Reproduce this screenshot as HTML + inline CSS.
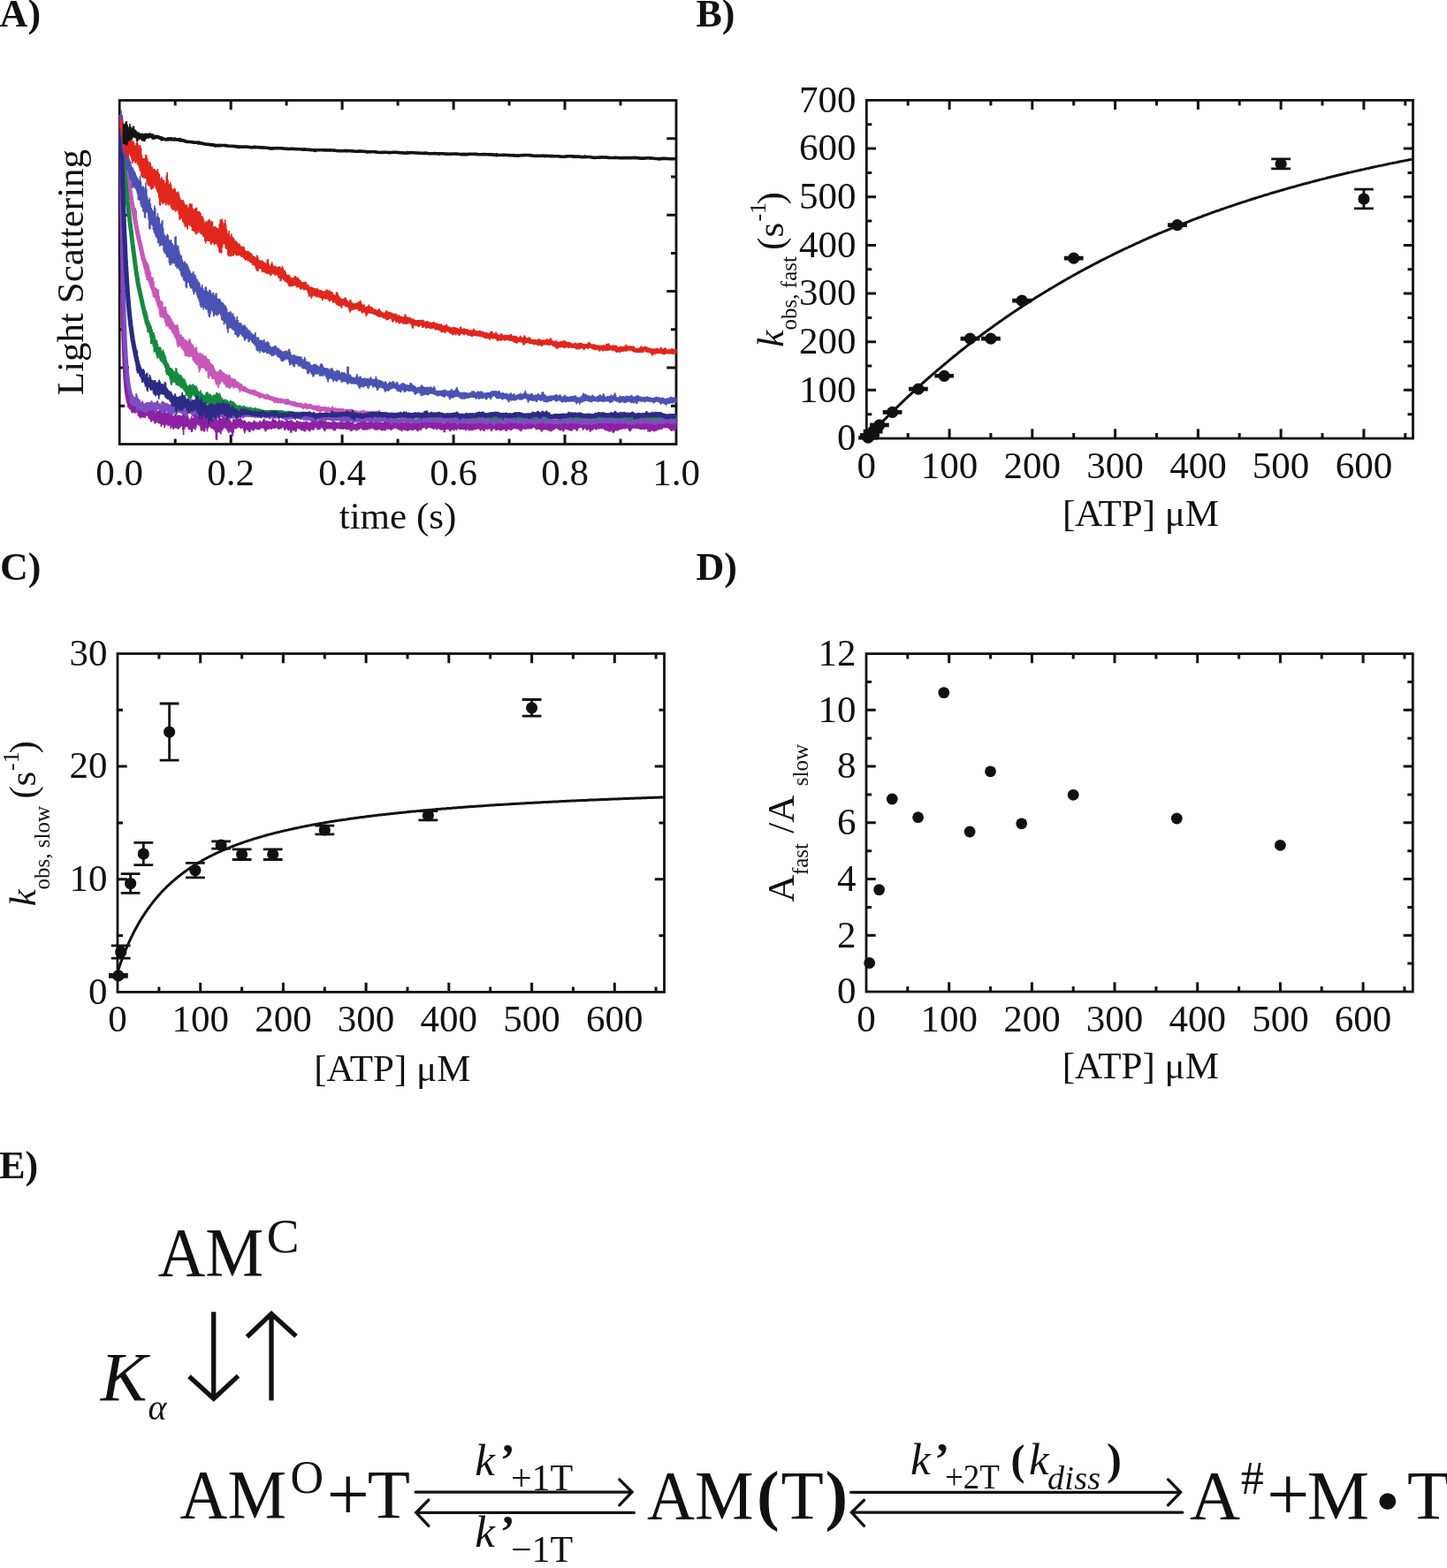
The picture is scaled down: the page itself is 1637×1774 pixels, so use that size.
<!DOCTYPE html><html><head><meta charset="utf-8"><title>Figure</title><style>html,body{margin:0;padding:0;background:#fff;}svg{display:block;}text{font-family:"Liberation Serif","Times New Roman",serif;fill:#111;}.b{font-weight:bold;}.i{font-style:italic;}</style></head><body>
<svg width="1637" height="1774" viewBox="0 0 1637 1774">
<rect width="1637" height="1774" fill="#fff"/>
<g font-size="44" class="b">
<text x="-0.4" y="29.8" class="b">A)</text>
<text x="787.5" y="29.8" class="b">B)</text>
<text x="0" y="656.3" class="b">C)</text>
<text x="787.5" y="656.3" class="b">D)</text>
<text x="-0.8" y="1333" class="b">E)</text>
</g>
<g font-size="43">
<path d="M198.2 502.5V496.5M198.2 113.5V119.5M261.2 502.5V491.8M261.2 113.5V124.2M324.1 502.5V496.5M324.1 113.5V119.5M387.1 502.5V491.8M387.1 113.5V124.2M450.1 502.5V496.5M450.1 113.5V119.5M513.1 502.5V491.8M513.1 113.5V124.2M576.1 502.5V496.5M576.1 113.5V119.5M639 502.5V491.8M639 113.5V124.2M702 502.5V496.5M702 113.5V119.5M135.2 459.3H141.2M765 459.3H759M135.2 416.1H145.9M765 416.1H754.3M135.2 372.8H141.2M765 372.8H759M135.2 329.6H145.9M765 329.6H754.3M135.2 286.4H141.2M765 286.4H759M135.2 243.2H145.9M765 243.2H754.3M135.2 199.9H141.2M765 199.9H759M135.2 156.7H145.9M765 156.7H754.3" stroke="#111" stroke-width="3.0" fill="none"/>
<rect x="135.2" y="113.5" width="629.8" height="389" fill="none" stroke="#111" stroke-width="2.8"/>
<g><path d="M136.6 134.5 136.6 134.5 136.6 134.6 136.6 134.7 136.6 134.9 136.7 135.1 136.7 135.3 136.7 135.6 136.8 136 136.8 136.3 136.9 136.8 136.9 137.3 137 137.8 137 138.3 137.1 138.9 137.2 139.6 137.2 140.2 137.3 141 137.4 141.7 137.5 142.5 137.6 143.3 137.7 144.2 137.8 145.1 137.9 146 138.1 147 138.2 148 138.3 149 138.4 150.1 138.6 151.2 138.7 152.4 138.9 153.6 139 154.8 139.2 156 139.3 157.3 139.5 158.6 139.7 159.9 139.9 161.2 140.1 162.6 140.2 163.9 140.4 165.4 140.6 166.8 140.8 168.4 141.1 170 141.3 171.6 141.5 173.2 141.7 174.8 141.9 176.6 142.2 178.4 142.4 180.2 142.7 182.2 142.9 184.1 143.2 186.1 143.4 188.1 143.7 190.2 144 192.4 144.2 194.5 144.5 196.8 144.8 199.1 145.1 201.4 145.4 203.6 145.7 205.9 146 208.2 146.3 210.4 146.6 212.6 146.9 214.8 147.3 217 147.6 219.2 147.9 221.3 148.3 223.4 148.6 225.5 149 227.6 149.3 229.7 149.7 231.7 150 233.8 150.4 235.7 150.8 237.8 151.2 240 151.6 242.2 152 244.3 152.4 246.5 152.8 248.7 153.2 251 153.6 253.2 154 255.5 154.4 257.7 154.8 259.8 155.3 261.9 155.7 263.9 156.1 266 156.6 268 157 270 157.5 272 158 274 158.4 275.9 158.9 278 159.4 280.1 159.9 282.1 160.3 284.3 160.8 286.5 161.3 288.7 161.8 290.9 162.3 293 162.9 295.1 163.4 297.2 163.9 299.1 164.4 300.9 165 302.5 165.5 304.1 166 305.8 166.6 307.4 167.1 308.8 167.7 310.3 168.3 312 168.8 313.6 169.4 315.3 170 317 170.6 318.7 171.1 320.6 171.7 322.4 172.3 324.1 172.9 325.8 173.5 327.3 174.2 328.8 174.8 330 175.4 331.6 176 333.1 176.7 334.6 177.3 335.9 177.9 337.6 178.6 339.5 179.3 341.1 179.9 343 180.6 344.8 181.2 346.5 181.9 348.2 182.6 349.6 183.3 351 184 352.3 184.7 353.4 185.4 354.4 186.1 355.5 186.8 356.6 187.5 357.7 188.2 359.1 188.9 360.4 189.7 361.6 190.4 363 191.1 364.4 191.9 365.7 192.6 366.6 193.4 367.5 194.1 368.4 194.9 369.2 195.7 370.5 196.5 371.8 197.2 373.4 198 375.2 198.8 377.2 199.6 379.4 200.4 381.4 201.2 383.1 202 384.3 202.8 385.2 203.7 385.9 204.5 386.3 205.3 386.7 206.1 387.3 207 387.9 207.8 388.6 208.7 389.6 209.5 390.5 210.4 391.3 211.3 392 212.1 392.7 213 393.3 213.9 393.8 214.8 394.5 215.7 395.4 216.6 396.3 217.5 397.4 218.4 398.7 219.3 400.2 220.2 401.8 221.1 403.3 222 404.6 223 406 223.9 407.1 224.9 408.1 225.8 408.8 226.7 409.3 227.7 409.7 228.7 409.6 229.6 409.7 230.6 409.8 231.6 409.9 232.6 410.5 233.5 411.6 234.5 412.6 235.5 413.8 236.5 415.1 237.5 416.2 238.6 417.4 239.6 418.8 240.6 420.3 241.6 421.9 242.7 423.9 243.7 425.4 244.7 426.4 245.8 427.2 246.8 427.3 247.9 427 249 426.6 250 426.3 251.1 426.3 252.2 426.5 253.3 427.2 254.3 428.2 255.4 429.3 256.5 430.3 257.6 431 258.7 431.6 259.9 431.8 261 431.9 262.1 432.3 263.2 432.7 264.4 433.3 265.5 434 266.6 434.8 267.8 435.6 268.9 436.3 270.1 436.9 271.3 437.7 272.4 438.3 273.6 438.9 274.8 439.4 276 440 277.2 440.5 278.4 441.2 279.6 441.8 280.8 442.4 282 442.7 283.2 443 284.4 443.2 285.6 443.4 286.9 443.9 288.1 444.4 289.3 445 290.6 445.5 291.8 446 293.1 446.4 294.3 446.8 295.6 447.2 296.9 447.7 298.1 448.2 299.4 448.7 300.7 449.1 302 449.4 303.3 449.6 304.6 449.9 305.9 450.3 307.2 450.7 308.5 451.2 309.8 451.7 311.2 452.2 312.5 452.6 313.8 453.1 315.2 453.4 316.5 453.6 317.9 453.7 319.2 453.7 320.6 453.8 321.9 454.1 323.3 454.6 324.7 455 326.1 455.3 327.5 455.6 328.8 455.9 330.2 456.4 331.6 456.9 333 457.4 334.5 457.8 335.9 458.1 337.3 458.3 338.7 458.5 340.2 458.8 341.6 459.1 343 459.4 344.5 459.4 345.9 459.5 347.4 459.5 348.8 459.6 350.3 460 351.8 460.3 353.3 460.7 354.7 461 356.2 461.2 357.7 461.5 359.2 461.9 360.7 462.2 362.2 462.5 363.7 462.6 365.2 462.7 366.8 462.8 368.3 462.9 369.8 463 371.4 463.2 372.9 463.5 374.5 463.9 376 464.3 377.6 464.7 379.1 464.8 380.7 464.7 382.3 464.4 383.8 464.3 385.4 464.4 387 464.7 388.6 465.2 390.2 465.5 391.8 465.6 393.4 465.5 395 465.5 396.6 465.8 398.3 466.2 399.9 466.7 401.5 467.3 403.2 467.7 404.8 467.8 406.5 467.7 408.1 467.5 409.8 467.2 411.4 467.1 413.1 467.2 414.8 467.5 416.4 467.8 418.1 468 419.8 468.1 421.5 468 423.2 468 424.9 468 426.6 468 428.3 468.3 430.1 468.3 431.8 468.4 433.5 468.4 435.2 468.6 437 469 438.7 469.3 440.5 469.7 442.2 470 444 470.2 445.8 470.2 447.5 469.9 449.3 469.7 451.1 469.8 452.9 470.2 454.6 470.6 456.4 470.8 458.2 470.7 460 470.4 461.9 470 463.7 469.8 465.5 469.8 467.3 470 469.1 470.2 471 470.4 472.8 470.4 474.7 470.4 476.5 470.3 478.4 470 480.2 469.8 482.1 469.8 484 470.2 485.8 470.5 487.7 470.8 489.6 471 491.5 471.1 493.4 470.9 495.3 470.9 497.2 471 499.1 471.3 501 471.6 502.9 471.8 504.9 472.3 506.8 472.8 508.7 472.9 510.7 472.4 512.6 471.6 514.6 471.3 516.5 471.6 518.5 472.1 520.5 472.5 522.4 472.4 524.4 472.2 526.4 471.9 528.4 471.8 530.4 472.1 532.4 472.6 534.4 473.1 536.4 473 538.4 472.6 540.4 471.9 542.4 471.3 544.4 471 546.5 471.1 548.5 471.6 550.5 472.2 552.6 472.7 554.6 473 556.7 473.2 558.8 473.3 560.8 473.1 562.9 472.7 565 472.3 567.1 472.2 569.1 472 571.2 471.7 573.3 471.3 575.4 471.5 577.5 472 579.7 472.3 581.8 472.4 583.9 472.1 586 472 588.2 472.3 590.3 472.9 592.4 473.1 594.6 473 596.7 472.7 598.9 472.5 601.1 472.5 603.2 472.5 605.4 472.5 607.6 472.8 609.8 473.2 612 473.5 614.1 473.5 616.3 473.4 618.5 473.2 620.8 473 623 472.8 625.2 472.7 627.4 472.5 629.6 472.6 631.9 472.8 634.1 472.9 636.4 473.1 638.6 473.5 640.9 473.8 643.1 473.4 645.4 472.8 647.6 472.4 649.9 472.5 652.2 472.5 654.5 472.5 656.8 472.9 659.1 473.5 661.4 473.6 663.7 473 666 472.3 668.3 472.1 670.6 472 672.9 471.9 675.3 472.1 677.6 472.5 679.9 472.7 682.3 472.8 684.6 473.1 687 473.4 689.3 473.4 691.7 473.5 694.1 473.9 696.5 473.8 698.8 473.1 701.2 472.6 703.6 472.6 706 472.8 708.4 472.9 710.8 472.9 713.2 472.6 715.6 472.6 718.1 472.9 720.5 473.1 722.9 472.8 725.3 472.6 727.8 472.5 730.2 472.5 732.7 472.6 735.1 472.9 737.6 473 740.1 473.1 742.5 473.3 745 473.3 747.5 473.5 750 473.5 752.5 473 755 472.6 757.5 472.8 760 473 762.5 472.9 765 472.7" stroke="#c857b9" stroke-width="5.0" fill="none" stroke-linejoin="round"/>
<path d="M136.6 142.4 137 131 137.5 152 137.9 134.9 138.4 161.9 138.8 144.4 139.3 170 139.7 153.8 140.2 173.9 140.6 158.5 141.1 178.8 141.5 159 142 189.5 142.4 166.8 142.9 201.7 143.3 174.3 143.8 202.7 144.2 180.8 144.7 204.5 145.1 193 145.6 211.1 146 201.3 146.5 219.7 146.9 209 147.4 225.3 147.8 213.5 148.3 231 148.7 216.8 149.2 238.6 149.6 221.9 150.1 241.2 150.5 229.3 151 246 151.4 235.2 151.9 251.2 152.3 237.1 152.8 256.8 153.2 235 153.7 261.5 154.1 237.8 154.6 266 155 250.2 155.5 270.9 155.9 258.7 156.4 275.3 156.8 261.8 157.3 279.5 157.7 266 158.2 283.5 158.6 271 159.1 288.8 159.5 274.5 160 293.3 160.4 277.7 160.9 294.9 161.3 281.2 161.8 297.1 162.2 284.2 162.7 299.7 163.1 288.9 163.6 305.1 164 292.3 164.4 309.9 164.9 294.2 165.3 313.4 165.8 296 166.2 317 166.7 297 167.1 316.9 167.6 298.8 168 318.6 168.5 301.5 168.9 319.9 169.4 305.5 169.8 322.2 170.3 308 170.7 324.7 171.2 313.6 171.6 327.8 172.1 315.9 172.5 331.7 173 313.6 173.4 336 173.9 318.2 174.3 336.4 174.8 324.5 175.2 337.1 175.7 325.9 176.1 339.5 176.6 325.5 177 341.8 177.5 327 177.9 345.1 178.4 327 178.8 347.6 179.3 328.1 179.7 349.2 180.2 335.2 180.6 356.5 181.1 339.8 181.5 359.3 182 340.8 182.4 356.5 182.9 340.3 183.3 358.9 183.8 341.8 184.2 359.7 184.7 346.9 185.1 359.9 185.6 349.2 186 361.3 186.5 347.1 186.9 365.3 187.4 346.4 187.8 368.4 188.3 351.5 188.7 369.4 189.2 354.7 189.6 368.7 190.1 355.6 190.5 369.4 191 356.8 191.4 371.8 191.8 357.2 192.3 372.6 192.7 358.7 193.2 372.8 193.6 360.2 194.1 374.7 194.5 362.5 195 377.5 195.4 363.6 195.9 377.4 196.3 365.4 196.8 379.2 197.2 367.3 197.7 381.2 198.1 367.5 198.6 381.7 199 368 199.5 384.8 199.9 367.3 200.4 390 200.8 367.2 201.3 393 201.7 370.4 202.2 392.1 202.6 375.4 203.1 391.2 203.5 378.3 204 391.7 204.4 378.5 204.9 392.9 205.3 378.9 205.8 395.1 206.2 381.1 206.7 395.4 207.1 381 207.6 396.6 208 382.8 208.5 398.7 208.9 384.1 209.4 403 209.8 384.5 210.3 403 210.7 384.4 211.2 402.5 211.6 386.1 212.1 403.2 212.5 386.6 213 404 213.4 385 213.9 403 214.3 383.1 214.8 404.1 215.2 384.8 215.7 403.5 216.1 387.9 216.6 401.9 217 390.7 217.5 404.8 217.9 389.3 218.4 407.9 218.8 391 219.2 408.4 219.7 393.6 220.1 410.3 220.6 395.3 221 410.9 221.5 392.6 221.9 412.4 222.4 392.4 222.8 413.2 223.3 397.8 223.7 413.3 224.2 399.4 224.6 417.3 225.1 402.5 225.5 421.4 226 398.8 226.4 419.1 226.9 399.2 227.3 416.6 227.8 403.9 228.2 416.6 228.7 400.2 229.1 416 229.6 400.8 230 415.4 230.5 402.7 230.9 417.3 231.4 402.5 231.8 417.7 232.3 402.3 232.7 420 233.2 403.3 233.6 419.9 234.1 405.1 234.5 418.1 235 406.1 235.4 426.7 235.9 406.1 236.3 428.6 236.8 407.2 237.2 425.1 237.7 410.3 238.1 425.6 238.6 410.6 239 425.8 239.5 412.2 239.9 428.8 240.4 412.3 240.8 429.2 241.3 413.3 241.7 428.5 242.2 415.9 242.6 428.9 243.1 418.6 243.5 431.9 244 419.8 244.4 435.2 244.9 420.5 245.3 433.6 245.8 421.7 246.2 436.8 246.6 420.7 247.1 438.9 247.5 419.6 248 435.6 248.4 417.9 248.9 434.8 249.3 418.1 249.8 432.6 250.2 419 250.7 431.6 251.1 419.9 251.6 431.7 252 421.6 252.5 432.7 252.9 421.2 253.4 434.9 253.8 422.1 254.3 434.4 254.7 423.9 255.2 436.4 255.6 423.7 256.1 438.6 256.5 422.7 257 438 257.4 424.5 257.9 438.3 258.3 426.4 258.8 439 259.2 423.8 259.7 439.7 260.1 424.6 260.6 438.7 261 428.4 261.5 437.7 261.9 427.9 262.4 436.6 262.8 427.6 263.3 437.7 263.7 428.5 264.2 439.8 264.6 429 265.1 438.6 265.5 428.3 266 438.1 266.4 429.7 266.9 438.5 267.3 430.6 267.8 438.9 268.2 431.7 268.7 439 269.1 432 269.6 438.9 270 432.4 270.5 441.2 270.9 433.6 271.4 444.1 271.8 433.9 272.3 442.2 272.7 434 273.2 441 273.6 434.9 274 441.6 274.5 436.2 274.9 443.1 275.4 437.7 275.8 443.2 276.3 437.4 276.7 442.6 277.2 437 277.6 442.9 278.1 438.3 278.5 443.9 279 439.4 279.4 444.3 279.9 440.2 280.3 444.3 280.8 440.2 281.2 444.7 281.7 440.5 282.1 445.4 282.6 441.2 283 445.6 283.5 441.2 283.9 446.3 284.4 441.3 284.8 446.3 285.3 441.3 285.7 445.5 286.2 441.4 286.6 446.7 287.1 441.2 287.5 447.6 288 440.5 288.4 447 288.9 442.1 289.3 447.1 289.8 442.2 290.2 447.8 290.7 442.6 291.1 448.9 291.6 443.5 292 449 292.5 443.9 292.9 449.8 293.4 444.5 293.8 450.9 294.3 444.6 294.7 449.8 295.2 445.1 295.6 449.5 296.1 445.2 296.5 449.3 297 445.7 297.4 449.7 297.9 446.1 298.3 450 298.8 446.8 299.2 451.1 299.7 447.2 300.1 451.9 300.5 447.3 301 451.6 301.4 446.7 301.9 451.8 302.3 445.3 302.8 452 303.2 446.2 303.7 451.5 304.1 447.4 304.6 451.9 305 447.8 305.5 452.4 305.9 448.3 306.4 452.9 306.8 448.7 307.3 453.1 307.7 449 308.2 453 308.6 448.8 309.1 453.5 309.5 449.4 310 455.5 310.4 450.1 310.9 456.3 311.3 449.9 311.8 454.9 312.2 449.6 312.7 454.9 313.1 449.9 313.6 456.3 314 449.8 314.5 456.2 314.9 450.5 315.4 455.6 315.8 450.7 316.3 456 316.7 451.5 317.2 456.3 317.6 450.5 318.1 456.2 318.5 450.7 319 455.7 319.4 451.5 319.9 455.7 320.3 451.5 320.8 455.9 321.2 452 321.7 456.2 322.1 452.4 322.6 457.3 323 451.4 323.5 457.9 323.9 451.7 324.4 457.8 324.8 451.4 325.3 457.4 325.7 451.1 326.2 457.6 326.6 452 327.1 457.8 327.5 453.2 327.9 458 328.4 454.1 328.8 458 329.3 454.4 329.7 458 330.2 454.2 330.6 458.3 331.1 453.9 331.5 458.9 332 454.7 332.4 459.2 332.9 454.7 333.3 459.4 333.8 454.2 334.2 459.9 334.7 454.9 335.1 460.3 335.6 455.8 336 460.4 336.5 456.3 336.9 460.2 337.4 455.6 337.8 460.3 338.3 455.7 338.7 460.3 339.2 456.4 339.6 460.3 340.1 455.5 340.5 460.9 341 456.2 341.4 461.1 341.9 457 342.3 461.8 342.8 457.1 343.2 463.3 343.7 456.9 344.1 462.3 344.6 456.7 345 462 345.5 455.5 345.9 462.2 346.4 456.3 346.8 462.7 347.3 456.8 347.7 463.4 348.2 457.3 348.6 462.2 349.1 457.5 349.5 461.7 350 457.7 350.4 462.1 350.9 456.7 351.3 462.3 351.8 457 352.2 462.2 352.7 459 353.1 462.5 353.6 459.2 354 463.5 354.5 459.4 354.9 464.1 355.3 459.3 355.8 464.2 356.2 458.7 356.7 464.3 357.1 458.9 357.6 464.5 358 459.3 358.5 465.5 358.9 459.5 359.4 465.3 359.8 458.2 360.3 465.7 360.7 458.6 361.2 465.7 361.6 459.8 362.1 466.8 362.5 459.9 363 466.8 363.4 460.9 363.9 466 364.3 460.9 364.8 465.3 365.2 460.8 365.7 464.6 366.1 460.4 366.6 464.5 367 460.2 367.5 464.9 367.9 460.2 368.4 465.7 368.8 460.6 369.3 465.9 369.7 461 370.2 465.8 370.6 461.2 371.1 465.9 371.5 460.7 372 465.4 372.4 461.2 372.9 465.5 373.3 461.9 373.8 465.7 374.2 461.9 374.7 466.5 375.1 461 375.6 466.7 376 459.3 376.5 468 376.9 460.8 377.4 469.1 377.8 462.8 378.3 467.5 378.7 461.9 379.2 466.7 379.6 460.8 380.1 466.6 380.5 462 381 466.2 381.4 462.6 381.9 467.1 382.3 462.2 382.7 468 383.2 462.4 383.6 467.4 384.1 462.6 384.5 466.5 385 462.3 385.4 467.2 385.9 462.2 386.3 468.7 386.8 462.4 387.2 467.6 387.7 461.9 388.1 467 388.6 462.9 389 466.9 389.5 463.2 389.9 467.1 390.4 462.9 390.8 468.1 391.3 463.4 391.7 468 392.2 463.6 392.6 467.3 393.1 463.7 393.5 467.8 394 463.6 394.4 468.2 394.9 463.7 395.3 467.9 395.8 462.9 396.2 468 396.7 462.6 397.1 467.9 397.6 463.1 398 468.8 398.5 463.9 398.9 469.7 399.4 464.4 399.8 469.6 400.3 464.7 400.7 469.5 401.2 464.9 401.6 469.6 402.1 464.2 402.5 469.7 403 464.2 403.4 469.7 403.9 465.1 404.3 469.6 404.8 465.1 405.2 469.7 405.7 465.6 406.1 469.7 406.6 465.5 407 469.4 407.5 464.6 407.9 469.5 408.4 464.5 408.8 469.5 409.3 465.2 409.7 471.3 410.1 464.6 410.6 472.1 411 463.9 411.5 470.4 411.9 464.7 412.4 469 412.8 465 413.3 469.8 413.7 465.1 414.2 469.9 414.6 465.5 415.1 469.6 415.5 465.8 416 469.6 416.4 465.5 416.9 469.5 417.3 465.7 417.8 470.1 418.2 466 418.7 470.5 419.1 465.8 419.6 470.1 420 466.2 420.5 469.6 420.9 466 421.4 470 421.8 465 422.3 470.6 422.7 464.7 423.2 470.3 423.6 465.2 424.1 470.7 424.5 465.5 425 472.2 425.4 465.5 425.9 471.1 426.3 464.7 426.8 470.5 427.2 465.2 427.7 470.9 428.1 465.1 428.6 470.7 429 464.1 429.5 470.3 429.9 465.6 430.4 470.1 430.8 466.4 431.3 470.1 431.7 466.1 432.2 470.3 432.6 466.2 433.1 471.2 433.5 466.5 434 471.7 434.4 466.5 434.9 470.9 435.3 466.4 435.8 470.8 436.2 465.9 436.7 471.2 437.1 466.3 437.5 471.4 438 467.3 438.4 471.9 438.9 466.5 439.3 471.8 439.8 466.6 440.2 471.8 440.7 467.5 441.1 472 441.6 467.7 442 471.9 442.5 467.8 442.9 473 443.4 468.2 443.8 473.5 444.3 467.9 444.7 472.8 445.2 468.2 445.6 472.4 446.1 468.2 446.5 471.8 447 467.1 447.4 471.9 447.9 466.9 448.3 472.3 448.8 467.6 449.2 472.4 449.7 466.9 450.1 472.2 450.6 467.1 451 471.8 451.5 467.6 451.9 472.3 452.4 468.1 452.8 472.7 453.3 468.4 453.7 472.1 454.2 468 454.6 472.3 455.1 468.2 455.5 472.6 456 468.6 456.4 472.5 456.9 468.2 457.3 473 457.8 468.4 458.2 473.8 458.7 468.6 459.1 472.8 459.6 468.4 460 473.4 460.5 468 460.9 474.2 461.4 468.3 461.8 473 462.3 468.3 462.7 472.3 463.2 468.1 463.6 471.7 464.1 467.4 464.5 472 464.9 467.6 465.4 472.2 465.8 467.8 466.3 472.6 466.7 467.2 467.2 473.4 467.6 467.2 468.1 472.4 468.5 468 469 471.8 469.4 468.5 469.9 471.9 470.3 468.2 470.8 472 471.2 467.3 471.7 472.3 472.1 467.8 472.6 472.4 473 466.8 473.5 472.3 473.9 467 474.4 472.8 474.8 468.7 475.3 474.4 475.7 468.5 476.2 475.9 476.6 468.2 477.1 474.7 477.5 467.5 478 473.3 478.4 466.5 478.9 473 479.3 466.8 479.8 472.6 480.2 467.5 480.7 472.1 481.1 467.3 481.6 471.4 482 466.7 482.5 471.5 482.9 466.7 483.4 472.5 483.8 468 484.3 474.4 484.7 468.1 485.2 474.2 485.6 468.3 486.1 472.4 486.5 468.1 487 472.3 487.4 468.4 487.9 472.8 488.3 469.3 488.8 473.3 489.2 469 489.7 473.4 490.1 468.1 490.6 473.1 491 467.9 491.5 473.1 491.9 468.9 492.3 473.4 492.8 469.4 493.2 473.4 493.7 468.9 494.1 473.6 494.6 468.1 495 474.9 495.5 468.6 495.9 473.9 496.4 469.1 496.8 473 497.3 468.9 497.7 473.4 498.2 468.5 498.6 473.7 499.1 467.4 499.5 473.5 500 468 500.4 473.5 500.9 469.6 501.3 474.3 501.8 468.7 502.2 474.2 502.7 468.7 503.1 473.6 503.6 470.1 504 473.9 504.5 470.2 504.9 474.6 505.4 470 505.8 476.1 506.3 470.7 506.7 476.2 507.2 470 507.6 474.9 508.1 469.5 508.5 475.4 509 469.2 509.4 476 509.9 469.5 510.3 475.1 510.8 470.2 511.2 474.4 511.7 469.9 512.1 473.7 512.6 469.5 513 473.1 513.5 468.9 513.9 474.4 514.4 468.8 514.8 476.2 515.3 468.6 515.7 474.6 516.2 468.9 516.6 474.4 517.1 469.4 517.5 474.6 518 469.4 518.4 473.7 518.9 469.4 519.3 474.2 519.7 469.8 520.2 474.7 520.6 470.6 521.1 475 521.5 470.6 522 475 522.4 470.3 522.9 475.2 523.3 470 523.8 475.7 524.2 470.3 524.7 475.1 525.1 469.9 525.6 474.7 526 469.6 526.5 474.7 526.9 469.5 527.4 474.1 527.8 469.2 528.3 475.1 528.7 469.7 529.2 474.9 529.6 469.3 530.1 475.4 530.5 469.2 531 476.4 531.4 470.3 531.9 475.2 532.3 470.7 532.8 475.3 533.2 470.6 533.7 475.4 534.1 470.4 534.6 475.4 535 470.4 535.5 475.4 535.9 470.8 536.4 475.3 536.8 470.8 537.3 475.6 537.7 470.3 538.2 475 538.6 470.4 539.1 473.9 539.5 470 540 474.4 540.4 469.8 540.9 474.2 541.3 469.7 541.8 473.8 542.2 468 542.7 474 543.1 467.4 543.6 474.1 544 468.1 544.5 473.4 544.9 467.9 545.4 473 545.8 468.5 546.3 473.5 546.7 469.3 547.1 474.1 547.6 469.1 548 474.5 548.5 469.2 548.9 473.9 549.4 469.8 549.8 474.3 550.3 470.3 550.7 474.9 551.2 470.4 551.6 474.7 552.1 470.8 552.5 474.9 553 471 553.4 475.4 553.9 471 554.3 475.6 554.8 470.9 555.2 476.3 555.7 470.8 556.1 476.2 556.6 470.7 557 475.9 557.5 470.2 557.9 475.9 558.4 470.8 558.8 475.5 559.3 471.1 559.7 475.4 560.2 470.9 560.6 474.8 561.1 471.1 561.5 475 562 471.1 562.4 475.2 562.9 471.1 563.3 475 563.8 470.6 564.2 474.6 564.7 470.2 565.1 474.1 565.6 468.7 566 474 566.5 468.6 566.9 473.9 567.4 470.5 567.8 474.2 568.3 470.5 568.7 474.6 569.2 470.3 569.6 475.2 570.1 469.1 570.5 475 571 468.9 571.4 475.3 571.9 469.4 572.3 473.9 572.8 468.9 573.2 473.1 573.7 469.3 574.1 473.4 574.5 469.2 575 473.7 575.4 468.1 575.9 473.8 576.3 468.2 576.8 473.8 577.2 468.8 577.7 474.1 578.1 469.5 578.6 474.9 579 470.2 579.5 475.6 579.9 470 580.4 476.3 580.8 470.1 581.3 475.1 581.7 470.6 582.2 474.9 582.6 470.5 583.1 475.5 583.5 469.9 584 475 584.4 469.9 584.9 474 585.3 470.2 585.8 475 586.2 469.6 586.7 475.2 587.1 469.6 587.6 474.4 588 470.6 588.5 474.6 588.9 470.6 589.4 474.7 589.8 470.4 590.3 475.1 590.7 470 591.2 475.5 591.6 470.3 592.1 475.4 592.5 470.3 593 475.5 593.4 470.4 593.9 475.4 594.3 470.8 594.8 474.7 595.2 470.5 595.7 475.3 596.1 470.8 596.6 476.7 597 471 597.5 475.7 597.9 470.6 598.4 474.8 598.8 470.3 599.3 474.8 599.7 470.4 600.2 474.6 600.6 470.6 601.1 474.9 601.5 470.3 601.9 475 602.4 469.2 602.8 475.5 603.3 469.1 603.7 475 604.2 469.8 604.6 474.4 605.1 469.4 605.5 474.1 606 469.5 606.4 474.9 606.9 468.6 607.3 475.7 607.8 470 608.2 475.2 608.7 470.8 609.1 475.2 609.6 471.1 610 475.6 610.5 471.4 610.9 477.6 611.4 471.3 611.8 477.4 612.3 470.8 612.7 476 613.2 471 613.6 476.8 614.1 471.5 614.5 477.3 615 471.1 615.4 476.1 615.9 471 616.3 475.5 616.8 470.5 617.2 475.8 617.7 470.2 618.1 475 618.6 470.7 619 475.1 619.5 470.1 619.9 475.1 620.4 470.5 620.8 474.6 621.3 471.1 621.7 474.6 622.2 470.6 622.6 475 623.1 470.3 623.5 475.5 624 469.8 624.4 475 624.9 470.1 625.3 474.5 625.8 470.3 626.2 474.4 626.7 470.4 627.1 474.2 627.6 469.8 628 474.7 628.4 470 628.9 475.3 629.3 470.3 629.8 475.3 630.2 470.3 630.7 474.6 631.1 470.9 631.6 474.6 632 471 632.5 475 632.9 471 633.4 475.3 633.8 471.3 634.3 474.8 634.7 470.8 635.2 474.8 635.6 470.2 636.1 476.6 636.5 470.9 637 476.6 637.4 470.7 637.9 475.4 638.3 470.5 638.8 476.2 639.2 471.6 639.7 477.2 640.1 471.3 640.6 476.2 641 470.6 641.5 476.1 641.9 470.7 642.4 477 642.8 471.1 643.3 475.8 643.7 470.9 644.2 474.9 644.6 470.4 645.1 474.7 645.5 470.8 646 474.6 646.4 470.7 646.9 474.4 647.3 470.7 647.8 475 648.2 470.8 648.7 476.1 649.1 470.6 649.6 475.1 650 470 650.5 474.7 650.9 469.3 651.4 474.6 651.8 470.1 652.3 474.3 652.7 470.4 653.2 474.6 653.6 470.4 654.1 474.7 654.5 470.9 655 475.1 655.4 470.6 655.8 476.9 656.3 470.4 656.7 476.8 657.2 470.8 657.6 476 658.1 471.3 658.5 475.5 659 471.6 659.4 476.2 659.9 471.5 660.3 476.2 660.8 471.4 661.2 475.9 661.7 470.8 662.1 475.6 662.6 471 663 475.2 663.5 470.6 663.9 475.8 664.4 470.1 664.8 475.6 665.3 470.7 665.7 474.5 666.2 470.7 666.6 474.4 667.1 470.1 667.5 474.1 668 469.9 668.4 474.3 668.9 469.9 669.3 474.9 669.8 469.6 670.2 474.1 670.7 469.5 671.1 473.9 671.6 469.8 672 474 672.5 469.7 672.9 473.6 673.4 469.5 673.8 474.2 674.3 470 674.7 475.4 675.2 470.5 675.6 474.8 676.1 470.3 676.5 475.2 677 470.5 677.4 475.7 677.9 470.8 678.3 474.8 678.8 470.6 679.2 474.9 679.7 470.7 680.1 475 680.6 470.7 681 475.6 681.5 470.6 681.9 475.7 682.4 469 682.8 476 683.2 468.7 683.7 477.1 684.1 470.3 684.6 475.8 685 470.5 685.5 475.5 685.9 470 686.4 476.1 686.8 471.1 687.3 477.4 687.7 470.8 688.2 476.6 688.6 469.4 689.1 477 689.5 470.7 690 478.1 690.4 471.8 690.9 478.3 691.3 471.1 691.8 477.9 692.2 470.6 692.7 476.8 693.1 471.2 693.6 475.9 694 471.2 694.5 475.8 694.9 471.2 695.4 475.9 695.8 471.8 696.3 476 696.7 471.9 697.2 476.3 697.6 471.7 698.1 475.8 698.5 471.5 699 474.8 699.4 470.9 699.9 475 700.3 470.5 700.8 475.9 701.2 470.4 701.7 475.6 702.1 469.8 702.6 475.8 703 469.5 703.5 477.1 703.9 470.1 704.4 475.8 704.8 470.1 705.3 475.1 705.7 469.4 706.2 475.6 706.6 469.3 707.1 476.7 707.5 470.3 708 475.5 708.4 470.8 708.9 475.1 709.3 471.1 709.8 475.1 710.2 470.5 710.6 475.1 711.1 470.2 711.5 475.1 712 470 712.4 474.8 712.9 469.3 713.3 474.8 713.8 469.1 714.2 476.4 714.7 469.1 715.1 478.3 715.6 469.6 716 476.2 716.5 469.8 716.9 474.9 717.4 470.7 717.8 474.9 718.3 471.4 718.7 475.3 719.2 471.2 719.6 475.2 720.1 471.2 720.5 475 721 471.5 721.4 474.8 721.9 470.8 722.3 474.8 722.8 470.4 723.2 475.5 723.7 470.3 724.1 476.2 724.6 470.6 725 475.3 725.5 470.8 725.9 474.3 726.4 469.8 726.8 474.4 727.3 469.1 727.7 474.5 728.2 468.4 728.6 474.4 729.1 469.4 729.5 474.6 730 470.1 730.4 474.3 730.9 470 731.3 474.9 731.8 470.2 732.2 475 732.7 470.8 733.1 474.8 733.6 471 734 475.3 734.5 471 734.9 475.2 735.4 470.7 735.8 475.3 736.3 470.1 736.7 474.8 737.2 469.8 737.6 475.1 738 470.2 738.5 475.8 738.9 471.1 739.4 475.5 739.8 470.8 740.3 475.3 740.7 471 741.2 475.1 741.6 471.4 742.1 475.2 742.5 471.2 743 475.4 743.4 471.2 743.9 475.8 744.3 471.4 744.8 475.9 745.2 471.6 745.7 475.6 746.1 471.5 746.6 475.2 747 471.7 747.5 475.4 747.9 471.2 748.4 476.2 748.8 470 749.3 477.6 749.7 470.4 750.2 477.2 750.6 470.7 751.1 475.9 751.5 470.7 752 475.8 752.4 470.6 752.9 475.7 753.3 471 753.8 475.7 754.2 470.9 754.7 475 755.1 470.5 755.6 474.7 756 469.5 756.5 475.3 756.9 468.6 757.4 476.3 757.8 469.6 758.3 476.6 758.7 469.5 759.2 476.7 759.6 470.4 760.1 475.8 760.5 470.9 761 476.4 761.4 470.1 761.9 476 762.3 469.6 762.8 474.8 763.2 470.2 763.7 474.4 764.1 470.7 764.6 474.4 765 471.1" stroke="#c857b9" stroke-width="1.6" fill="none" stroke-linejoin="bevel"/>
<path d="M136.6 136.2 136.6 136.2 136.6 136.3 136.6 136.5 136.6 136.8 136.7 137.1 136.7 137.5 136.7 138 136.8 138.6 136.8 139.2 136.9 139.9 136.9 140.7 137 141.5 137 142.5 137.1 143.4 137.2 144.5 137.2 145.6 137.3 146.8 137.4 148 137.5 149.3 137.6 150.7 137.7 152.2 137.8 153.7 137.9 155.3 138.1 156.9 138.2 158.6 138.3 160.4 138.4 162.2 138.6 164.1 138.7 166 138.9 168 139 170.1 139.2 172.2 139.3 174.4 139.5 176.6 139.7 178.8 139.9 181.1 140.1 183.4 140.2 185.7 140.4 188.1 140.6 190.5 140.8 192.9 141.1 195.4 141.3 197.8 141.5 200.3 141.7 202.9 141.9 205.5 142.2 208 142.4 210.4 142.7 212.9 142.9 215.4 143.2 218 143.4 220.5 143.7 223 144 225.5 144.2 228 144.5 230.4 144.8 232.9 145.1 235.4 145.4 237.9 145.7 240.4 146 242.9 146.3 245.4 146.6 248 146.9 250.6 147.3 253.2 147.6 255.9 147.9 258.6 148.3 261.3 148.6 264.2 149 267.1 149.3 270 149.7 273 150 276 150.4 279.1 150.8 282.2 151.2 285.3 151.6 288.4 152 291.5 152.4 294.6 152.8 297.7 153.2 300.8 153.6 303.9 154 306.9 154.4 309.7 154.8 312.4 155.3 315 155.7 317.6 156.1 320.2 156.6 322.6 157 324.9 157.5 327.1 158 329.2 158.4 331.4 158.9 333.5 159.4 335.6 159.9 337.8 160.3 339.9 160.8 342.1 161.3 344.2 161.8 346.6 162.3 348.8 162.9 351.1 163.4 353.3 163.9 355.4 164.4 357.3 165 359.5 165.5 361.3 166 363.1 166.6 364.8 167.1 366.4 167.7 367.8 168.3 369.4 168.8 370.8 169.4 372.3 170 373.7 170.6 375.3 171.1 376.9 171.7 378.6 172.3 380.3 172.9 382.1 173.5 383.9 174.2 385.7 174.8 387.5 175.4 389.3 176 390.9 176.7 392.4 177.3 393.9 177.9 395.2 178.6 396.5 179.3 397.7 179.9 398.7 180.6 399.7 181.2 400.6 181.9 401.6 182.6 402.5 183.3 403.4 184 404.4 184.7 405.6 185.4 406.8 186.1 408.2 186.8 409.8 187.5 411.7 188.2 413.7 188.9 415.6 189.7 417.6 190.4 419.3 191.1 420.8 191.9 422 192.6 423 193.4 423.7 194.1 424.3 194.9 424.6 195.7 424.9 196.5 425.4 197.2 425.8 198 426.4 198.8 426.9 199.6 427.3 200.4 427.9 201.2 428.5 202 429.3 202.8 430 203.7 430.8 204.5 431.5 205.3 432.4 206.1 433.5 207 434.4 207.8 435.4 208.7 436.6 209.5 437.9 210.4 439.3 211.3 440.5 212.1 441.6 213 442.4 213.9 442.7 214.8 442.7 215.7 442.4 216.6 441.8 217.5 441.2 218.4 441.1 219.3 441.5 220.2 442 221.1 442.9 222 444.1 223 445.4 223.9 446.7 224.9 448 225.8 449.4 226.7 450.6 227.7 451.7 228.7 452.7 229.6 453.1 230.6 453.1 231.6 452.7 232.6 451.9 233.5 451 234.5 450.3 235.5 450.2 236.5 450.5 237.5 451.3 238.6 452.6 239.6 453.6 240.6 454.3 241.6 454.7 242.7 454.6 243.7 454.1 244.7 453.5 245.8 453.2 246.8 453.3 247.9 453.6 249 454.6 250 455.5 251.1 456.7 252.2 457.8 253.3 458.7 254.3 459.5 255.4 460 256.5 460.1 257.6 459.8 258.7 459.4 259.9 459 261 458.7 262.1 458.6 263.2 458.9 264.4 459.4 265.5 460 266.6 460.7 267.8 461.4 268.9 461.9 270.1 462.3 271.3 462.4 272.4 462.5 273.6 462.4 274.8 462.4 276 462.4 277.2 462.5 278.4 462.7 279.6 463 280.8 463.2 282 463.5 283.2 463.7 284.4 464 285.6 464.1 286.9 464.3 288.1 464.4 289.3 464.5 290.6 464.6 291.8 464.8 293.1 465 294.3 465.3 295.6 465.6 296.9 465.9 298.1 466.2 299.4 466.4 300.7 466.5 302 466.5 303.3 466.4 304.6 466.3 305.9 466.2 307.2 466.2 308.5 466.2 309.8 466.3 311.2 466.4 312.5 466.5 313.8 466.5 315.2 466.5 316.5 466.6 317.9 466.8 319.2 467 320.6 467.2 321.9 467.4 323.3 467.7 324.7 467.9 326.1 468.1 327.5 468.2 328.8 468.3 330.2 468.4 331.6 468.5 333 468.4 334.5 468.3 335.9 468.2 337.3 468.2 338.7 468.4 340.2 468.6 341.6 468.9 343 469 344.5 469 345.9 469 347.4 468.9 348.8 468.8 350.3 468.9 351.8 469 353.3 469.3 354.7 469.6 356.2 469.9 357.7 470.1 359.2 470.1 360.7 470 362.2 469.9 363.7 469.7 365.2 469.7 366.8 469.8 368.3 470 369.8 470 371.4 469.9 372.9 469.7 374.5 469.6 376 469.6 377.6 469.6 379.1 469.7 380.7 469.8 382.3 470 383.8 470.2 385.4 470.2 387 470.2 388.6 470.1 390.2 470.2 391.8 470.3 393.4 470.4 395 470.4 396.6 470.4 398.3 470.3 399.9 470.4 401.5 470.6 403.2 470.7 404.8 470.8 406.5 470.9 408.1 470.9 409.8 470.8 411.4 470.8 413.1 470.7 414.8 470.6 416.4 470.5 418.1 470.5 419.8 470.6 421.5 470.8 423.2 471 424.9 470.9 426.6 470.7 428.3 470.6 430.1 470.7 431.8 470.8 433.5 470.9 435.2 471 437 471.1 438.7 471.3 440.5 471.4 442.2 471.5 444 471.5 445.8 471.4 447.5 471.3 449.3 471.1 451.1 471 452.9 471.1 454.6 471.3 456.4 471.3 458.2 471.1 460 470.8 461.9 470.7 463.7 470.7 465.5 470.7 467.3 470.6 469.1 470.5 471 470.7 472.8 471.2 474.7 471.8 476.5 472.1 478.4 472.1 480.2 471.9 482.1 471.8 484 471.6 485.8 471.3 487.7 471.2 489.6 471.3 491.5 471.4 493.4 471.3 495.3 471 497.2 471 499.1 471.1 501 471.3 502.9 471.3 504.9 471.3 506.8 471.3 508.7 471.1 510.7 471.2 512.6 471.4 514.6 471.5 516.5 471.6 518.5 471.6 520.5 471.6 522.4 471.6 524.4 471.6 526.4 471.6 528.4 471.5 530.4 471.5 532.4 471.5 534.4 471.5 536.4 471.5 538.4 471.5 540.4 471.4 542.4 471.3 544.4 471.4 546.5 471.5 548.5 471.6 550.5 471.8 552.6 472 554.6 472.3 556.7 472.3 558.8 472 560.8 471.6 562.9 471.4 565 471.4 567.1 471.3 569.1 471.2 571.2 471.1 573.3 471.4 575.4 471.8 577.5 471.9 579.7 471.7 581.8 471.4 583.9 471.3 586 471.4 588.2 471.7 590.3 471.9 592.4 472.3 594.6 472.5 596.7 472.5 598.9 472.4 601.1 472.6 603.2 472.4 605.4 471.9 607.6 471.5 609.8 471.3 612 471.3 614.1 471.6 616.3 472.1 618.5 472.4 620.8 472.2 623 471.9 625.2 471.6 627.4 471.3 629.6 471.1 631.9 471.2 634.1 471.5 636.4 471.8 638.6 471.7 640.9 471.6 643.1 471.5 645.4 471.5 647.6 471.2 649.9 471 652.2 471.3 654.5 471.7 656.8 471.6 659.1 471.6 661.4 471.9 663.7 472.1 666 471.9 668.3 471.8 670.6 471.9 672.9 472.2 675.3 472.4 677.6 472.2 679.9 471.6 682.3 471.2 684.6 471.1 687 471.2 689.3 471.2 691.7 471.4 694.1 471.5 696.5 471.7 698.8 471.6 701.2 471.4 703.6 471.3 706 471.7 708.4 472.4 710.8 472.9 713.2 472.8 715.6 472.3 718.1 471.7 720.5 471.4 722.9 471.3 725.3 471.3 727.8 471.3 730.2 471.3 732.7 471.5 735.1 471.7 737.6 471.7 740.1 471.7 742.5 471.8 745 471.5 747.5 471 750 470.8 752.5 471.4 755 471.9 757.5 472 760 471.9 762.5 471.9 765 472" stroke="#148a3e" stroke-width="5.0" fill="none" stroke-linejoin="round"/>
<path d="M136.6 142 137 136.7 137.5 154.5 137.9 149.4 138.4 166.6 138.8 160.4 139.3 180 139.7 170 140.2 192.1 140.6 183.7 141.1 206.2 141.5 194.9 142 215.6 142.4 204.3 142.9 220.8 143.3 211 143.8 233.8 144.2 218.6 144.7 242.1 145.1 227.9 145.6 245 146 235.6 146.5 253.2 146.9 243.9 147.4 260 147.8 251.8 148.3 268.9 148.7 258.4 149.2 279.6 149.6 266.6 150.1 284 150.5 274.1 151 293.1 151.4 281.4 151.9 299.9 152.3 288.7 152.8 303.3 153.2 291.5 153.7 311.7 154.1 295 154.6 317.7 155 302.4 155.5 321.4 155.9 308.6 156.4 326.9 156.8 315.9 157.3 332 157.7 322.3 158.2 336.2 158.6 326.1 159.1 339.9 159.5 329.8 160 344.3 160.4 333.9 160.9 348.1 161.3 338.9 161.8 351.9 162.2 343.3 162.7 357.2 163.1 346.9 163.6 362.3 164 349.2 164.4 366.1 164.9 351.6 165.3 367.9 165.8 352.4 166.2 370.9 166.7 356.3 167.1 376 167.6 362.2 168 376.2 168.5 363.9 168.9 377.1 169.4 365.6 169.8 381.5 170.3 367.5 170.7 389 171.2 369.5 171.6 389.2 172.1 372.5 172.5 387.8 173 376.2 173.4 392.3 173.9 375.8 174.3 398.4 174.8 378.5 175.2 398.7 175.7 383.9 176.1 398.6 176.6 384.8 177 401.7 177.5 384.7 177.9 405.5 178.4 388.8 178.8 404.8 179.3 392.7 179.7 404.4 180.2 393.2 180.6 406.3 181.1 392.2 181.5 408.5 182 393.8 182.4 409.3 182.9 397.1 183.3 409.7 183.8 397.2 184.2 411.1 184.7 395.6 185.1 412.5 185.6 398.4 186 413.5 186.5 400.9 186.9 415.6 187.4 402.9 187.8 421.6 188.3 407.7 188.7 424.1 189.2 409.9 189.6 423.8 190.1 410.7 190.5 425.3 191 413.1 191.4 426.1 191.8 415.5 192.3 429.5 192.7 416.1 193.2 434.4 193.6 416 194.1 435.9 194.5 417 195 433.3 195.4 418 195.9 431.5 196.3 419.9 196.8 432.6 197.2 420.1 197.7 432.3 198.1 420.8 198.6 433.6 199 416.2 199.5 436 199.9 416.7 200.4 435.5 200.8 421.6 201.3 436.6 201.7 422 202.2 436.4 202.6 424.1 203.1 437 203.5 423.9 204 438.3 204.4 423.9 204.9 439.2 205.3 425 205.8 438.3 206.2 427.1 206.7 439.6 207.1 428.4 207.6 441.4 208 428.3 208.5 442.1 208.9 429 209.4 443.5 209.8 431.2 210.3 446.7 210.7 433.8 211.2 447.9 211.6 435.9 212.1 448 212.5 437 213 449.6 213.4 436.6 213.9 450.1 214.3 434.7 214.8 451.1 215.2 435.3 215.7 452.6 216.1 435.2 216.6 450.2 217 435.3 217.5 447.8 217.9 434.6 218.4 447.3 218.8 434.6 219.2 447.3 219.7 436.3 220.1 448.9 220.6 436.4 221 449.2 221.5 436.4 221.9 450.5 222.4 437.1 222.8 451.9 223.3 439.2 223.7 452.8 224.2 441.8 224.6 453.6 225.1 443 225.5 455.1 226 442.9 226.4 456.8 226.9 441.4 227.3 458 227.8 444 228.2 460.4 228.7 445.3 229.1 464 229.6 446.3 230 462.5 230.5 446.9 230.9 459.1 231.4 447.6 231.8 457.8 232.3 446.8 232.7 458.8 233.2 444.3 233.6 459.9 234.1 443.3 234.5 456.9 235 443.7 235.4 454.8 235.9 445.6 236.3 457.7 236.8 445.8 237.2 458.4 237.7 445.6 238.1 457 238.6 446.8 239 461.2 239.5 448 239.9 463.6 240.4 448.3 240.8 461.3 241.3 446.7 241.7 460.1 242.2 446.6 242.6 464.6 243.1 448.3 243.5 463.9 244 446 244.4 459.8 244.9 443.9 245.3 460.5 245.8 444.3 246.2 461.1 246.6 445.5 247.1 460.8 247.5 445.5 248 460.1 248.4 444.4 248.9 459.8 249.3 446.7 249.8 460.6 250.2 449.5 250.7 461.9 251.1 450.1 251.6 466.7 252 451.7 252.5 467.2 252.9 451.9 253.4 463.6 253.8 452.9 254.3 464 254.7 451.6 255.2 464.6 255.6 451.7 256.1 464.5 256.5 453.4 257 463.8 257.4 452.5 257.9 464.6 258.3 453.8 258.8 465.7 259.2 455.5 259.7 464.1 260.1 453.5 260.6 463.1 261 452.5 261.5 462.2 261.9 454.2 262.4 461.6 262.8 454.1 263.3 462.2 263.7 453.8 264.2 463.6 264.6 455.2 265.1 463.8 265.5 455.9 266 463.5 266.4 456.7 266.9 464.4 267.3 458.4 267.8 464.8 268.2 459.2 268.7 464.4 269.1 459.9 269.6 464.1 270 458.6 270.5 464.6 270.9 458.2 271.4 464.4 271.8 458.7 272.3 464.8 272.7 459.2 273.2 465.9 273.6 459.7 274 465.1 274.5 459.9 274.9 464 275.4 458.7 275.8 463.9 276.3 459.4 276.7 465.3 277.2 460.7 277.6 466.1 278.1 460.9 278.5 465.3 279 461.1 279.4 464.9 279.9 461.1 280.3 465.1 280.8 460.9 281.2 465.9 281.7 461.5 282.1 466.6 282.6 461.2 283 466 283.5 460.4 283.9 466.1 284.4 461.6 284.8 466.2 285.3 462.3 285.7 466 286.2 462.2 286.6 467.4 287.1 462.7 287.5 467.9 288 461.3 288.4 466.6 288.9 461.1 289.3 466.4 289.8 462.6 290.2 466.5 290.7 462.8 291.1 466.4 291.6 462.6 292 466.6 292.5 462.7 292.9 466.4 293.4 463.1 293.8 467 294.3 463.5 294.7 468.3 295.2 463.9 295.6 467.8 296.1 464.2 296.5 467.9 297 464.2 297.4 468 297.9 464.3 298.3 467.7 298.8 464.7 299.2 467.8 299.7 465 300.1 468.5 300.5 465.1 301 468.5 301.4 464.6 301.9 468.3 302.3 464.1 302.8 469.4 303.2 464.2 303.7 468.8 304.1 464.4 304.6 468 305 464.3 305.5 468 305.9 464.6 306.4 468.4 306.8 464 307.3 468.7 307.7 464.1 308.2 468 308.6 464.1 309.1 467.6 309.5 464.3 310 467.9 310.4 464.5 310.9 467.9 311.3 464.3 311.8 467.9 312.2 463.8 312.7 467.9 313.1 464.5 313.6 467.9 314 464.8 314.5 468.1 314.9 465 315.4 468.4 315.8 464.6 316.3 468.7 316.7 464.7 317.2 468.2 317.6 465.5 318.1 468.2 318.5 464.7 319 468.8 319.4 464.2 319.9 468.9 320.3 464.9 320.8 468.8 321.2 465.6 321.7 469.4 322.1 466.2 322.6 469.2 323 466.1 323.5 469.4 323.9 465.6 324.4 469.7 324.8 466 325.3 469.7 325.7 464.8 326.2 469.8 326.6 464.8 327.1 470.2 327.5 465.6 327.9 470.2 328.4 465.1 328.8 470.3 329.3 465.8 329.7 470.1 330.2 466.3 330.6 470.1 331.1 466.7 331.5 470.2 332 466.5 332.4 470 332.9 466.5 333.3 470.2 333.8 466.6 334.2 470.4 334.7 466.9 335.1 470 335.6 466.8 336 469.6 336.5 466.9 336.9 469.8 337.4 466.9 337.8 470.2 338.3 467 338.7 470.3 339.2 467.2 339.6 470.3 340.1 467.3 340.5 470.2 341 467.2 341.4 470.3 341.9 467.1 342.3 470.5 342.8 467 343.2 470.4 343.7 467 344.1 470.5 344.6 467.5 345 470.8 345.5 467.5 345.9 470.6 346.4 466.8 346.8 470.4 347.3 466.7 347.7 470.2 348.2 467 348.6 470.1 349.1 466.4 349.5 470.3 350 465 350.4 470.5 350.9 465.9 351.3 472.1 351.8 467.9 352.2 473 352.7 467.4 353.1 471.4 353.6 466.8 354 470.7 354.5 467.5 354.9 470.9 355.3 468.1 355.8 471.3 356.2 468.3 356.7 471.9 357.1 468.2 357.6 472.7 358 468.2 358.5 473.5 358.9 468.4 359.4 472.4 359.8 468.2 360.3 471.9 360.7 467.7 361.2 471.8 361.6 467.9 362.1 471.9 362.5 468.1 363 472.6 363.4 468.5 363.9 472.5 364.3 468.1 364.8 471.7 365.2 468 365.7 471.3 366.1 468.3 366.6 471.7 367 468.5 367.5 471.6 367.9 468.6 368.4 471.6 368.8 468.3 369.3 471.4 369.7 468.3 370.2 471.2 370.6 468.5 371.1 471.4 371.5 467.8 372 471.9 372.4 467.3 372.9 471.9 373.3 467.7 373.8 471.5 374.2 467.6 374.7 471.7 375.1 468 375.6 471.5 376 468 376.5 471.2 376.9 467.7 377.4 471.1 377.8 467.3 378.3 471 378.7 466.8 379.2 471.6 379.6 467.9 380.1 471.8 380.5 467.7 381 471.6 381.4 466.9 381.9 472.4 382.3 467.5 382.7 473.8 383.2 467.7 383.6 472.9 384.1 467.6 384.5 472.2 385 466.9 385.4 473 385.9 468.2 386.3 472.2 386.8 468.7 387.2 471.8 387.7 468.6 388.1 472.3 388.6 468.7 389 472 389.5 468.9 389.9 472 390.4 468.4 390.8 472.1 391.3 467.9 391.7 471.8 392.2 468.4 392.6 471.8 393.1 468.6 393.5 471.9 394 468.1 394.4 472.3 394.9 468.4 395.3 472.8 395.8 468.6 396.2 473.1 396.7 468.7 397.1 472.1 397.6 468.8 398 471.5 398.5 468.9 398.9 471.9 399.4 469 399.8 472 400.3 469.2 400.7 471.7 401.2 469.1 401.6 472.4 402.1 468 402.5 472.6 403 468.2 403.4 472.4 403.9 468.8 404.3 472.9 404.8 468.5 405.2 473 405.7 469.1 406.1 473.2 406.6 469.4 407 472.4 407.5 468.9 407.9 472.2 408.4 468.6 408.8 472.5 409.3 468.8 409.7 472.3 410.1 468.5 410.6 472.2 411 468.5 411.5 472.3 411.9 469.1 412.4 472.2 412.8 468.5 413.3 472.1 413.7 468.7 414.2 472.3 414.6 469.2 415.1 472.5 415.5 469.2 416 472.9 416.4 469.1 416.9 472.8 417.3 468.3 417.8 472.6 418.2 467.9 418.7 473.2 419.1 468.7 419.6 473.2 420 469.5 420.5 472.4 420.9 468.9 421.4 472.2 421.8 468.8 422.3 472.4 422.7 469.2 423.2 472.4 423.6 469.4 424.1 472.7 424.5 469 425 472.9 425.4 469 425.9 472.4 426.3 469.3 426.8 472.2 427.2 469.3 427.7 472.4 428.1 468.1 428.6 472.6 429 467.3 429.5 472.8 429.9 468.5 430.4 473 430.8 468.8 431.3 473.5 431.7 469 432.2 473.2 432.6 468.7 433.1 473.1 433.5 468.3 434 474.2 434.4 468.2 434.9 473.1 435.3 468.1 435.8 473.3 436.2 468.5 436.7 473.3 437.1 469 437.5 472.7 438 469.1 438.4 473 438.9 469.5 439.3 472.9 439.8 469.9 440.2 472.9 440.7 469.9 441.1 473 441.6 469.7 442 473.4 442.5 469.4 442.9 473.5 443.4 469.4 443.8 474 444.3 470 444.7 474.2 445.2 470.1 445.6 473.7 446.1 469.6 446.5 474 447 469.3 447.4 473.2 447.9 469.7 448.3 472.9 448.8 469.8 449.2 473 449.7 469.6 450.1 473.3 450.6 469 451 473.5 451.5 469 451.9 472.8 452.4 469.3 452.8 472.6 453.3 469 453.7 472.6 454.2 469.2 454.6 472.7 455.1 469.5 455.5 472.9 456 469.7 456.4 472.9 456.9 469.9 457.3 473.1 457.8 469.5 458.2 473.3 458.7 469.4 459.1 473.3 459.6 469.3 460 474 460.5 469.3 460.9 472.8 461.4 469 461.8 472.3 462.3 469.1 462.7 472.9 463.2 469.4 463.6 473.5 464.1 469.1 464.5 473.2 464.9 469.1 465.4 472.4 465.8 469.4 466.3 472.2 466.7 469.3 467.2 471.9 467.6 469.2 468.1 472.2 468.5 469.3 469 472.7 469.4 469.3 469.9 472.4 470.3 468.8 470.8 472.5 471.2 468.4 471.7 473 472.1 468.5 472.6 472.9 473 469.2 473.5 472.9 473.9 469.6 474.4 474 474.8 469.1 475.3 475.8 475.7 468.6 476.2 475 476.6 469.7 477.1 473.7 477.5 469.8 478 473.7 478.4 470 478.9 473.7 479.3 470.2 479.8 474.3 480.2 470.1 480.7 473.8 481.1 469.8 481.6 474 482 469.8 482.5 473.9 482.9 470.1 483.4 473.2 483.8 469.4 484.3 472.9 484.7 469.7 485.2 472.9 485.6 469.8 486.1 472.6 486.5 469.6 487 472.4 487.4 469.9 487.9 472.8 488.3 469.7 488.8 473.1 489.2 469.6 489.7 472.8 490.1 469.9 490.6 472.8 491 469.9 491.5 472.9 491.9 469 492.3 472.8 492.8 468.9 493.2 472.8 493.7 469.3 494.1 472.8 494.6 469.6 495 473 495.5 469.2 495.9 473 496.4 469.1 496.8 472.7 497.3 469.3 497.7 472.7 498.2 469.6 498.6 472.7 499.1 469.2 499.5 472.8 500 468.2 500.4 472.9 500.9 469 501.3 473.1 501.8 468.8 502.2 473.7 502.7 469.2 503.1 474 503.6 469.7 504 473.1 504.5 469.6 504.9 473.1 505.4 469.7 505.8 473.3 506.3 469.9 506.7 473.2 507.2 469.8 507.6 473 508.1 469.8 508.5 473.1 509 469.5 509.4 473.5 509.9 469.3 510.3 473.1 510.8 469.6 511.2 472.7 511.7 469.9 512.1 472.5 512.6 469.8 513 473 513.5 469.6 513.9 473.5 514.4 469.6 514.8 473.3 515.3 469.6 515.7 473 516.2 469.6 516.6 473 517.1 469.6 517.5 473.4 518 470.1 518.4 473.4 518.9 470.2 519.3 472.8 519.7 470.3 520.2 473.3 520.6 470.2 521.1 474.3 521.5 469.2 522 474.5 522.4 469.2 522.9 473.8 523.3 469.9 523.8 474.1 524.2 469.9 524.7 473.7 525.1 470.2 525.6 473.4 526 470.1 526.5 473.9 526.9 469.5 527.4 474 527.8 469.5 528.3 473.5 528.7 469.5 529.2 473.5 529.6 469.2 530.1 474.2 530.5 469.4 531 474.7 531.4 470 531.9 473.6 532.3 469.2 532.8 472.9 533.2 468.9 533.7 472.9 534.1 470 534.6 473.7 535 470 535.5 474.4 535.9 469.6 536.4 473.8 536.8 469.6 537.3 473.4 537.7 469.9 538.2 473.6 538.6 469.6 539.1 473.6 539.5 469.5 540 473.2 540.4 469.8 540.9 473.8 541.3 469.8 541.8 473.4 542.2 469.8 542.7 473.4 543.1 469.6 543.6 473.1 544 469.2 544.5 473 544.9 469.4 545.4 473 545.8 469.8 546.3 473.1 546.7 470.2 547.1 473.3 547.6 470 548 473.6 548.5 469.6 548.9 473.8 549.4 468.5 549.8 473.9 550.3 469.3 550.7 474 551.2 470.2 551.6 473.9 552.1 470.5 552.5 474.3 553 470.3 553.4 474.4 553.9 469.6 554.3 473.9 554.8 470.3 555.2 474.4 555.7 470 556.1 474.3 556.6 469.9 557 474.2 557.5 470 557.9 474.1 558.4 470.2 558.8 474 559.3 470.4 559.7 473.9 560.2 470.1 560.6 474.1 561.1 470 561.5 473.9 562 470.1 562.4 473.7 562.9 470.2 563.3 473.3 563.8 469.9 564.2 473 564.7 469.4 565.1 473 565.6 469 566 473.1 566.5 469.3 566.9 473.3 567.4 469.9 567.8 473 568.3 469.7 568.7 472.4 569.2 469.6 569.6 472.4 570.1 469.2 570.5 472.8 571 469.2 571.4 473.3 571.9 469.7 572.3 473 572.8 469.3 573.2 473.2 573.7 469.3 574.1 473.9 574.5 470 575 474.3 575.4 470.4 575.9 474.1 576.3 470.3 576.8 474.5 577.2 470.4 577.7 474.1 578.1 470.4 578.6 473.7 579 470.4 579.5 473.9 579.9 470.1 580.4 474.2 580.8 469.7 581.3 474 581.7 469.9 582.2 473.4 582.6 469.9 583.1 473.3 583.5 469.7 584 474.5 584.4 469.2 584.9 473.8 585.3 468.9 585.8 473.4 586.2 469.5 586.7 473.5 587.1 469.5 587.6 473.9 588 469.7 588.5 473.6 588.9 470.3 589.4 473.5 589.8 470.6 590.3 473.4 590.7 470.7 591.2 474.1 591.6 470.8 592.1 474.2 592.5 470.4 593 473.7 593.4 470.5 593.9 473.8 594.3 470.9 594.8 474.4 595.2 470.8 595.7 474.7 596.1 470.9 596.6 474.4 597 470.8 597.5 474.5 597.9 470.3 598.4 475.1 598.8 470.2 599.3 474.9 599.7 470.7 600.2 474 600.6 470.8 601.1 474.1 601.5 471.2 601.9 474.1 602.4 470.4 602.8 474.6 603.3 470.2 603.7 474.6 604.2 470.6 604.6 474.2 605.1 470.5 605.5 474 606 470 606.4 473.3 606.9 469.8 607.3 473.2 607.8 469.9 608.2 473.7 608.7 469.4 609.1 473.3 609.6 469.4 610 472.9 610.5 469.2 610.9 472.6 611.4 468.4 611.8 472.5 612.3 469.3 612.7 472.7 613.2 470.2 613.6 473 614.1 470.3 614.5 473.2 615 470.5 615.4 473.3 615.9 470.6 616.3 473.6 616.8 470.8 617.2 474.2 617.7 470.9 618.1 474.6 618.6 470.4 619 474.3 619.5 469.3 619.9 473.6 620.4 468.4 620.8 473.5 621.3 469.1 621.7 473.7 622.2 469.9 622.6 473.6 623.1 470.2 623.5 473.1 624 470.1 624.4 473 624.9 469.8 625.3 473.2 625.8 469.9 626.2 473.4 626.7 470 627.1 473.5 627.6 470 628 473 628.4 470 628.9 473.1 629.3 469.7 629.8 473.8 630.2 469.5 630.7 473.4 631.1 469.4 631.6 472.8 632 469 632.5 472.6 632.9 468.4 633.4 472.7 633.8 469.4 634.3 472.9 634.7 469.4 635.2 473.3 635.6 469 636.1 473.8 636.5 469.9 637 474.5 637.4 470.2 637.9 473.8 638.3 469.7 638.8 473 639.2 468.7 639.7 473.2 640.1 468.9 640.6 473.2 641 469.9 641.5 473.3 641.9 470.2 642.4 472.9 642.8 470.2 643.3 472.9 643.7 470.1 644.2 473.2 644.6 470.2 645.1 473.5 645.5 470.1 646 473.1 646.4 469.8 646.9 472.9 647.3 469.7 647.8 472.9 648.2 469.5 648.7 473.1 649.1 469.4 649.6 472.8 650 469.2 650.5 472.7 650.9 469.4 651.4 473.1 651.8 469.7 652.3 473.5 652.7 469.8 653.2 474.2 653.6 469.6 654.1 473.5 654.5 469.8 655 473 655.4 470.2 655.8 473.4 656.3 469.5 656.7 473.8 657.2 468.8 657.6 473.9 658.1 469.3 658.5 473.4 659 469.2 659.4 473.2 659.9 468.5 660.3 473.4 660.8 469.4 661.2 473.6 661.7 470.2 662.1 473.7 662.6 470.9 663 473.8 663.5 470.9 663.9 474.1 664.4 470.7 664.8 473.9 665.3 470.3 665.7 473.5 666.2 469.7 666.6 473.3 667.1 469.4 667.5 473.3 668 469.8 668.4 473.2 668.9 469.8 669.3 473.4 669.8 469.9 670.2 473.5 670.7 470.1 671.1 473.7 671.6 470.3 672 474.2 672.5 470 672.9 475.1 673.4 470.4 673.8 475.1 674.3 470.7 674.7 474.6 675.2 470.4 675.6 474.5 676.1 470.7 676.5 474.3 677 470.9 677.4 474.9 677.9 470.7 678.3 475 678.8 469.9 679.2 473.6 679.7 469.2 680.1 472.9 680.6 469.1 681 472.8 681.5 469.6 681.9 472.9 682.4 469.4 682.8 472.8 683.2 469.3 683.7 473.1 684.1 469.1 684.6 473.4 685 469.3 685.5 473.5 685.9 469.5 686.4 473.5 686.8 469 687.3 473.2 687.7 469.2 688.2 472.7 688.6 469.8 689.1 472.6 689.5 469.7 690 473 690.4 469.3 690.9 472.7 691.3 469.3 691.8 472.7 692.2 469.8 692.7 473.1 693.1 469.8 693.6 473.4 694 470.1 694.5 473.2 694.9 470.3 695.4 473.3 695.8 469.3 696.3 473.4 696.7 469.1 697.2 473.3 697.6 469.9 698.1 473 698.5 470 699 473.6 699.4 469.1 699.9 475.1 700.3 469.1 700.8 474.3 701.2 469.9 701.7 472.7 702.1 469.5 702.6 473 703 469.5 703.5 472.7 703.9 469.9 704.4 473.2 704.8 470 705.3 474.3 705.7 469.8 706.2 473.9 706.6 470 707.1 473.9 707.5 470.8 708 474.1 708.4 471.2 708.9 474.3 709.3 471.3 709.8 474.3 710.2 471 710.6 474.3 711.1 471 711.5 474.7 712 471.2 712.4 475 712.9 471.2 713.3 474.8 713.8 470.6 714.2 475.2 714.7 470.5 715.1 474.3 715.6 470.6 716 473.5 716.5 470.4 716.9 473.6 717.4 470.3 717.8 474.6 718.3 469.8 718.7 474.8 719.2 469 719.6 473.6 720.1 469.1 720.5 473.4 721 469.3 721.4 473.2 721.9 469 722.3 472.7 722.8 469.6 723.2 472.7 723.7 469.8 724.1 472.7 724.6 469.4 725 473.7 725.5 469.5 725.9 473.7 726.4 469.7 726.8 473.9 727.3 469.9 727.7 473.9 728.2 469.9 728.6 472.8 729.1 469.7 729.5 472.8 730 469.1 730.4 473.2 730.9 469.3 731.3 473.1 731.8 469.4 732.2 473.1 732.7 469.2 733.1 473.1 733.6 469.9 734 472.9 734.5 470.4 734.9 472.9 735.4 470.3 735.8 473.1 736.3 470.3 736.7 473.2 737.2 470.4 737.6 473.2 738 470.4 738.5 473.2 738.9 470 739.4 474.1 739.8 469.8 740.3 474 740.7 470.1 741.2 473.3 741.6 469.8 742.1 473.2 742.5 469.7 743 473.3 743.4 469.4 743.9 473.7 744.3 469.7 744.8 473.3 745.2 470 745.7 473.1 746.1 469.5 746.6 472.8 747 468.4 747.5 472.6 747.9 469 748.4 472.5 748.8 469.5 749.3 472.7 749.7 469.4 750.2 472.4 750.6 469.5 751.1 472.4 751.5 469.6 752 473 752.4 468.5 752.9 473.7 753.3 468.7 753.8 473.3 754.2 470.1 754.7 473.4 755.1 469.9 755.6 473.7 756 469.6 756.5 473.8 756.9 470.1 757.4 473.9 757.8 470.4 758.3 474.1 758.7 470.3 759.2 473.7 759.6 470.4 760.1 474.1 760.5 470.5 761 474.1 761.4 470.1 761.9 473.6 762.3 469.6 762.8 474.3 763.2 469.9 763.7 474.6 764.1 470.6 764.6 473.9 765 470.6" stroke="#148a3e" stroke-width="1.6" fill="none" stroke-linejoin="bevel"/>
<path d="M136.6 129.9 136.6 130.3 136.6 131.5 136.6 133.4 136.6 136.1 136.7 139.5 136.7 143.6 136.7 148.4 136.8 153.8 136.8 159.8 136.9 166.4 136.9 173.6 137 181.2 137 189.2 137.1 197.6 137.2 206.3 137.2 215.3 137.3 224.5 137.4 233.9 137.5 243.4 137.6 253 137.7 262.6 137.8 272.2 137.9 281.8 138.1 291.2 138.2 300.6 138.3 309.7 138.4 318.6 138.6 327.3 138.7 335.6 138.9 343.7 139 351.6 139.2 359.1 139.3 366.4 139.5 373.2 139.7 379.7 139.9 385.9 140.1 391.8 140.2 397.4 140.4 402.6 140.6 407.5 140.8 412.1 141.1 416.4 141.3 420.4 141.5 424 141.7 427.5 141.9 430.6 142.2 433.6 142.4 436.3 142.7 438.8 142.9 441 143.2 443.1 143.4 444.9 143.7 446.6 144 448.1 144.2 449.5 144.5 450.7 144.8 451.9 145.1 453 145.4 454 145.7 454.9 146 455.7 146.3 456.4 146.6 457 146.9 457.5 147.3 458 147.6 458.4 147.9 458.9 148.3 459.3 148.6 459.6 149 459.8 149.3 459.9 149.7 460 150 460.1 150.4 460 150.8 459.9 151.2 459.7 151.6 459.5 152 459.3 152.4 459.1 152.8 459 153.2 458.8 153.6 458.6 154 458.4 154.4 458.3 154.8 458.3 155.3 458.4 155.7 458.6 156.1 458.9 156.6 459.2 157 459.5 157.5 460 158 460.6 158.4 461.1 158.9 461.5 159.4 462 159.9 462.4 160.3 462.7 160.8 463.1 161.3 463.4 161.8 463.7 162.3 463.9 162.9 464 163.4 463.9 163.9 463.8 164.4 463.7 165 463.7 165.5 463.9 166 464.1 166.6 464.2 167.1 464.5 167.7 464.9 168.3 465.5 168.8 466.1 169.4 466.8 170 467.6 170.6 468.4 171.1 469.1 171.7 469.7 172.3 470.2 172.9 470.6 173.5 470.9 174.2 471.1 174.8 471.3 175.4 471.4 176 471.5 176.7 471.4 177.3 471.4 177.9 471.5 178.6 471.6 179.3 471.6 179.9 471.7 180.6 471.8 181.2 471.9 181.9 472 182.6 472.4 183.3 472.5 184 472.7 184.7 473.1 185.4 473.4 186.1 473.6 186.8 473.8 187.5 473.9 188.2 473.9 188.9 473.5 189.7 473.3 190.4 473.2 191.1 472.9 191.9 472.9 192.6 473.2 193.4 473.5 194.1 474.2 194.9 475.1 195.7 475.8 196.5 476.6 197.2 477.2 198 477.6 198.8 477.6 199.6 477.7 200.4 477.7 201.2 477.4 202 477.1 202.8 476.8 203.7 476.5 204.5 476.2 205.3 475.8 206.1 475.4 207 475.1 207.8 475 208.7 475.1 209.5 475.6 210.4 476.1 211.3 476.7 212.1 477.9 213 479.1 213.9 479.8 214.8 480.7 215.7 480.9 216.6 480.8 217.5 480.4 218.4 479.6 219.3 478.4 220.2 477.2 221.1 476 222 474.9 223 473.7 223.9 473.1 224.9 472.8 225.8 472.7 226.7 473.1 227.7 474 228.7 474.8 229.6 475.8 230.6 476.4 231.6 476.8 232.6 476.8 233.5 476.8 234.5 476.6 235.5 476.5 236.5 476.7 237.5 477.1 238.6 477.5 239.6 477.9 240.6 478.6 241.6 479.2 242.7 479.8 243.7 480.4 244.7 480.7 245.8 481 246.8 480.9 247.9 480.4 249 479.7 250 479.4 251.1 478.9 252.2 478.7 253.3 478.6 254.3 478.9 255.4 479.2 256.5 479.3 257.6 479.4 258.7 480 259.9 480.6 261 481.2 262.1 481.6 263.2 481.9 264.4 481.7 265.5 481 266.6 480.2 267.8 479.5 268.9 478.9 270.1 478.6 271.3 478.5 272.4 478.7 273.6 478.9 274.8 479.4 276 480.1 277.2 480.8 278.4 481.8 279.6 482.5 280.8 482.9 282 482.8 283.2 482.4 284.4 481.8 285.6 481.3 286.9 481.2 288.1 481.2 289.3 481.4 290.6 481.5 291.8 481.3 293.1 481.1 294.3 480.8 295.6 480.7 296.9 480.6 298.1 480.6 299.4 480.5 300.7 480.2 302 480.1 303.3 480.2 304.6 480.5 305.9 480.8 307.2 481 308.5 481 309.8 480.8 311.2 480.7 312.5 480.8 313.8 480.9 315.2 480.7 316.5 480.5 317.9 480.1 319.2 480.1 320.6 480.3 321.9 480.7 323.3 481.1 324.7 481.3 326.1 481.4 327.5 481.5 328.8 481.7 330.2 481.9 331.6 482.2 333 482.2 334.5 482 335.9 481.7 337.3 481.5 338.7 481.6 340.2 481.8 341.6 482.2 343 482.4 344.5 482.3 345.9 482 347.4 481.8 348.8 481.9 350.3 481.9 351.8 481.7 353.3 481.1 354.7 480.4 356.2 479.9 357.7 480 359.2 480.3 360.7 480.7 362.2 480.8 363.7 480.7 365.2 480.8 366.8 481 368.3 481.2 369.8 481.4 371.4 481.4 372.9 481.4 374.5 481.4 376 481.4 377.6 481.4 379.1 481.5 380.7 481.4 382.3 481.3 383.8 481 385.4 480.9 387 481.1 388.6 481.4 390.2 481.6 391.8 481.7 393.4 481.8 395 482.2 396.6 482.7 398.3 483.1 399.9 483.1 401.5 483 403.2 482.7 404.8 482.3 406.5 481.6 408.1 481.1 409.8 480.9 411.4 481.3 413.1 481.9 414.8 482.1 416.4 481.9 418.1 481.6 419.8 481.2 421.5 481.2 423.2 481.6 424.9 481.9 426.6 482.1 428.3 481.9 430.1 481.8 431.8 481.9 433.5 481.9 435.2 481.8 437 481.5 438.7 481.4 440.5 481.7 442.2 482 444 481.8 445.8 481.1 447.5 480.6 449.3 480.4 451.1 480.9 452.9 481.4 454.6 481.9 456.4 482.4 458.2 482.8 460 483.2 461.9 483.1 463.7 483 465.5 482.6 467.3 482.3 469.1 482.1 471 481.8 472.8 481.6 474.7 481 476.5 480.5 478.4 480 480.2 479.9 482.1 480.1 484 480.2 485.8 480.5 487.7 480.8 489.6 481.1 491.5 480.9 493.4 480.7 495.3 481 497.2 481.7 499.1 482.5 501 482.6 502.9 482.2 504.9 481.6 506.8 481.6 508.7 481.9 510.7 482.1 512.6 481.5 514.6 480.6 516.5 480.2 518.5 480.3 520.5 480.8 522.4 480.9 524.4 480.9 526.4 481.1 528.4 481.8 530.4 482.5 532.4 483 534.4 483 536.4 482.6 538.4 482 540.4 481.4 542.4 481.1 544.4 481.4 546.5 481.8 548.5 482.3 550.5 482.3 552.6 481.9 554.6 481.3 556.7 480.9 558.8 480.9 560.8 481.3 562.9 481.6 565 481.8 567.1 481.9 569.1 482.2 571.2 482.2 573.3 481.9 575.4 481.8 577.5 482 579.7 482.3 581.8 481.9 583.9 481.4 586 481 588.2 481.2 590.3 481.4 592.4 481.4 594.6 481.4 596.7 481.4 598.9 481.2 601.1 480.4 603.2 480 605.4 480.3 607.6 481.2 609.8 481.7 612 482 614.1 481.8 616.3 481.7 618.5 481.7 620.8 481.6 623 481.7 625.2 481.7 627.4 481.4 629.6 481 631.9 481.4 634.1 482.4 636.4 482.8 638.6 482.3 640.9 481.9 643.1 481.8 645.4 481.6 647.6 481.5 649.9 481.7 652.2 481.4 654.5 480.2 656.8 479.5 659.1 480.1 661.4 481.1 663.7 481.7 666 482.3 668.3 482.1 670.6 481 672.9 480.2 675.3 480.7 677.6 481.2 679.9 480.9 682.3 480.8 684.6 481.4 687 482.1 689.3 482.6 691.7 483 694.1 482.8 696.5 482.1 698.8 481.9 701.2 482.1 703.6 481.7 706 480.9 708.4 480.8 710.8 481.2 713.2 481.3 715.6 480.6 718.1 480.3 720.5 480.6 722.9 481.2 725.3 481.2 727.8 481 730.2 480.9 732.7 481.2 735.1 482 737.6 483 740.1 483.6 742.5 483.1 745 482.1 747.5 481.3 750 480.7 752.5 480.3 755 480.4 757.5 481.5 760 482.6 762.5 482.3 765 481.5" stroke="#8e21a2" stroke-width="4.6" fill="none" stroke-linejoin="round"/>
<path d="M136.6 136.1 137 182.4 137.5 248.8 137.9 269.9 138.4 321.6 138.8 332.5 139.3 369.9 139.7 376 140.2 401.9 140.6 400.6 141.1 424.7 141.5 417.3 142 437.9 142.4 429.4 142.9 446.9 143.3 437.5 143.8 456 144.2 441.7 144.7 460.7 145.1 446.1 145.6 461.4 146 450.8 146.5 463 146.9 451.5 147.4 463.4 147.8 450.6 148.3 465.2 148.7 453.6 149.2 467.4 149.6 451.5 150.1 467.1 150.5 447.8 151 466.3 151.4 450.7 151.9 467.2 152.3 453.1 152.8 467.6 153.2 451.5 153.7 467.3 154.1 451 154.6 466.4 155 449.5 155.5 464.6 155.9 450.3 156.4 470.6 156.8 452.7 157.3 471.6 157.7 451.9 158.2 472.4 158.6 455.1 159.1 473.4 159.5 456.4 160 471.8 160.4 454.5 160.9 472.6 161.3 453.5 161.8 471.3 162.2 457.3 162.7 472.8 163.1 458.9 163.6 472.7 164 458.3 164.4 472.7 164.9 458.7 165.3 470.6 165.8 459.3 166.2 469.4 166.7 457.6 167.1 470.9 167.6 455.6 168 472.7 168.5 459.2 168.9 474.1 169.4 461.1 169.8 474.7 170.3 461.7 170.7 477.1 171.2 463.4 171.6 477.4 172.1 464.7 172.5 475.4 173 461.9 173.4 475.7 173.9 460.4 174.3 477.6 174.8 462.7 175.2 479.6 175.7 462.9 176.1 479.1 176.6 462.3 177 477.4 177.5 462.5 177.9 477.7 178.4 465.1 178.8 478.7 179.3 466.1 179.7 479 180.2 463.9 180.6 479.3 181.1 462.4 181.5 480.1 182 463.5 182.4 483.1 182.9 464.6 183.3 480.7 183.8 463.7 184.2 478.7 184.7 465.4 185.1 481.1 185.6 465.5 186 484.3 186.5 463.9 186.9 481.8 187.4 466.4 187.8 480.1 188.3 467.8 188.7 480.5 189.2 467.1 189.6 481.4 190.1 465.1 190.5 482.3 191 463.3 191.4 481 191.8 465.7 192.3 481.5 192.7 466.1 193.2 485.2 193.6 465.3 194.1 483.4 194.5 467.6 195 482.7 195.4 470.2 195.9 485.9 196.3 470.7 196.8 485 197.2 469.8 197.7 482.9 198.1 468.1 198.6 484.4 199 469.6 199.5 484.6 199.9 471.2 200.4 484.5 200.8 469.4 201.3 485.8 201.7 469.4 202.2 485.6 202.6 470.5 203.1 484.1 203.5 469.6 204 483.1 204.4 470.9 204.9 481.9 205.3 470.5 205.8 482.3 206.2 469.5 206.7 486.2 207.1 468.7 207.6 492.2 208 465 208.5 486 208.9 464.9 209.4 483.7 209.8 468.5 210.3 483.3 210.7 468 211.2 482.8 211.6 466.9 212.1 483.2 212.5 470.3 213 484.6 213.4 473.4 213.9 486.1 214.3 474.2 214.8 486.3 215.2 474.4 215.7 485.9 216.1 472.4 216.6 488.9 217 470.5 217.5 488.8 217.9 473.3 218.4 485 218.8 473 219.2 484.2 219.7 469 220.1 485.4 220.6 465 221 486.4 221.5 466.4 221.9 484 222.4 466.1 222.8 480.7 223.3 464.8 223.7 479.2 224.2 464.9 224.6 481.5 225.1 465.9 225.5 480.8 226 463.9 226.4 482.9 226.9 460.6 227.3 487.5 227.8 463.7 228.2 487.2 228.7 462.8 229.1 487.5 229.6 465 230 485 230.5 469.5 230.9 488.7 231.4 469.6 231.8 487.6 232.3 467.5 232.7 482.7 233.2 468.3 233.6 484.5 234.1 470.1 234.5 488.2 235 471 235.4 484.7 235.9 469.5 236.3 482.7 236.8 469.5 237.2 483 237.7 470.3 238.1 483.1 238.6 470.7 239 484.9 239.5 471.8 239.9 484.3 240.4 473.2 240.8 484.9 241.3 473.8 241.7 486.1 242.2 470 242.6 486.8 243.1 470.2 243.5 488.7 244 467.4 244.4 497.3 244.9 467.9 245.3 497.9 245.8 475.6 246.2 489.5 246.6 475.5 247.1 489.1 247.5 473.2 248 487.2 248.4 472.4 248.9 490.1 249.3 473.1 249.8 491.4 250.2 473.3 250.7 488.1 251.1 473.3 251.6 486.8 252 471.1 252.5 485.2 252.9 468.2 253.4 484.5 253.8 470.4 254.3 484.5 254.7 472.1 255.2 483.9 255.6 472.6 256.1 485.3 256.5 471.7 257 486.6 257.4 472.5 257.9 488.2 258.3 474.3 258.8 490 259.2 473.5 259.7 488.6 260.1 475.2 260.6 488.4 261 476.8 261.5 488.8 261.9 477.5 262.4 491 262.8 477.7 263.3 493.6 263.7 474.6 264.2 489.4 264.6 474 265.1 485.5 265.5 474.5 266 484.8 266.4 474.3 266.9 485.1 267.3 474.2 267.8 485.2 268.2 473.5 268.7 483.8 269.1 473.6 269.6 483.6 270 473.8 270.5 483.8 270.9 473.4 271.4 483.6 271.8 472.5 272.3 485.1 272.7 473.5 273.2 484.6 273.6 475 274 484.4 274.5 475.7 274.9 484.2 275.4 476.2 275.8 487.5 276.3 475.6 276.7 490.5 277.2 475.7 277.6 488.4 278.1 477.4 278.5 486.1 279 478 279.4 486.3 279.9 477.8 280.3 487 280.8 477.6 281.2 487.4 281.7 476.6 282.1 489 282.6 477.2 283 488.4 283.5 478.4 283.9 485.8 284.4 477.8 284.8 485.9 285.3 477.8 285.7 486.8 286.2 477.7 286.6 487.7 287.1 476.1 287.5 486.7 288 475.6 288.4 485.5 288.9 477.2 289.3 484.4 289.8 477.2 290.2 485.4 290.7 477.4 291.1 486.4 291.6 478 292 485.7 292.5 477.8 292.9 486.1 293.4 476.7 293.8 486.3 294.3 475.9 294.7 484.9 295.2 477.1 295.6 484.3 296.1 477.6 296.5 484.4 297 476.8 297.4 484.8 297.9 474.7 298.3 484.8 298.8 473.6 299.2 486.2 299.7 475.3 300.1 488.1 300.5 476.3 301 487.7 301.4 476.4 301.9 486.1 302.3 476 302.8 485.8 303.2 476.6 303.7 485.9 304.1 476.6 304.6 485.2 305 476.2 305.5 484.7 305.9 477 306.4 485.8 306.8 477.4 307.3 485.7 307.7 475.4 308.2 484.7 308.6 473.5 309.1 484.4 309.5 473.4 310 484.9 310.4 475.5 310.9 484.9 311.3 475.1 311.8 484.2 312.2 475.8 312.7 484.2 313.1 477.3 313.6 484.4 314 477.6 314.5 485.5 314.9 476.1 315.4 486 315.8 474.2 316.3 485.1 316.7 475.9 317.2 485.4 317.6 476.5 318.1 485 318.5 476 319 483.7 319.4 475.6 319.9 483.9 320.3 476.3 320.8 483.8 321.2 477.1 321.7 486.3 322.1 477.4 322.6 487.1 323 477.1 323.5 484.6 323.9 475.6 324.4 485.1 324.8 474.9 325.3 485.9 325.7 476 326.2 487.5 326.6 476.8 327.1 486.6 327.5 475.9 327.9 485.7 328.4 476.6 328.8 489.4 329.3 474.7 329.7 489.7 330.2 475.2 330.6 486.6 331.1 477.6 331.5 487.2 332 476.9 332.4 487.1 332.9 477.5 333.3 486.8 333.8 478 334.2 488.8 334.7 477.8 335.1 488.3 335.6 475.8 336 485.2 336.5 475.9 336.9 485.1 337.4 477.5 337.8 484.8 338.3 476.7 338.7 485.2 339.2 476.7 339.6 485.7 340.1 477.9 340.5 486.8 341 477.4 341.4 487.3 341.9 478.1 342.3 486.9 342.8 477.7 343.2 487.2 343.7 476.9 344.1 488 344.6 477.9 345 488.4 345.5 477.4 345.9 487.4 346.4 475.9 346.8 485.6 347.3 477 347.7 485.8 348.2 477.6 348.6 487 349.1 478.2 349.5 487.4 350 478.4 350.4 488.5 350.9 478.1 351.3 487 351.8 477.7 352.2 486 352.7 475.8 353.1 486 353.6 475 354 486.6 354.5 475.9 354.9 486.8 355.3 476.4 355.8 485.3 356.2 475.8 356.7 483.7 357.1 474.3 357.6 483.3 358 475.4 358.5 484.8 358.9 476.7 359.4 486.8 359.8 476.4 360.3 485.6 360.7 476.7 361.2 485.9 361.6 475.6 362.1 485.7 362.5 473.2 363 484.3 363.4 472.7 363.9 484.3 364.3 474.3 364.8 484.5 365.2 475.5 365.7 485.5 366.1 476.8 366.6 486.9 367 475.4 367.5 488.3 367.9 476.4 368.4 486.4 368.8 477.1 369.3 485.3 369.7 477.1 370.2 485.4 370.6 477.3 371.1 484.8 371.5 477.3 372 485.4 372.4 477.3 372.9 485.5 373.3 478 373.8 485 374.2 477.8 374.7 485 375.1 478 375.6 485.8 376 477.6 376.5 486.5 376.9 476.6 377.4 486.2 377.8 476.3 378.3 487.7 378.7 476.8 379.2 486.9 379.6 477.3 380.1 485.5 380.5 477.7 381 485 381.4 478.1 381.9 484.9 382.3 478.1 382.7 484.9 383.2 477.9 383.6 484.8 384.1 477.4 384.5 485.4 385 477.4 385.4 485.7 385.9 477.6 386.3 485.1 386.8 477.1 387.2 485.5 387.7 477.3 388.1 485.9 388.6 477.9 389 485.2 389.5 477.7 389.9 485.4 390.4 477.9 390.8 485.5 391.3 477 391.7 486.2 392.2 475.5 392.6 485.7 393.1 476.8 393.5 485.9 394 476 394.4 486 394.9 475.7 395.3 485.9 395.8 477.3 396.2 486.9 396.7 478.1 397.1 487.9 397.6 477.8 398 487.6 398.5 477.4 398.9 486.6 399.4 478.3 399.8 486.4 400.3 479.6 400.7 486.3 401.2 479.9 401.6 486.2 402.1 479.5 402.5 486.6 403 479.1 403.4 487.6 403.9 478.7 404.3 486.7 404.8 477.9 405.2 486.1 405.7 477.9 406.1 486.2 406.6 478.2 407 485.5 407.5 478 407.9 484.6 408.4 477 408.8 484.7 409.3 475.6 409.7 485.9 410.1 474.5 410.6 486.4 411 475.7 411.5 486.8 411.9 475.8 412.4 486.7 412.8 473.1 413.3 486 413.7 475.6 414.2 486.3 414.6 478.6 415.1 486.6 415.5 477.8 416 485.7 416.4 477.5 416.9 485.4 417.3 477.7 417.8 485.9 418.2 476.9 418.7 485.5 419.1 475.3 419.6 484.8 420 474.8 420.5 484.8 420.9 476.2 421.4 485.2 421.8 477.3 422.3 485.3 422.7 478.2 423.2 485.8 423.6 477.9 424.1 486.5 424.5 476.3 425 486.7 425.4 474.7 425.9 486.4 426.3 476.6 426.8 486.7 427.2 478.8 427.7 486.5 428.1 478.1 428.6 485.7 429 477.5 429.5 485.5 429.9 477.6 430.4 486.1 430.8 477.7 431.3 487.2 431.7 477.8 432.2 487.2 432.6 478.3 433.1 486.6 433.5 478.3 434 487.2 434.4 477.1 434.9 486.9 435.3 476.8 435.8 487.5 436.2 477.6 436.7 486.1 437.1 476.7 437.5 485.1 438 476.9 438.4 485.5 438.9 476.9 439.3 485.6 439.8 477.2 440.2 485.3 440.7 478.2 441.1 485.8 441.6 477.3 442 486.8 442.5 477 442.9 486.7 443.4 477.7 443.8 485.8 444.3 477.7 444.7 485.4 445.2 477.2 445.6 485 446.1 476.7 446.5 484.3 447 476.3 447.4 484.4 447.9 474.6 448.3 484.7 448.8 475.4 449.2 485.2 449.7 476.6 450.1 485.7 450.6 477.1 451 486 451.5 476.7 451.9 486.7 452.4 477.1 452.8 486.9 453.3 478.2 453.7 486.8 454.2 477.6 454.6 488.2 455.1 476.8 455.5 486.8 456 477.5 456.4 486.3 456.9 478.2 457.3 486.3 457.8 478.6 458.2 486.9 458.7 477.8 459.1 487.1 459.6 476.2 460 487.3 460.5 476 460.9 487.7 461.4 477.3 461.8 487.4 462.3 477 462.7 487 463.2 478.6 463.6 486.8 464.1 479.4 464.5 486.3 464.9 478.5 465.4 486.4 465.8 478.4 466.3 486.9 466.7 477.4 467.2 487.3 467.6 477.6 468.1 486.4 468.5 477.6 469 485.9 469.4 476.8 469.9 485.7 470.3 476 470.8 486.3 471.2 476.5 471.7 487.4 472.1 477.8 472.6 488.2 473 478.4 473.5 487.1 473.9 477.9 474.4 486 474.8 476.8 475.3 486.4 475.7 475.4 476.2 486.9 476.6 474.8 477.1 485.3 477.5 475.8 478 484.3 478.4 475.8 478.9 484.4 479.3 475.6 479.8 483.9 480.2 475.5 480.7 483.4 481.1 476 481.6 485.2 482 475.6 482.5 485.9 482.9 475.3 483.4 484.4 483.8 475.9 484.3 483.9 484.7 476.4 485.2 483.9 485.6 476 486.1 483.9 486.5 475.1 487 484 487.4 476.5 487.9 484.5 488.3 477.2 488.8 485 489.2 475.6 489.7 485.3 490.1 475 490.6 485.9 491 477 491.5 485.3 491.9 475.8 492.3 484.4 492.8 475.2 493.2 485.1 493.7 477 494.1 486.4 494.6 477.1 495 485.4 495.5 475.6 495.9 485 496.4 474.6 496.8 485.2 497.3 476.7 497.7 486 498.2 477.9 498.6 486.7 499.1 477.1 499.5 486.8 500 477.1 500.4 486.2 500.9 478.7 501.3 486.2 501.8 478.6 502.2 489 502.7 478.2 503.1 489.2 503.6 478.2 504 486.3 504.5 477.9 504.9 486.2 505.4 476.8 505.8 485.7 506.3 476.9 506.7 485.2 507.2 475.9 507.6 486.2 508.1 476.7 508.5 487.3 509 478.4 509.4 488.2 509.9 478.1 510.3 487.1 510.8 478.6 511.2 486.2 511.7 478.4 512.1 486.4 512.6 477.3 513 486.2 513.5 476.8 513.9 487.4 514.4 477.1 514.8 485.6 515.3 476.8 515.7 485.2 516.2 476.2 516.6 486.9 517.1 476.4 517.5 485.1 518 473.9 518.4 484.7 518.9 471.8 519.3 485.6 519.7 475.2 520.2 486.5 520.6 476.6 521.1 486 521.5 476.4 522 485.9 522.4 477.1 522.9 485.3 523.3 477.5 523.8 486.1 524.2 476.7 524.7 485.9 525.1 475.3 525.6 485.1 526 476.7 526.5 487 526.9 477.7 527.4 487.2 527.8 477 528.3 485.4 528.7 477.5 529.2 485.6 529.6 478.5 530.1 486.8 530.5 478.7 531 487.4 531.4 478.9 531.9 486.6 532.3 478.8 532.8 486.8 533.2 477.8 533.7 487.1 534.1 477.7 534.6 487 535 479 535.5 486.7 535.9 477.7 536.4 486.1 536.8 477.8 537.3 486.3 537.7 477.9 538.2 486.3 538.6 476 539.1 485.5 539.5 475 540 485.8 540.4 477.2 540.9 485.1 541.3 477.5 541.8 485 542.2 476 542.7 486.1 543.1 475.8 543.6 487.7 544 475.8 544.5 486.2 544.9 475.8 545.4 485.5 545.8 477.6 546.3 486.7 546.7 478.7 547.1 487.9 547.6 477.9 548 487.7 548.5 476.2 548.9 485.8 549.4 476.4 549.8 485.6 550.3 477.3 550.7 485.8 551.2 476.5 551.6 486.1 552.1 476.2 552.5 485.7 553 476.2 553.4 485.2 553.9 475.8 554.3 484.5 554.8 475 555.2 486.9 555.7 472.5 556.1 487.9 556.6 474.3 557 486.1 557.5 476.7 557.9 485.6 558.4 475.7 558.8 485.2 559.3 475.7 559.7 485.3 560.2 477.5 560.6 486.6 561.1 476.6 561.5 487.2 562 476.5 562.4 486.6 562.9 477.8 563.3 485.9 563.8 477.9 564.2 486.3 564.7 477.3 565.1 486.9 565.6 477.4 566 487.4 566.5 476.8 566.9 486.9 567.4 475.4 567.8 487 568.3 475.3 568.7 486.4 569.2 477.6 569.6 485.9 570.1 477.5 570.5 485.8 571 477.4 571.4 486.6 571.9 476.5 572.3 487.7 572.8 477 573.2 488 573.7 477.7 574.1 486.1 574.5 478.1 575 485.3 575.4 478.2 575.9 486.2 576.3 478.1 576.8 486.4 577.2 478.2 577.7 486.6 578.1 478.1 578.6 486.9 579 477.4 579.5 486 579.9 477.4 580.4 485.3 580.8 476.9 581.3 485.3 581.7 477.4 582.2 485.3 582.6 477.2 583.1 485.1 583.5 473.5 584 485.1 584.4 473.3 584.9 485.8 585.3 475.3 585.8 485.7 586.2 475.2 586.7 485 587.1 475.6 587.6 486.6 588 477.1 588.5 487.4 588.9 477.9 589.4 488.2 589.8 477.7 590.3 487 590.7 477 591.2 485.4 591.6 477.4 592.1 485.3 592.5 477.1 593 485.3 593.4 476.2 593.9 486.2 594.3 474.8 594.8 485.6 595.2 476.1 595.7 484.9 596.1 478.1 596.6 485.5 597 477.8 597.5 485.5 597.9 477.5 598.4 485.2 598.8 477.7 599.3 485 599.7 477.8 600.2 485.5 600.6 477.4 601.1 485.3 601.5 475.8 601.9 484.6 602.4 474.1 602.8 483.9 603.3 473.1 603.7 483.1 604.2 474 604.6 483.7 605.1 476.3 605.5 484.7 606 477.3 606.4 486.4 606.9 477.7 607.3 486.1 607.8 477.7 608.2 484.8 608.7 476.9 609.1 485.6 609.6 477.6 610 486 610.5 477 610.9 485.8 611.4 476.1 611.8 486.9 612.3 475 612.7 488.8 613.2 476 613.6 487.2 614.1 477.3 614.5 485.9 615 474.6 615.4 486.4 615.9 473.9 616.3 486.2 616.8 476 617.2 486 617.7 476.5 618.1 486.4 618.6 476.6 619 486.8 619.5 475.4 619.9 485.9 620.4 476.8 620.8 487.7 621.3 478.2 621.7 487.5 622.2 477.5 622.6 487 623.1 477.9 623.5 488.4 624 478.2 624.4 487.2 624.9 477.9 625.3 487 625.8 477.7 626.2 486.5 626.7 477.5 627.1 485.9 627.6 476.3 628 485.3 628.4 476.2 628.9 484.6 629.3 476.9 629.8 484.5 630.2 476.6 630.7 485.2 631.1 477 631.6 485.9 632 477.3 632.5 486.5 632.9 477.6 633.4 486.9 633.8 478.5 634.3 486.9 634.7 478.4 635.2 486.4 635.6 477.4 636.1 486.8 636.5 477.8 637 488.4 637.4 479 637.9 487.6 638.3 478.5 638.8 485.7 639.2 478.1 639.7 485.4 640.1 477.8 640.6 485.6 641 478.1 641.5 486 641.9 477.3 642.4 486.7 642.8 476.1 643.3 486.4 643.7 476.8 644.2 486.8 644.6 476.5 645.1 487.5 645.5 476.7 646 487.6 646.4 476.4 646.9 487.5 647.3 477.1 647.8 486.4 648.2 477.7 648.7 485.4 649.1 477.8 649.6 485.4 650 477.9 650.5 485.6 650.9 478.4 651.4 486 651.8 477.7 652.3 487.7 652.7 477.1 653.2 487.2 653.6 477.2 654.1 485 654.5 476.9 655 483.8 655.4 476.1 655.8 484.2 656.3 475.7 656.7 483.9 657.2 475.7 657.6 483.1 658.1 476.3 658.5 484.5 659 476.8 659.4 486.7 659.9 477.2 660.3 486.3 660.8 477.3 661.2 484.7 661.7 476.9 662.1 484.5 662.6 476.9 663 485.8 663.5 477.4 663.9 487.1 664.4 478.1 664.8 486.3 665.3 477.9 665.7 485.6 666.2 477.1 666.6 486.3 667.1 477.1 667.5 488.6 668 478.3 668.4 488.1 668.9 478.3 669.3 486.4 669.8 477.5 670.2 486.6 670.7 476.4 671.1 486.1 671.6 475.8 672 484.7 672.5 475.3 672.9 484.9 673.4 474.5 673.8 485.9 674.3 475.4 674.7 486.5 675.2 476 675.6 485.2 676.1 475.2 676.5 485.1 677 474.6 677.4 485.4 677.9 475.6 678.3 485.2 678.8 476.8 679.2 485 679.7 477.3 680.1 485.2 680.6 477.4 681 485.5 681.5 477.3 681.9 485.1 682.4 476.3 682.8 485 683.2 475.5 683.7 486 684.1 476.4 684.6 487 685 477.5 685.5 487.3 685.9 477.4 686.4 487 686.8 477.3 687.3 487.7 687.7 478.2 688.2 487.7 688.6 478.6 689.1 488.1 689.5 478.4 690 489 690.4 477.8 690.9 487.1 691.3 477.9 691.8 487.2 692.2 479 692.7 489.1 693.1 478.4 693.6 489.6 694 477.5 694.5 489.5 694.9 478.5 695.4 488.1 695.8 479 696.3 486.9 696.7 478.4 697.2 487 697.6 477.4 698.1 487.7 698.5 477.8 699 487.5 699.4 478 699.9 486.4 700.3 478.1 700.8 486.4 701.2 478 701.7 486 702.1 477.6 702.6 486 703 476.1 703.5 485.8 703.9 476.1 704.4 485.3 704.8 476.6 705.3 485.2 705.7 476.8 706.2 485.4 706.6 476.7 707.1 485.4 707.5 477 708 484.9 708.4 476.6 708.9 484.1 709.3 476.2 709.8 484.4 710.2 476.8 710.6 485.2 711.1 477.3 711.5 486.9 712 477.6 712.4 488.1 712.9 476.4 713.3 487.6 713.8 475.6 714.2 486.3 714.7 476.1 715.1 485.1 715.6 476.3 716 484.6 716.5 476.1 716.9 484 717.4 476.3 717.8 484.8 718.3 476.3 718.7 485.1 719.2 476.4 719.6 484.2 720.1 477 720.5 484.6 721 475.3 721.4 485.1 721.9 475.2 722.3 485.2 722.8 477.2 723.2 485 723.7 477.1 724.1 485.9 724.6 476.4 725 486.3 725.5 475 725.9 485.9 726.4 473.3 726.8 485.2 727.3 474.6 727.7 485.7 728.2 476.8 728.6 486.3 729.1 477.6 729.5 486.3 730 477.2 730.4 485.7 730.9 477.1 731.3 484.7 731.8 476.6 732.2 485.8 732.7 475.7 733.1 488.5 733.6 475.9 734 487.1 734.5 477.5 734.9 488.5 735.4 477 735.8 488.8 736.3 477.3 736.7 486.9 737.2 478.8 737.6 486.9 738 478.7 738.5 487.3 738.9 479.5 739.4 488.2 739.8 479.6 740.3 488.3 740.7 478.2 741.2 487.8 741.6 478.4 742.1 487.7 742.5 479.3 743 487.1 743.4 479.4 743.9 486.3 744.3 478.8 744.8 486.4 745.2 478.5 745.7 486.2 746.1 477.7 746.6 485.9 747 477.1 747.5 485.4 747.9 476.2 748.4 485.7 748.8 475 749.3 485.6 749.7 476 750.2 484.1 750.6 475.7 751.1 483.8 751.5 474.2 752 484.2 752.4 474.8 752.9 484.4 753.3 475.9 753.8 483.6 754.2 475.9 754.7 483.9 755.1 476.9 755.6 484.6 756 476.7 756.5 484.8 756.9 476.8 757.4 485.5 757.8 475.8 758.3 486.7 758.7 476.4 759.2 487.5 759.6 477.4 760.1 488 760.5 478.4 761 486.7 761.4 478.5 761.9 486.8 762.3 477.6 762.8 487.4 763.2 476.5 763.7 486.2 764.1 476.5 764.6 485.7 765 477.7" stroke="#8e21a2" stroke-width="1.6" fill="none" stroke-linejoin="bevel"/>
<path d="M136.6 130.9 136.6 131.2 136.6 132 136.6 133.2 136.6 135 136.7 137.3 136.7 140 136.7 143.3 136.8 147 136.8 151.1 136.9 155.6 136.9 160.6 137 165.9 137 171.5 137.1 177.5 137.2 183.8 137.2 190.4 137.3 197.2 137.4 204.3 137.5 211.5 137.6 219 137.7 226.5 137.8 234.2 137.9 241.9 138.1 249.7 138.2 257.5 138.3 265.3 138.4 273.1 138.6 280.9 138.7 288.5 138.9 296.1 139 303.6 139.2 311 139.3 318.2 139.5 325.2 139.7 332.1 139.9 338.9 140.1 345.4 140.2 351.7 140.4 357.8 140.6 363.7 140.8 369.3 141.1 374.7 141.3 380 141.5 385 141.7 389.8 141.9 394.5 142.2 398.8 142.4 402.9 142.7 406.9 142.9 410.6 143.2 414 143.4 417.3 143.7 420.5 144 423.4 144.2 426.1 144.5 428.7 144.8 431.1 145.1 433.3 145.4 435.4 145.7 437.3 146 439.1 146.3 440.7 146.6 442.3 146.9 443.7 147.3 444.9 147.6 446.1 147.9 447.1 148.3 448 148.6 448.9 149 449.6 149.3 450.3 149.7 450.9 150 451.6 150.4 452 150.8 452.5 151.2 452.9 151.6 453.2 152 453.6 152.4 453.9 152.8 454.2 153.2 454.5 153.6 454.9 154 455.2 154.4 455.5 154.8 455.9 155.3 456.2 155.7 456.6 156.1 457 156.6 457.4 157 457.7 157.5 458.1 158 458.6 158.4 459 158.9 459.3 159.4 459.6 159.9 459.9 160.3 460.3 160.8 460.5 161.3 460.6 161.8 460.8 162.3 461 162.9 461.1 163.4 461.1 163.9 461.2 164.4 461 165 461 165.5 461 166 460.8 166.6 460.7 167.1 460.6 167.7 460.4 168.3 460.2 168.8 459.9 169.4 459.7 170 459.5 170.6 459.3 171.1 459.2 171.7 459 172.3 459 172.9 459.1 173.5 459.2 174.2 459.3 174.8 459.5 175.4 459.6 176 459.8 176.7 459.9 177.3 459.9 177.9 459.9 178.6 459.8 179.3 459.7 179.9 459.7 180.6 459.7 181.2 459.7 181.9 459.9 182.6 460.1 183.3 460.2 184 460.3 184.7 460.5 185.4 460.6 186.1 460.6 186.8 460.7 187.5 460.7 188.2 460.9 188.9 461.2 189.7 461.4 190.4 461.8 191.1 462.2 191.9 462.4 192.6 462.6 193.4 462.6 194.1 462.6 194.9 462.5 195.7 462.3 196.5 462.2 197.2 462 198 462.1 198.8 462.3 199.6 462.5 200.4 462.6 201.2 462.8 202 462.9 202.8 463.1 203.7 463.2 204.5 463.2 205.3 463.2 206.1 463.2 207 463.2 207.8 463.2 208.7 463.2 209.5 463 210.4 462.9 211.3 462.8 212.1 462.7 213 462.4 213.9 462.3 214.8 462.3 215.7 462.5 216.6 462.7 217.5 463 218.4 463.3 219.3 463.6 220.2 463.8 221.1 464 222 464.3 223 464.6 223.9 465.1 224.9 465.7 225.8 466.3 226.7 466.7 227.7 467 228.7 466.8 229.6 466.2 230.6 465.6 231.6 464.8 232.6 464.2 233.5 464 234.5 464.3 235.5 465 236.5 466.1 237.5 467.4 238.6 468.3 239.6 469.1 240.6 469.4 241.6 469.1 242.7 468.6 243.7 467.9 244.7 467.1 245.8 466.5 246.8 466.2 247.9 466.1 249 466.1 250 466.4 251.1 466.9 252.2 467.4 253.3 467.8 254.3 468.1 255.4 468.3 256.5 468.3 257.6 468.2 258.7 468.3 259.9 468.6 261 468.9 262.1 469.2 263.2 469.5 264.4 469.7 265.5 469.5 266.6 469.3 267.8 469.1 268.9 469 270.1 469 271.3 469.1 272.4 469.3 273.6 469.3 274.8 469.3 276 469.2 277.2 469.1 278.4 469.1 279.6 469.1 280.8 469.2 282 469.3 283.2 469.5 284.4 469.7 285.6 469.8 286.9 470 288.1 470.1 289.3 470 290.6 470.1 291.8 470.1 293.1 470.2 294.3 470.2 295.6 470.2 296.9 470.1 298.1 470 299.4 470 300.7 470.1 302 470.2 303.3 470.5 304.6 470.7 305.9 470.8 307.2 470.9 308.5 470.8 309.8 470.6 311.2 470.4 312.5 470.3 313.8 470.3 315.2 470.4 316.5 470.6 317.9 470.7 319.2 471 320.6 471.5 321.9 471.9 323.3 472.3 324.7 472.4 326.1 472.3 327.5 472 328.8 471.8 330.2 471.5 331.6 471.4 333 471.3 334.5 471.2 335.9 471.4 337.3 471.7 338.7 471.9 340.2 472 341.6 472.2 343 472.3 344.5 472.6 345.9 472.8 347.4 473.1 348.8 473.2 350.3 473.3 351.8 473.4 353.3 473.4 354.7 473.4 356.2 473.2 357.7 473.1 359.2 472.9 360.7 472.6 362.2 472.5 363.7 472.6 365.2 472.7 366.8 472.9 368.3 472.9 369.8 472.9 371.4 472.9 372.9 473.1 374.5 473.4 376 473.7 377.6 473.8 379.1 473.7 380.7 473.6 382.3 473.6 383.8 473.8 385.4 474 387 474.1 388.6 474.1 390.2 474 391.8 473.9 393.4 474 395 474 396.6 474.1 398.3 474.1 399.9 474.1 401.5 474.2 403.2 474.4 404.8 474.6 406.5 474.8 408.1 474.7 409.8 474.4 411.4 474.1 413.1 474 414.8 474.2 416.4 474.6 418.1 474.6 419.8 474.4 421.5 474.3 423.2 474.4 424.9 474.9 426.6 475.3 428.3 475.4 430.1 475.2 431.8 474.7 433.5 474.5 435.2 474.4 437 474.4 438.7 474.5 440.5 474.8 442.2 475.2 444 475.7 445.8 476 447.5 476.2 449.3 476.3 451.1 476.2 452.9 476 454.6 475.5 456.4 475.2 458.2 475.1 460 475.1 461.9 475.3 463.7 475.2 465.5 475.3 467.3 475.4 469.1 475.8 471 476.2 472.8 476.4 474.7 476.4 476.5 476 478.4 475.5 480.2 475 482.1 474.9 484 475.2 485.8 475.5 487.7 475.6 489.6 475.4 491.5 475 493.4 474.9 495.3 475.3 497.2 475.7 499.1 475.8 501 475.6 502.9 475.3 504.9 475.4 506.8 475.6 508.7 475.9 510.7 476 512.6 475.9 514.6 475.7 516.5 475.8 518.5 475.9 520.5 475.9 522.4 475.8 524.4 476 526.4 476.3 528.4 476.3 530.4 476.3 532.4 476.4 534.4 476.6 536.4 476.6 538.4 476.5 540.4 476.4 542.4 476.1 544.4 476.1 546.5 476.4 548.5 476.8 550.5 477 552.6 476.8 554.6 476.8 556.7 476.9 558.8 477.1 560.8 476.9 562.9 476.6 565 476.4 567.1 476.5 569.1 476.8 571.2 477 573.3 476.7 575.4 476.1 577.5 475.9 579.7 476 581.8 476.2 583.9 476.3 586 476.3 588.2 476.4 590.3 476.6 592.4 476.7 594.6 476.5 596.7 476.5 598.9 476.7 601.1 476.9 603.2 477 605.4 477.1 607.6 476.8 609.8 476.3 612 475.8 614.1 475.8 616.3 476.1 618.5 476.4 620.8 476.6 623 477 625.2 477.2 627.4 477.5 629.6 477.6 631.9 477.4 634.1 476.7 636.4 476.2 638.6 476.5 640.9 477.1 643.1 477.2 645.4 476.6 647.6 476.2 649.9 476.3 652.2 476.6 654.5 476.8 656.8 477 659.1 477.3 661.4 477.2 663.7 477 666 477.1 668.3 477.4 670.6 477.4 672.9 477.3 675.3 477.1 677.6 476.8 679.9 476.4 682.3 476.3 684.6 476.2 687 476.1 689.3 476.1 691.7 476.5 694.1 476.5 696.5 476.2 698.8 475.9 701.2 476.3 703.6 476.8 706 476.8 708.4 476.7 710.8 477 713.2 477.4 715.6 477.3 718.1 477 720.5 476.7 722.9 476.7 725.3 476.7 727.8 476.6 730.2 476.7 732.7 476.8 735.1 476.9 737.6 477.1 740.1 477.5 742.5 477.6 745 477.3 747.5 476.9 750 476.5 752.5 476.1 755 475.9 757.5 476.2 760 476.7 762.5 477 765 476.8" stroke="#7b4ec2" stroke-width="4.6" fill="none" stroke-linejoin="round"/>
<path d="M136.6 136.9 137 166.9 137.5 216.4 137.9 237.4 138.4 275.7 138.8 290.8 139.3 321.5 139.7 330.4 140.2 356.3 140.6 359.6 141.1 380.4 141.5 382.3 142 399.5 142.4 398 142.9 414.6 143.3 409.8 143.8 425.5 144.2 421.1 144.7 433.3 145.1 428.9 145.6 440.6 146 433.4 146.5 447.7 146.9 436.9 147.4 456.5 147.8 441.6 148.3 457.8 148.7 445 149.2 455.6 149.6 446.5 150.1 459.6 150.5 448.1 151 459.2 151.4 449.6 151.9 459.1 152.3 449.6 152.8 459.6 153.2 448.8 153.7 458.8 154.1 444.8 154.6 463.8 155 446.7 155.5 467.5 155.9 452.8 156.4 464 156.8 451.5 157.3 462.4 157.7 451.9 158.2 462.7 158.6 455.2 159.1 464.8 159.5 455.9 160 465.1 160.4 456.3 160.9 464.2 161.3 455.4 161.8 466.3 162.2 456.1 162.7 465.9 163.1 457.7 163.6 465.7 164 456.3 164.4 467.3 164.9 455.9 165.3 467.3 165.8 455.2 166.2 466.6 166.7 455.1 167.1 465.4 167.6 455.7 168 465.2 168.5 454.8 168.9 464.4 169.4 455.7 169.8 464 170.3 455 170.7 464.5 171.2 453.4 171.6 462.8 172.1 454.1 172.5 462.6 173 455.5 173.4 464.3 173.9 455.7 174.3 465 174.8 455.3 175.2 464.5 175.7 455.1 176.1 467.5 176.6 455.8 177 467.1 177.5 453.7 177.9 463 178.4 453 178.8 463.4 179.3 455.7 179.7 463 180.2 456.4 180.6 462.7 181.1 456.5 181.5 464.1 182 456.7 182.4 465.9 182.9 455 183.3 467.1 183.8 453.6 184.2 468.1 184.7 454.6 185.1 466.5 185.6 454.8 186 464.8 186.5 455.6 186.9 464.7 187.4 456.6 187.8 466.1 188.3 455.7 188.7 465.8 189.2 456.3 189.6 465.6 190.1 456.9 190.5 467.6 191 457.6 191.4 467.6 191.8 457.7 192.3 467.8 192.7 457.6 193.2 469.3 193.6 457.4 194.1 468.3 194.5 456.9 195 469.1 195.4 456.5 195.9 468.8 196.3 457.5 196.8 467.9 197.2 457.6 197.7 467.1 198.1 455.6 198.6 466.7 199 456.7 199.5 465.5 199.9 455.8 200.4 466.5 200.8 455.3 201.3 467.6 201.7 457 202.2 466.7 202.6 459.2 203.1 466.2 203.5 460.1 204 467.1 204.4 459.1 204.9 467.9 205.3 459.1 205.8 467.2 206.2 459 206.7 468.6 207.1 458.1 207.6 469 208 458 208.5 468.4 208.9 458.4 209.4 471.8 209.8 457.8 210.3 471.2 210.7 455.7 211.2 470.7 211.6 457.9 212.1 470.6 212.5 458 213 466.1 213.4 455.8 213.9 465.9 214.3 455.8 214.8 466.2 215.2 457.5 215.7 467.8 216.1 458.1 216.6 469 217 456.8 217.5 470.6 217.9 455.7 218.4 470.9 218.8 458.4 219.2 468.4 219.7 460 220.1 467.7 220.6 459.9 221 468 221.5 459.9 221.9 469.4 222.4 459.4 222.8 470.5 223.3 457.5 223.7 470.8 224.2 458.5 224.6 470.5 225.1 456.4 225.5 470.5 226 455.7 226.4 471.7 226.9 460.8 227.3 472.9 227.8 461.2 228.2 471.3 228.7 461.4 229.1 471 229.6 461 230 470.9 230.5 460.1 230.9 469.9 231.4 459.7 231.8 469.1 232.3 460.7 232.7 469 233.2 460.2 233.6 469.2 234.1 459.6 234.5 468.9 235 459.2 235.4 468.8 235.9 458.9 236.3 469.2 236.8 460.4 237.2 470.5 237.7 463.3 238.1 472.2 238.6 463.9 239 474.4 239.5 464.8 239.9 473.7 240.4 466 240.8 472.2 241.3 463 241.7 472.1 242.2 462.1 242.6 473.6 243.1 463.8 243.5 475.2 244 463.8 244.4 473.3 244.9 463.3 245.3 470.9 245.8 462.2 246.2 470.9 246.6 462.6 247.1 472.2 247.5 463.2 248 470.7 248.4 462.5 248.9 470.5 249.3 462 249.8 472.1 250.2 462.2 250.7 472 251.1 463.2 251.6 470.9 252 464.1 252.5 470.9 252.9 464.5 253.4 472.5 253.8 464.1 254.3 472.9 254.7 462.8 255.2 471.7 255.6 462.6 256.1 471.8 256.5 463.4 257 474 257.4 463.5 257.9 473.4 258.3 463.5 258.8 472.3 259.2 464.4 259.7 473.3 260.1 465.2 260.6 474.2 261 465.8 261.5 473 261.9 465.8 262.4 472.7 262.8 465.3 263.3 473.8 263.7 466.5 264.2 473.8 264.6 467.1 265.1 473 265.5 466.9 266 472.1 266.4 466.7 266.9 472 267.3 465.1 267.8 472.2 268.2 462.6 268.7 472 269.1 465.3 269.6 471.1 270 466.6 270.5 471.9 270.9 466.3 271.4 472 271.8 467.1 272.3 472.4 272.7 467.2 273.2 472.3 273.6 466.8 274 472.2 274.5 466.7 274.9 473.5 275.4 466.4 275.8 472.4 276.3 467 276.7 471.6 277.2 466.6 277.6 471.9 278.1 466.2 278.5 471.5 279 466.4 279.4 471.2 279.9 466 280.3 471.3 280.8 466 281.2 471.6 281.7 466.1 282.1 471.8 282.6 466 283 471.2 283.5 467.2 283.9 471.5 284.4 467.8 284.8 472.1 285.3 468.1 285.7 472 286.2 467.6 286.6 471.7 287.1 467.3 287.5 472.1 288 467.1 288.4 472.4 288.9 466.2 289.3 472.2 289.8 466.8 290.2 471.9 290.7 467.7 291.1 472.3 291.6 467.9 292 472.6 292.5 466.8 292.9 472.5 293.4 467.3 293.8 472.1 294.3 468.3 294.7 472.2 295.2 467.3 295.6 472.2 296.1 467.3 296.5 472.1 297 468.3 297.4 471.9 297.9 468.3 298.3 471.5 298.8 468.3 299.2 471.6 299.7 467.4 300.1 472.3 300.5 466.3 301 473.3 301.4 466.9 301.9 472.7 302.3 467.8 302.8 472.2 303.2 468.3 303.7 472.5 304.1 468.1 304.6 473.9 305 465.8 305.5 474.5 305.9 465.1 306.4 473.1 306.8 466.5 307.3 472.5 307.7 468 308.2 472.5 308.6 468.3 309.1 472.6 309.5 468.3 310 473.5 310.4 468 310.9 473.5 311.3 468.2 311.8 473.2 312.2 468.5 312.7 473.6 313.1 468.3 313.6 472.9 314 468 314.5 472.3 314.9 468.2 315.4 472.2 315.8 468.3 316.3 472.4 316.7 467.8 317.2 472.6 317.6 467.7 318.1 473 318.5 467.1 319 473.5 319.4 467.7 319.9 474 320.3 469.1 320.8 473.5 321.2 469.7 321.7 474.4 322.1 469.3 322.6 475.9 323 469.7 323.5 475.1 323.9 470.1 324.4 474.4 324.8 470.3 325.3 474.2 325.7 470.5 326.2 474.5 326.6 469.5 327.1 474.5 327.5 468.4 327.9 474.5 328.4 469.3 328.8 473.9 329.3 469.6 329.7 473.6 330.2 469.2 330.6 473.3 331.1 469.1 331.5 473.4 332 468.7 332.4 473.9 332.9 469.2 333.3 474.6 333.8 469.6 334.2 474.6 334.7 469.7 335.1 473.4 335.6 469.8 336 473.2 336.5 469.3 336.9 473.4 337.4 469.3 337.8 473.4 338.3 469.3 338.7 473.9 339.2 469.5 339.6 474.4 340.1 469.6 340.5 474.8 341 470 341.4 474.4 341.9 469.9 342.3 474.1 342.8 469.8 343.2 474.3 343.7 469.6 344.1 475.6 344.6 470.4 345 475.5 345.5 470.8 345.9 474.8 346.4 469.7 346.8 475.1 347.3 469.8 347.7 475.2 348.2 469.8 348.6 475.3 349.1 470.6 349.5 475.2 350 470.6 350.4 475.6 350.9 470.2 351.3 475.8 351.8 470.5 352.2 475.6 352.7 470.5 353.1 475.6 353.6 470.8 354 475.4 354.5 471.3 354.9 476.4 355.3 471.5 355.8 476.3 356.2 470.5 356.7 475.6 357.1 469.7 357.6 475.7 358 470.6 358.5 475.8 358.9 471 359.4 475.5 359.8 470.9 360.3 475.2 360.7 471.1 361.2 476.1 361.6 470.9 362.1 475.6 362.5 470.1 363 474.4 363.4 469.8 363.9 474.6 364.3 469.9 364.8 474.5 365.2 470.4 365.7 474.4 366.1 470.6 366.6 474.8 367 470.7 367.5 475.5 367.9 470.9 368.4 475.9 368.8 470.9 369.3 475.9 369.7 470.7 370.2 474.9 370.6 470.6 371.1 475 371.5 470.5 372 475.3 372.4 470.7 372.9 475.1 373.3 471.2 373.8 475.2 374.2 471.4 374.7 475.4 375.1 471.7 375.6 476.6 376 471.8 376.5 477.2 376.9 472 377.4 476.1 377.8 471.6 378.3 475.5 378.7 471.3 379.2 475.5 379.6 471.6 380.1 475.8 380.5 471.7 381 475.9 381.4 471.3 381.9 475.7 382.3 471.1 382.7 475.4 383.2 471.4 383.6 475.7 384.1 471.3 384.5 476.2 385 471 385.4 477.3 385.9 471.3 386.3 477.7 386.8 470.7 387.2 477.1 387.7 471.1 388.1 476.7 388.6 471.4 389 477.1 389.5 471 389.9 476.4 390.4 470.6 390.8 476.6 391.3 470.7 391.7 476.7 392.2 471.1 392.6 476.7 393.1 471.8 393.5 476.4 394 470.7 394.4 476.1 394.9 471 395.3 476.4 395.8 472.2 396.2 476.8 396.7 472.1 397.1 476.2 397.6 471.7 398 476.5 398.5 471.9 398.9 477.7 399.4 472.1 399.8 478.2 400.3 472.2 400.7 478.5 401.2 472.3 401.6 477.8 402.1 472.2 402.5 477.2 403 471.8 403.4 477.7 403.9 471 404.3 477.4 404.8 470.9 405.2 476.9 405.7 471.9 406.1 477.4 406.6 472.8 407 477.9 407.5 473.1 407.9 478.1 408.4 472.4 408.8 476.8 409.3 471.8 409.7 476 410.1 471.4 410.6 476.7 411 471.5 411.5 477.3 411.9 471.6 412.4 476.5 412.8 471.5 413.3 476.1 413.7 471.7 414.2 476.5 414.6 472.2 415.1 476.7 415.5 472.7 416 476.5 416.4 472.8 416.9 476.7 417.3 472.8 417.8 476.7 418.2 472.7 418.7 477 419.1 472.4 419.6 477.1 420 471.9 420.5 476.4 420.9 472.1 421.4 476.6 421.8 471.9 422.3 477.1 422.7 471.5 423.2 476.5 423.6 472.5 424.1 476.8 424.5 473.1 425 476.9 425.4 472.3 425.9 477.2 426.3 472.6 426.8 477.1 427.2 473 427.7 477.4 428.1 471 428.6 477.4 429 469.5 429.5 476.9 429.9 471.2 430.4 476.8 430.8 472.7 431.3 477.1 431.7 472.8 432.2 476.9 432.6 472.8 433.1 476.2 433.5 472.8 434 476.2 434.4 472.9 434.9 476.5 435.3 472.9 435.8 477.1 436.2 471.8 436.7 477.3 437.1 471 437.5 476.7 438 472.1 438.4 476.5 438.9 472.6 439.3 477.6 439.8 472.4 440.2 478.1 440.7 472.8 441.1 477.2 441.6 473.1 442 479.4 442.5 472.8 442.9 480.1 443.4 473 443.8 478.2 444.3 473.6 444.7 478.1 445.2 473.8 445.6 478.1 446.1 474 446.5 478.5 447 474 447.4 478.3 447.9 474.1 448.3 477.9 448.8 474 449.2 477.8 449.7 474.1 450.1 478.7 450.6 474.5 451 479.8 451.5 474.3 451.9 478.8 452.4 473.1 452.8 477.9 453.3 472.1 453.7 477.8 454.2 472.3 454.6 477.6 455.1 471.7 455.5 477.1 456 472.4 456.4 477.1 456.9 472.9 457.3 477 457.8 473 458.2 477.8 458.7 472.6 459.1 478.2 459.6 473 460 477.7 460.5 472.8 460.9 478 461.4 473 461.8 478 462.3 471.5 462.7 478.3 463.2 470.7 463.6 478.6 464.1 472.3 464.5 477.7 464.9 473 465.4 477.5 465.8 473.2 466.3 477.7 466.7 473.5 467.2 478.4 467.6 473.6 468.1 478.4 468.5 473.7 469 478.5 469.4 474 469.9 479.3 470.3 474.2 470.8 479.1 471.2 473.9 471.7 478.1 472.1 473.4 472.6 478.1 473 474 473.5 478.9 473.9 473.6 474.4 479.3 474.8 473.4 475.3 478.7 475.7 473.8 476.2 478 476.6 473.7 477.1 477.8 477.5 473.7 478 477.2 478.4 473.6 478.9 476.8 479.3 473.3 479.8 477.7 480.2 472.5 480.7 477.8 481.1 472.4 481.6 477.5 482 473 482.5 478.1 482.9 473.2 483.4 477.6 483.8 473 484.3 477.9 484.7 473.2 485.2 477.9 485.6 473.3 486.1 477.3 486.5 473.6 487 477.3 487.4 473.3 487.9 478.1 488.3 473 488.8 478 489.2 473.1 489.7 477 490.1 473.3 490.6 477.1 491 472.9 491.5 478.2 491.9 472.6 492.3 478 492.8 473.1 493.2 476.9 493.7 473.2 494.1 476.9 494.6 473.1 495 478.1 495.5 471.3 495.9 478.8 496.4 471.7 496.8 478 497.3 473.5 497.7 477.7 498.2 473.1 498.6 478 499.1 473.1 499.5 478.9 500 471.4 500.4 479.2 500.9 468.8 501.3 477.7 501.8 471 502.2 477.8 502.7 472.5 503.1 479.8 503.6 473 504 478.7 504.5 473 504.9 477 505.4 472.2 505.8 477.2 506.3 471.7 506.7 477.8 507.2 472.8 507.6 477.9 508.1 472.4 508.5 478.2 509 473.5 509.4 478.8 509.9 473.8 510.3 478.4 510.8 473.2 511.2 477.9 511.7 473 512.1 478.2 512.6 473.3 513 478.2 513.5 473.4 513.9 477.9 514.4 473.2 514.8 477.9 515.3 473 515.7 479.1 516.2 473 516.6 480.8 517.1 473 517.5 480 518 473.4 518.4 478.8 518.9 474.1 519.3 479.5 519.7 474.2 520.2 478.4 520.6 474.3 521.1 478 521.5 474.2 522 477.8 522.4 473.5 522.9 479.1 523.3 473.4 523.8 479.2 524.2 473.8 524.7 477.9 525.1 473.4 525.6 477.9 526 473.9 526.5 479.2 526.9 474.1 527.4 479.3 527.8 474.1 528.3 478.4 528.7 474.4 529.2 478.3 529.6 473.7 530.1 478.2 530.5 473.1 531 478.2 531.4 473.9 531.9 478.6 532.3 474.4 532.8 479.3 533.2 474 533.7 479.8 534.1 473.4 534.6 479.7 535 474.3 535.5 478.8 535.9 474.8 536.4 478.6 536.8 474.8 537.3 478.7 537.7 473.3 538.2 479 538.6 472.6 539.1 478.5 539.5 473.4 540 478.5 540.4 472.9 540.9 478.4 541.3 473.9 541.8 478.1 542.2 474 542.7 477.9 543.1 472.7 543.6 477.9 544 473.1 544.5 478.3 544.9 473.7 545.4 478 545.8 473.1 546.3 478.5 546.7 471.9 547.1 479.2 547.6 473.1 548 479.6 548.5 473.7 548.9 478.9 549.4 473 549.8 479.3 550.3 473.9 550.7 480.4 551.2 474.9 551.6 479.3 552.1 475 552.5 478.6 553 474.9 553.4 478.8 553.9 474.3 554.3 479.1 554.8 474.7 555.2 478.7 555.7 474.6 556.1 479.2 556.6 474.1 557 479.5 557.5 474.3 557.9 480.1 558.4 474.2 558.8 481.4 559.3 473.8 559.7 480.1 560.2 474.1 560.6 478.9 561.1 474.5 561.5 479 562 473.8 562.4 479.5 562.9 473.6 563.3 478.9 563.8 473.8 564.2 478.3 564.7 474 565.1 478.6 565.6 474.3 566 479 566.5 473.8 566.9 478.5 567.4 474.1 567.8 479.3 568.3 474.5 568.7 479.6 569.2 473.2 569.6 479 570.1 472.9 570.5 479.6 571 474.1 571.4 479.6 571.9 473.9 572.3 479.6 572.8 474.2 573.2 479.5 573.7 474.3 574.1 478.4 574.5 473.8 575 478 575.4 473 575.9 478 576.3 472.6 576.8 478 577.2 473.2 577.7 478.2 578.1 473.5 578.6 478.6 579 473.8 579.5 478.4 579.9 474.1 580.4 478.1 580.8 474.3 581.3 478.2 581.7 474.4 582.2 478.7 582.6 473.8 583.1 478.5 583.5 473.9 584 478.1 584.4 474.3 584.9 477.8 585.3 473.5 585.8 479.1 586.2 473.3 586.7 479.2 587.1 474.2 587.6 477.8 588 473.9 588.5 478.2 588.9 474.3 589.4 478.9 589.8 474.8 590.3 479.5 590.7 473.9 591.2 479.7 591.6 473.4 592.1 480.9 592.5 474.1 593 480.4 593.4 474.3 593.9 479.3 594.3 474.6 594.8 479.9 595.2 474 595.7 479.5 596.1 473.8 596.6 478.6 597 474.7 597.5 478.3 597.9 475 598.4 478.4 598.8 474.7 599.3 478.6 599.7 473.6 600.2 478.8 600.6 473.7 601.1 479.1 601.5 474.7 601.9 479.4 602.4 474.8 602.8 479.2 603.3 475 603.7 479.7 604.2 474.8 604.6 480.5 605.1 474.2 605.5 480.7 606 473.4 606.4 480.2 606.9 473.5 607.3 479.1 607.8 474 608.2 478.7 608.7 474.5 609.1 478.6 609.6 474.4 610 479 610.5 473.9 610.9 478.8 611.4 473.6 611.8 478.6 612.3 473.1 612.7 478.2 613.2 472.3 613.6 478.3 614.1 472 614.5 478.5 615 473.4 615.4 478 615.9 474.1 616.3 479.4 616.8 474 617.2 480.6 617.7 473.5 618.1 478.9 618.6 473.7 619 478.8 619.5 474.2 619.9 479.6 620.4 474.6 620.8 478.9 621.3 474.9 621.7 478.8 622.2 475.1 622.6 479.2 623.1 475.1 623.5 479 624 475.3 624.4 479.3 624.9 475.1 625.3 479.9 625.8 475.3 626.2 480.7 626.7 475.4 627.1 479.8 627.6 475 628 479.4 628.4 475.5 628.9 480 629.3 475.8 629.8 479.6 630.2 475.4 630.7 479.2 631.1 475 631.6 479.4 632 475.2 632.5 479.6 632.9 474.2 633.4 480.4 633.8 473.8 634.3 480.4 634.7 474 635.2 479.5 635.6 474.4 636.1 478.5 636.5 474.2 637 478.6 637.4 473.6 637.9 479 638.3 473.7 638.8 478.6 639.2 474.7 639.7 478.7 640.1 474.3 640.6 478.7 641 472.6 641.5 479.1 641.9 473.8 642.4 479.8 642.8 473.9 643.3 479.5 643.7 473.5 644.2 478.7 644.6 473.3 645.1 478.7 645.5 473.5 646 478.5 646.4 474.2 646.9 478.2 647.3 474.3 647.8 479.1 648.2 474 648.7 479 649.1 473.9 649.6 478.1 650 473.4 650.5 478.1 650.9 473.8 651.4 478.7 651.8 474.5 652.3 479.3 652.7 474.7 653.2 479.1 653.6 474.3 654.1 479.1 654.5 474.6 655 479.2 655.4 474.8 655.8 479.7 656.3 475.1 656.7 480.6 657.2 474.3 657.6 480.7 658.1 474.2 658.5 479.4 659 474.9 659.4 479.2 659.9 474.4 660.3 480.2 660.8 475.1 661.2 480.1 661.7 475.5 662.1 480.4 662.6 474.9 663 480.2 663.5 474 663.9 478.8 664.4 473.9 664.8 479.1 665.3 474.2 665.7 479.2 666.2 473.8 666.6 479 667.1 474.5 667.5 479.8 668 475.2 668.4 480.6 668.9 474.5 669.3 479.9 669.8 474.7 670.2 479.4 670.7 475.4 671.1 479.6 671.6 474.9 672 479.7 672.5 473.8 672.9 479.5 673.4 474.1 673.8 479.3 674.3 474.8 674.7 479.1 675.2 475.5 675.6 479.1 676.1 475.4 676.5 478.9 677 474.4 677.4 478.9 677.9 474 678.3 478.9 678.8 473 679.2 478.4 679.7 472.7 680.1 478.2 680.6 473.5 681 478.5 681.5 473 681.9 478.6 682.4 473.4 682.8 478.5 683.2 474.2 683.7 478.4 684.1 474.5 684.6 478.2 685 473.6 685.5 478.4 685.9 473.4 686.4 478.2 686.8 474.4 687.3 478.3 687.7 473.1 688.2 478.8 688.6 472.7 689.1 478.9 689.5 473.7 690 478.9 690.4 473 690.9 478.5 691.3 473 691.8 478.5 692.2 474.3 692.7 478.6 693.1 474.8 693.6 478.5 694 474.6 694.5 478.6 694.9 474.2 695.4 479.4 695.8 474.1 696.3 480.2 696.7 474.1 697.2 479.3 697.6 473.9 698.1 478.6 698.5 474.1 699 477.9 699.4 474.1 699.9 477.6 700.3 474.3 700.8 478.1 701.2 474.7 701.7 478.4 702.1 474.6 702.6 478.6 703 474.1 703.5 479.5 703.9 474.4 704.4 479.8 704.8 475.2 705.3 479.2 705.7 474.6 706.2 478.8 706.6 474.2 707.1 478.2 707.5 473.6 708 478.4 708.4 473 708.9 478.9 709.3 473.7 709.8 479.2 710.2 474.1 710.6 479.4 711.1 474.5 711.5 480.5 712 474.4 712.4 480.3 712.9 474.8 713.3 480 713.8 475.7 714.2 481 714.7 475.7 715.1 479.9 715.6 475.6 716 479.2 716.5 475.2 716.9 480.4 717.4 475 717.8 480.3 718.3 475.2 718.7 479.6 719.2 474.8 719.6 479.5 720.1 474.3 720.5 478.5 721 474.4 721.4 478.3 721.9 474.5 722.3 478.7 722.8 474.5 723.2 478.8 723.7 474.8 724.1 480 724.6 474.5 725 480.2 725.5 474.5 725.9 479.3 726.4 474.8 726.8 478.7 727.3 474.9 727.7 478.4 728.2 474.8 728.6 478.8 729.1 474.4 729.5 479.2 730 473.8 730.4 478.9 730.9 473.6 731.3 478.8 731.8 473.2 732.2 479.4 732.7 473.5 733.1 479.6 733.6 474.7 734 479.6 734.5 474.6 734.9 479.4 735.4 474.5 735.8 478.6 736.3 474.8 736.7 478.7 737.2 474.9 737.6 479.9 738 475.3 738.5 480.3 738.9 475.6 739.4 479.3 739.8 475.6 740.3 480.9 740.7 475.8 741.2 480.9 741.6 475.7 742.1 479.3 742.5 475.8 743 479.6 743.4 475.9 743.9 480.1 744.3 474.8 744.8 479.7 745.2 474 745.7 479.4 746.1 474.8 746.6 479.3 747 475.1 747.5 479.1 747.9 474.5 748.4 478.5 748.8 473.8 749.3 478.3 749.7 473.7 750.2 480.2 750.6 473.8 751.1 480.1 751.5 474.2 752 479 752.4 474.5 752.9 479.1 753.3 473.8 753.8 477.9 754.2 472.9 754.7 477.8 755.1 473.7 755.6 477.8 756 471.7 756.5 477.9 756.9 471.9 757.4 478.1 757.8 474.6 758.3 479.6 758.7 474.6 759.2 479.8 759.6 475 760.1 478.8 760.5 475.2 761 478.9 761.4 474.9 761.9 478.9 762.3 474.4 762.8 479.3 763.2 474.8 763.7 478.9 764.1 475.3 764.6 478.7 765 475.3" stroke="#7b4ec2" stroke-width="1.6" fill="none" stroke-linejoin="bevel"/>
<path d="M136.6 132 136.6 132.1 136.6 132.5 136.6 133 136.6 133.7 136.7 134.7 136.7 135.9 136.7 137.3 136.8 138.9 136.8 140.6 136.9 142.6 136.9 144.8 137 147.2 137 149.7 137.1 152.4 137.2 155.3 137.2 158.4 137.3 161.6 137.4 165 137.5 168.6 137.6 172.2 137.7 175.9 137.8 179.8 137.9 183.8 138.1 187.9 138.2 192.1 138.3 196.4 138.4 200.8 138.6 205.2 138.7 209.8 138.9 214.4 139 219 139.2 223.8 139.3 228.5 139.5 233.3 139.7 238.1 139.9 242.9 140.1 247.6 140.2 252.4 140.4 257.2 140.6 262 140.8 266.8 141.1 271.5 141.3 276.2 141.5 280.9 141.7 285.6 141.9 290.2 142.2 294.8 142.4 299.4 142.7 303.9 142.9 308.3 143.2 312.5 143.4 316.8 143.7 320.9 144 325 144.2 329 144.5 332.8 144.8 336.5 145.1 340.2 145.4 343.7 145.7 347.2 146 350.5 146.3 353.7 146.6 356.9 146.9 359.9 147.3 362.9 147.6 365.7 147.9 368.4 148.3 371.1 148.6 373.7 149 376.2 149.3 378.8 149.7 381.1 150 383.4 150.4 385.7 150.8 387.9 151.2 390.1 151.6 392.2 152 394.2 152.4 396.2 152.8 398.3 153.2 400.3 153.6 402.2 154 404 154.4 405.9 154.8 407.7 155.3 409.5 155.7 411.3 156.1 412.9 156.6 414.5 157 416 157.5 417.4 158 418.7 158.4 420 158.9 421 159.4 421.8 159.9 422.5 160.3 423.2 160.8 423.8 161.3 424.4 161.8 425 162.3 425.5 162.9 426.2 163.4 426.8 163.9 427.5 164.4 428.2 165 429.1 165.5 429.9 166 430.6 166.6 431.3 167.1 431.9 167.7 432.5 168.3 432.9 168.8 433.3 169.4 433.7 170 434 170.6 434.3 171.1 434.6 171.7 435 172.3 435.5 172.9 436.1 173.5 436.7 174.2 437.4 174.8 437.9 175.4 438.5 176 439 176.7 439.6 177.3 439.9 177.9 440.3 178.6 440.4 179.3 440.5 179.9 440.7 180.6 440.6 181.2 440.6 181.9 440.8 182.6 441.1 183.3 441.3 184 441.5 184.7 442.1 185.4 442.6 186.1 443.1 186.8 443.7 187.5 444.3 188.2 445 188.9 445.7 189.7 446.3 190.4 447 191.1 447.7 191.9 448.4 192.6 449.3 193.4 450.1 194.1 450.9 194.9 452 195.7 452.8 196.5 453.9 197.2 454.6 198 455.3 198.8 455.9 199.6 456.1 200.4 456.3 201.2 456.4 202 456.2 202.8 456.3 203.7 456.1 204.5 456.1 205.3 456.1 206.1 456 207 456.1 207.8 456 208.7 456.2 209.5 456.3 210.4 456.6 211.3 457.1 212.1 457.8 213 458.4 213.9 458.7 214.8 458.9 215.7 458.9 216.6 458.5 217.5 458.1 218.4 457.6 219.3 457.4 220.2 457.2 221.1 457.5 222 458.2 223 458.8 223.9 459.6 224.9 460.4 225.8 460.8 226.7 461.1 227.7 461.4 228.7 461.8 229.6 462.2 230.6 462.7 231.6 463.4 232.6 463.8 233.5 464.2 234.5 464.1 235.5 464.1 236.5 464.2 237.5 464.5 238.6 464.7 239.6 465.3 240.6 465.8 241.6 465.9 242.7 465.7 243.7 464.9 244.7 464.3 245.8 463.4 246.8 462.9 247.9 462.5 249 462.5 250 462.5 251.1 462.5 252.2 462.6 253.3 462.7 254.3 462.9 255.4 463.3 256.5 463.7 257.6 464.5 258.7 465.1 259.9 465.5 261 465.9 262.1 466 263.2 466.1 264.4 466.2 265.5 466.5 266.6 466.8 267.8 467.2 268.9 467.4 270.1 467.7 271.3 467.6 272.4 467.4 273.6 467.2 274.8 466.9 276 466.7 277.2 466.6 278.4 466.6 279.6 466.6 280.8 466.7 282 466.9 283.2 467.1 284.4 467.4 285.6 467.6 286.9 467.9 288.1 468.1 289.3 468.3 290.6 468.4 291.8 468.4 293.1 468.3 294.3 468.3 295.6 468.3 296.9 468.5 298.1 468.7 299.4 468.9 300.7 469.1 302 469.1 303.3 469.1 304.6 468.9 305.9 468.8 307.2 468.6 308.5 468.3 309.8 468.2 311.2 468.1 312.5 468.3 313.8 468.7 315.2 469.1 316.5 469.5 317.9 469.6 319.2 469.7 320.6 469.6 321.9 469.6 323.3 469.5 324.7 469.4 326.1 469.2 327.5 468.9 328.8 468.7 330.2 468.8 331.6 469 333 469.5 334.5 469.9 335.9 470.2 337.3 470.1 338.7 469.7 340.2 469.2 341.6 468.6 343 468.4 344.5 468.3 345.9 468.4 347.4 468.5 348.8 468.7 350.3 468.9 351.8 469.2 353.3 469.6 354.7 470 356.2 470.2 357.7 470.3 359.2 470.2 360.7 470.1 362.2 469.9 363.7 469.8 365.2 469.7 366.8 469.6 368.3 469.5 369.8 469.4 371.4 469.3 372.9 469.4 374.5 469.4 376 469.6 377.6 469.6 379.1 469.6 380.7 469.5 382.3 469.3 383.8 469 385.4 468.8 387 468.7 388.6 468.7 390.2 468.7 391.8 468.6 393.4 468.5 395 468.4 396.6 468.6 398.3 468.7 399.9 468.9 401.5 469.2 403.2 469.6 404.8 470.2 406.5 470.7 408.1 470.9 409.8 470.8 411.4 470.4 413.1 470.1 414.8 469.6 416.4 469.4 418.1 469.2 419.8 469.1 421.5 469.1 423.2 469 424.9 468.9 426.6 468.8 428.3 468.8 430.1 468.9 431.8 468.9 433.5 469.1 435.2 469.2 437 469.4 438.7 469.6 440.5 469.8 442.2 470 444 470 445.8 469.9 447.5 469.8 449.3 469.7 451.1 469.4 452.9 469.2 454.6 469.1 456.4 469.3 458.2 469.7 460 469.9 461.9 470 463.7 470.1 465.5 470.2 467.3 469.9 469.1 469.4 471 469.1 472.8 469 474.7 469.3 476.5 469.5 478.4 469.6 480.2 469.6 482.1 469.5 484 469.5 485.8 469.5 487.7 469.5 489.6 469.6 491.5 469.4 493.4 469.2 495.3 469.1 497.2 469.1 499.1 469.5 501 469.9 502.9 470.3 504.9 470.4 506.8 470.3 508.7 470.2 510.7 469.9 512.6 469.4 514.6 469.2 516.5 469.5 518.5 470 520.5 470.3 522.4 470.4 524.4 470.4 526.4 470.5 528.4 470.4 530.4 470.2 532.4 470 534.4 470 536.4 470 538.4 469.8 540.4 469.3 542.4 469 544.4 468.9 546.5 469.2 548.5 469.6 550.5 469.8 552.6 469.6 554.6 469.3 556.7 468.9 558.8 468.5 560.8 468.3 562.9 468.7 565 469.2 567.1 469.5 569.1 469.5 571.2 469.6 573.3 469.8 575.4 470.1 577.5 470.3 579.7 470 581.8 469.4 583.9 469 586 469 588.2 469.3 590.3 469.8 592.4 470.1 594.6 470 596.7 470.1 598.9 470.1 601.1 469.9 603.2 469.4 605.4 469 607.6 469 609.8 469.3 612 469.2 614.1 468.7 616.3 468.5 618.5 469.1 620.8 470.4 623 471.3 625.2 471.4 627.4 470.8 629.6 470.7 631.9 470.7 634.1 470.6 636.4 470.4 638.6 470.3 640.9 470.3 643.1 469.8 645.4 469.2 647.6 469.2 649.9 469.4 652.2 469.4 654.5 469.3 656.8 469.5 659.1 470 661.4 470.3 663.7 470.5 666 470.6 668.3 470.7 670.6 470.6 672.9 470.3 675.3 469.7 677.6 469.1 679.9 469 682.3 469.3 684.6 469.7 687 469.9 689.3 469.9 691.7 469.6 694.1 469.5 696.5 469.6 698.8 470 701.2 470.4 703.6 470.1 706 469.5 708.4 469.3 710.8 469.5 713.2 469.5 715.6 469.5 718.1 469.8 720.5 470.3 722.9 470.1 725.3 469.8 727.8 469.8 730.2 469.8 732.7 469.7 735.1 469.5 737.6 469.3 740.1 469 742.5 468.8 745 468.8 747.5 469.2 750 470.1 752.5 470.9 755 471.2 757.5 470.9 760 470.7 762.5 470.6 765 470.3" stroke="#2d2a86" stroke-width="5.2" fill="none" stroke-linejoin="round"/>
<path d="M136.6 136.5 137 143.6 137.5 174.3 137.9 178.7 138.4 207.3 138.8 207.9 139.3 232.6 139.7 233.5 140.2 255.9 140.6 255.7 141.1 279.2 141.5 276.3 142 300.1 142.4 291.8 142.9 315.2 143.3 304.7 143.8 327.9 144.2 319 144.7 340.7 145.1 334.3 145.6 351 146 345 146.5 359.9 146.9 354 147.4 369 147.8 363.3 148.3 376.6 148.7 369.7 149.2 384.6 149.6 373.9 150.1 390.9 150.5 379.5 151 395.4 151.4 386.9 151.9 399.6 152.3 390.8 152.8 404.8 153.2 395.4 153.7 410.1 154.1 396 154.6 419.5 155 396.1 155.5 422.6 155.9 403.5 156.4 419.2 156.8 408.9 157.3 422.5 157.7 411.9 158.2 426.1 158.6 414.2 159.1 426.8 159.5 415.5 160 429.1 160.4 417.8 160.9 433.1 161.3 418.7 161.8 432.2 162.2 417.3 162.7 430.4 163.1 419.1 163.6 434.4 164 423.5 164.4 437.6 164.9 424.5 165.3 437.6 165.8 421.8 166.2 441.6 166.7 421.7 167.1 443.3 167.6 427.2 168 438.5 168.5 427.2 168.9 438.5 169.4 423.8 169.8 440.8 170.3 426.1 170.7 441.8 171.2 429.3 171.6 441.5 172.1 429.8 172.5 440.3 173 430.4 173.4 444.8 173.9 431.3 174.3 446.4 174.8 429.9 175.2 447 175.7 429.9 176.1 448.5 176.6 432.4 177 446.9 177.5 432.7 177.9 446.2 178.4 432.6 178.8 447.6 179.3 431.4 179.7 451.7 180.2 429.5 180.6 447.6 181.1 431.4 181.5 445.1 182 433.7 182.4 446.1 182.9 434.1 183.3 446.2 183.8 434.2 184.2 446.1 184.7 434.6 185.1 446.6 185.6 436.7 186 447 186.5 432 186.9 449.5 187.4 433.1 187.8 450.7 188.3 438.4 188.7 450.7 189.2 439.6 189.6 451.9 190.1 441 190.5 452.2 191 441.8 191.4 452.3 191.8 442.4 192.3 454.2 192.7 443.7 193.2 455.1 193.6 443 194.1 457 194.5 445.2 195 459.9 195.4 447.4 195.9 459.3 196.3 448.9 196.8 459.5 197.2 446.7 197.7 460 198.1 445.1 198.6 464.9 199 447.8 199.5 469.4 199.9 449.7 200.4 464.8 200.8 448.9 201.3 462 201.7 448.9 202.2 462.9 202.6 449 203.1 464.4 203.5 448 204 464.4 204.4 448.4 204.9 464.4 205.3 446.5 205.8 464.8 206.2 443.8 206.7 464.2 207.1 446.8 207.6 461 208 449.5 208.5 461.5 208.9 447.1 209.4 461 209.8 449 210.3 462 210.7 451.5 211.2 464.6 211.6 451.5 212.1 465 212.5 450.3 213 466.9 213.4 450.7 213.9 467.9 214.3 451.8 214.8 467.2 215.2 453.6 215.7 465.5 216.1 453.5 216.6 464.8 217 452.1 217.5 465.8 217.9 452.3 218.4 464.3 218.8 452.6 219.2 465.1 219.7 452.2 220.1 463.9 220.6 452.6 221 462.6 221.5 450 221.9 463.5 222.4 446.4 222.8 466.7 223.3 447.4 223.7 467.8 224.2 449 224.6 468.6 225.1 452.3 225.5 474 226 456.5 226.4 469.2 226.9 452.1 227.3 470.9 227.8 449.2 228.2 475.2 228.7 452.6 229.1 472.1 229.6 455 230 469.7 230.5 457.4 230.9 468 231.4 455.4 231.8 471.2 232.3 454.9 232.7 473.8 233.2 458.9 233.6 471.9 234.1 459.1 234.5 472 235 457.8 235.4 474 235.9 457.9 236.3 480.2 236.8 457.2 237.2 475.9 237.7 456.5 238.1 471.6 238.6 458.5 239 477.2 239.5 457.6 239.9 476.6 240.4 456.2 240.8 472.3 241.3 458.1 241.7 472 242.2 459.6 242.6 471.4 243.1 457.7 243.5 474.5 244 457.1 244.4 474.6 244.9 456.9 245.3 469.4 245.8 455.3 246.2 467.8 246.6 457.1 247.1 472.9 247.5 457 248 473.3 248.4 455.6 248.9 468.5 249.3 456.2 249.8 468.5 250.2 456.9 250.7 468.6 251.1 456.8 251.6 467.4 252 455.9 252.5 468.3 252.9 454.4 253.4 468.8 253.8 457.4 254.3 470.9 254.7 456.8 255.2 470.4 255.6 455.8 256.1 468.8 256.5 456.1 257 474.2 257.4 458.1 257.9 474.6 258.3 457.3 258.8 470 259.2 457 259.7 471.5 260.1 460.1 260.6 472.6 261 460.4 261.5 472.8 261.9 459.2 262.4 470.9 262.8 459.4 263.3 469.8 263.7 459.4 264.2 469.9 264.6 461.9 265.1 470.7 265.5 462.8 266 470.6 266.4 463.9 266.9 473.8 267.3 462.3 267.8 473.9 268.2 462.7 268.7 472.3 269.1 464.5 269.6 472.9 270 465 270.5 471.6 270.9 465.1 271.4 471.2 271.8 463.7 272.3 472.1 272.7 462.2 273.2 470.5 273.6 463.7 274 469.1 274.5 462.5 274.9 469.1 275.4 461.7 275.8 469.5 276.3 463.9 276.7 469.7 277.2 463.9 277.6 469.7 278.1 462.1 278.5 469.3 279 462.7 279.4 468.4 279.9 464.1 280.3 469 280.8 464.4 281.2 469.1 281.7 464.8 282.1 469.3 282.6 464.5 283 469.7 283.5 464.6 283.9 469.8 284.4 465.3 284.8 470.5 285.3 465.7 285.7 469.9 286.2 465.7 286.6 469.6 287.1 465.4 287.5 470 288 464.8 288.4 470.7 288.9 464.6 289.3 470.8 289.8 466 290.2 470.7 290.7 466.5 291.1 471.4 291.6 466.3 292 471.6 292.5 465.2 292.9 470.8 293.4 465.3 293.8 470.3 294.3 465.6 294.7 472.1 295.2 465.8 295.6 473.3 296.1 465.3 296.5 471.1 297 464.3 297.4 470.7 297.9 464.6 298.3 471 298.8 465 299.2 472.2 299.7 465.7 300.1 472.5 300.5 466.4 301 471.8 301.4 467 301.9 471.2 302.3 466.9 302.8 471.3 303.2 466.6 303.7 471.8 304.1 467.1 304.6 471 305 466.5 305.5 470.5 305.9 465.3 306.4 470.6 306.8 465.4 307.3 470.4 307.7 465.9 308.2 470.3 308.6 465.6 309.1 470.6 309.5 465 310 472.2 310.4 465.4 310.9 471.5 311.3 466 311.8 470.1 312.2 465.3 312.7 470.4 313.1 464.8 313.6 470.9 314 466 314.5 472 314.9 467 315.4 473.9 315.8 467 316.3 472.4 316.7 466.7 317.2 471.2 317.6 467.1 318.1 471.6 318.5 467.1 319 471.7 319.4 467.5 319.9 472.1 320.3 467.4 320.8 472.1 321.2 466.8 321.7 471.4 322.1 467.1 322.6 471.4 323 467 323.5 471.2 323.9 467.3 324.4 471.4 324.8 467.5 325.3 472 325.7 467 326.2 472 326.6 466.5 327.1 471.3 327.5 465.9 327.9 470.5 328.4 466.7 328.8 470.5 329.3 466.7 329.7 470.8 330.2 465.3 330.6 471.3 331.1 465.3 331.5 472.1 332 465.8 332.4 472.1 332.9 466.7 333.3 472.8 333.8 467.3 334.2 473.6 334.7 466.7 335.1 472.9 335.6 467.2 336 472.5 336.5 467.9 336.9 472.4 337.4 468.4 337.8 472.9 338.3 468.1 338.7 473.7 339.2 467.3 339.6 472.1 340.1 466.4 340.5 471.8 341 465.7 341.4 472.7 341.9 466 342.3 471.9 342.8 466.1 343.2 470.8 343.7 466 344.1 470.3 344.6 466.3 345 470.4 345.5 466.5 345.9 470.1 346.4 466.2 346.8 470.4 347.3 466.4 347.7 470.5 348.2 466.3 348.6 470.3 349.1 465.8 349.5 470.6 350 466.3 350.4 470.8 350.9 467 351.3 470.8 351.8 467.4 352.2 471.1 352.7 467.9 353.1 471.6 353.6 467.7 354 471.9 354.5 466.9 354.9 472.1 355.3 465.7 355.8 473.2 356.2 467.3 356.7 474.8 357.1 468 357.6 474.4 358 468 358.5 473 358.9 468.2 359.4 472.6 359.8 467.9 360.3 473.2 360.7 467.1 361.2 473.2 361.6 466.9 362.1 472.2 362.5 467.5 363 471.7 363.4 468 363.9 471.5 364.3 468 364.8 471.9 365.2 467.8 365.7 472.4 366.1 467.1 366.6 471.9 367 467.1 367.5 471.7 367.9 466.4 368.4 471.2 368.8 466.6 369.3 471.5 369.7 466.9 370.2 471.7 370.6 466.5 371.1 471.8 371.5 467.1 372 471.8 372.4 467.1 372.9 471 373.3 467 373.8 471.5 374.2 466.8 374.7 472.2 375.1 464.6 375.6 471.9 376 465 376.5 471.6 376.9 466.5 377.4 471.6 377.8 466.1 378.3 471.4 378.7 466.5 379.2 471.1 379.6 466.7 380.1 471.4 380.5 466.4 381 472.2 381.4 467 381.9 472.2 382.3 467 382.7 472.1 383.2 466.2 383.6 471.4 384.1 466.7 384.5 471.6 385 467.2 385.4 472.4 385.9 467 386.3 471 386.8 467.1 387.2 470.3 387.7 467.2 388.1 470.2 388.6 466.9 389 470.5 389.5 466.2 389.9 470.6 390.4 466.3 390.8 471 391.3 466.6 391.7 471.1 392.2 464.8 392.6 470.7 393.1 464.3 393.5 470.7 394 465.8 394.4 471.2 394.9 466.4 395.3 471.6 395.8 466.3 396.2 470.9 396.7 466.1 397.1 473.3 397.6 466.1 398 473.8 398.5 463.6 398.9 473 399.4 463.8 399.8 474.7 400.3 466.9 400.7 475.3 401.2 466.9 401.6 474.9 402.1 466.9 402.5 472.7 403 466.9 403.4 472.2 403.9 466.7 404.3 472.1 404.8 467.5 405.2 472.7 405.7 467.9 406.1 472.6 406.6 467.6 407 472.7 407.5 467.1 407.9 473 408.4 467.2 408.8 474 409.3 468.4 409.7 473.8 410.1 468.5 410.6 473.1 411 468.8 411.5 473.5 411.9 468.4 412.4 472.5 412.8 467.8 413.3 472 413.7 467.7 414.2 471.8 414.6 467.5 415.1 471.7 415.5 467.1 416 472.3 416.4 467.3 416.9 472.6 417.3 466.8 417.8 472 418.2 465.8 418.7 471.4 419.1 466.3 419.6 471.7 420 465.7 420.5 473.2 420.9 466 421.4 473.1 421.8 466.9 422.3 471.6 422.7 466.1 423.2 471.2 423.6 466.2 424.1 470.9 424.5 467 425 471.1 425.4 467 425.9 472 426.3 466.8 426.8 471.8 427.2 467 427.7 471.7 428.1 466.4 428.6 471.6 429 465.5 429.5 470.6 429.9 466 430.4 470.8 430.8 466.3 431.3 471.5 431.7 466.2 432.2 472.7 432.6 466.6 433.1 471.9 433.5 466.9 434 471.3 434.4 467.2 434.9 471.5 435.3 466.8 435.8 471.6 436.2 466.5 436.7 471.7 437.1 467.2 437.5 473 438 467.5 438.4 473.7 438.9 467.5 439.3 472.8 439.8 467.6 440.2 471.5 440.7 468.2 441.1 471.5 441.6 467.9 442 471.7 442.5 466.5 442.9 472.1 443.4 466.6 443.8 472.8 444.3 467.5 444.7 472.8 445.2 467.1 445.6 472.5 446.1 467.4 446.5 472.8 447 467 447.4 473.4 447.9 467.3 448.3 473.5 448.8 467 449.2 472.8 449.7 466.9 450.1 472.6 450.6 467 451 472.5 451.5 467.2 451.9 471.4 452.4 466.1 452.8 471.4 453.3 465.9 453.7 472.4 454.2 467.2 454.6 471.6 455.1 467.2 455.5 471.1 456 467 456.4 471.3 456.9 465.4 457.3 471.5 457.8 466.1 458.2 472.5 458.7 466.8 459.1 472.3 459.6 465.5 460 471.9 460.5 466.8 460.9 473 461.4 467.4 461.8 473.4 462.3 466.6 462.7 472.4 463.2 466.8 463.6 472.3 464.1 467.6 464.5 473 464.9 467.3 465.4 473.3 465.8 467.1 466.3 472.9 466.7 467.5 467.2 473.6 467.6 467.7 468.1 473.7 468.5 466.6 469 472.4 469.4 466.3 469.9 472.7 470.3 467 470.8 471.8 471.2 467.3 471.7 471.3 472.1 467.2 472.6 472.2 473 467.1 473.5 472.4 473.9 467.2 474.4 471.6 474.8 466.9 475.3 471.7 475.7 466.8 476.2 473.6 476.6 467 477.1 473.9 477.5 467 478 472.6 478.4 466.9 478.9 471.9 479.3 467.3 479.8 472.5 480.2 465 480.7 472.6 481.1 464.7 481.6 471.9 482 465.4 482.5 472.5 482.9 464.2 483.4 473.1 483.8 465.9 484.3 471.9 484.7 467.2 485.2 471.7 485.6 467 486.1 471.5 486.5 466.5 487 471.3 487.4 466.6 487.9 471.3 488.3 465.6 488.8 471.5 489.2 466.6 489.7 472.1 490.1 466.9 490.6 471.9 491 466.5 491.5 471.9 491.9 466.5 492.3 472.4 492.8 466.9 493.2 472 493.7 466.8 494.1 471.2 494.6 466.8 495 470.9 495.5 466.1 495.9 471.7 496.4 465.9 496.8 472.2 497.3 466.2 497.7 471.9 498.2 466.8 498.6 471.8 499.1 466.9 499.5 471.8 500 466.9 500.4 471.9 500.9 467.4 501.3 472.3 501.8 468 502.2 473.3 502.7 467.7 503.1 472.8 503.6 467.9 504 472.1 504.5 468.4 504.9 472.3 505.4 467.5 505.8 472.4 506.3 467.1 506.7 472.6 507.2 467.4 507.6 472.5 508.1 467.7 508.5 472.6 509 467.8 509.4 472.9 509.9 467.4 510.3 472.2 510.8 467.1 511.2 472.2 511.7 467.3 512.1 472.7 512.6 467.4 513 472.4 513.5 467.3 513.9 472 514.4 467.3 514.8 471.7 515.3 467 515.7 471.6 516.2 466.1 516.6 471.8 517.1 465.5 517.5 472.1 518 466.5 518.4 472 518.9 467.6 519.3 473.1 519.7 468.1 520.2 475.3 520.6 468 521.1 473.7 521.5 468.2 522 472 522.4 468 522.9 471.9 523.3 468.4 523.8 471.9 524.2 468.5 524.7 472.5 525.1 468.4 525.6 472.9 526 468.5 526.5 473.3 526.9 467.6 527.4 473.8 527.8 466.9 528.3 473.8 528.7 467.6 529.2 472.5 529.6 468.3 530.1 472.1 530.5 468 531 473.7 531.4 467.2 531.9 473.5 532.3 467.5 532.8 471.7 533.2 467.9 533.7 471.7 534.1 467.4 534.6 472.5 535 467.4 535.5 473 535.9 468.1 536.4 472.1 536.8 468.2 537.3 472.3 537.7 467.4 538.2 472.9 538.6 466.5 539.1 473.1 539.5 466.7 540 471.9 540.4 466.6 540.9 471.2 541.3 465.8 541.8 471.2 542.2 465.7 542.7 470.9 543.1 466.3 543.6 472.1 544 466.6 544.5 472.1 544.9 466.1 545.4 471 545.8 465.4 546.3 471 546.7 466.1 547.1 471.1 547.6 466.8 548 472.2 548.5 467 548.9 473 549.4 467.5 549.8 472.6 550.3 467.5 550.7 472.1 551.2 467.6 551.6 471.6 552.1 467.9 552.5 471.3 553 467.7 553.4 471.4 553.9 466.4 554.3 471.1 554.8 466.3 555.2 472.3 555.7 466.8 556.1 472.7 556.6 466.9 557 471.4 557.5 466.7 557.9 470.7 558.4 466.8 558.8 470.6 559.3 466.2 559.7 470.6 560.2 465.8 560.6 471.3 561.1 466.1 561.5 471.1 562 465.8 562.4 471.2 562.9 465.8 563.3 472.4 563.8 466.2 564.2 472.7 564.7 466.9 565.1 473 565.6 467.6 566 471.8 566.5 467.6 566.9 471.6 567.4 467.6 567.8 473 568.3 467.5 568.7 474.9 569.2 467.7 569.6 473 570.1 467.8 570.5 471.9 571 467.7 571.4 472.1 571.9 467.3 572.3 472.6 572.8 466.5 573.2 472.2 573.7 467.2 574.1 472.5 574.5 468.2 575 472.6 575.4 468.2 575.9 472.1 576.3 467.4 576.8 472.6 577.2 467.1 577.7 473.1 578.1 467.8 578.6 472.6 579 467.7 579.5 472.9 579.9 467.7 580.4 472.2 580.8 467.8 581.3 472.2 581.7 467.1 582.2 472.1 582.6 466.1 583.1 472.3 583.5 466.4 584 473.3 584.4 467.1 584.9 472 585.3 466.8 585.8 471.6 586.2 466.3 586.7 471 587.1 466.1 587.6 470.9 588 466.9 588.5 471.3 588.9 466.5 589.4 472 589.8 466.6 590.3 472.2 590.7 467.6 591.2 472 591.6 467.5 592.1 472 592.5 467.9 593 471.9 593.4 468 593.9 472 594.3 468.2 594.8 472.3 595.2 468.3 595.7 472 596.1 467.9 596.6 471.9 597 467.8 597.5 472.9 597.9 467.6 598.4 474.1 598.8 467.6 599.3 474.1 599.7 467.9 600.2 473.2 600.6 467.7 601.1 472.6 601.5 466.7 601.9 472.4 602.4 465.5 602.8 472 603.3 466 603.7 471.7 604.2 466.1 604.6 471.2 605.1 466.7 605.5 471 606 467.2 606.4 471.3 606.9 466.8 607.3 471.5 607.8 465.1 608.2 471.8 608.7 465.1 609.1 472.3 609.6 465.9 610 473.1 610.5 465.9 610.9 473.4 611.4 466.7 611.8 473.6 612.3 466.8 612.7 472.7 613.2 465.4 613.6 471 614.1 464.8 614.5 470.3 615 465.8 615.4 470.3 615.9 466.5 616.3 470.6 616.8 466.7 617.2 471.4 617.7 464.7 618.1 471.2 618.6 464.6 619 471.7 619.5 466.9 619.9 472.3 620.4 466.7 620.8 472.2 621.3 466.2 621.7 473.1 622.2 467.5 622.6 473.4 623.1 469 623.5 473.2 624 469.7 624.4 473.3 624.9 469.5 625.3 473.4 625.8 468.8 626.2 473.1 626.7 468.5 627.1 472.8 627.6 468.6 628 472.8 628.4 468.5 628.9 472.6 629.3 468 629.8 473.5 630.2 468.1 630.7 473.6 631.1 468.1 631.6 473.9 632 468.2 632.5 474.1 632.9 468.1 633.4 473.5 633.8 468.2 634.3 474.4 634.7 468.3 635.2 473.2 635.6 468.3 636.1 472.6 636.5 467.9 637 472.6 637.4 467.8 637.9 472.3 638.3 468.2 638.8 472.5 639.2 468 639.7 473.1 640.1 468.2 640.6 472.8 641 468.4 641.5 472.8 641.9 468.1 642.4 472.4 642.8 466.3 643.3 471.4 643.7 465.9 644.2 471.3 644.6 467 645.1 471.7 645.5 466.7 646 472.1 646.4 466.5 646.9 471.4 647.3 466.9 647.8 472.8 648.2 467.1 648.7 473.2 649.1 467.1 649.6 471.8 650 466.8 650.5 471.7 650.9 466.5 651.4 471.6 651.8 467.2 652.3 471.4 652.7 467.9 653.2 471.4 653.6 467.6 654.1 471.2 654.5 467.5 655 471.7 655.4 466.8 655.8 472.8 656.3 466.4 656.7 472.1 657.2 467.1 657.6 471.9 658.1 467.3 658.5 472.1 659 467.7 659.4 472.8 659.9 468.2 660.3 473.4 660.8 468 661.2 472.8 661.7 468.3 662.1 472.5 662.6 468.4 663 472.4 663.5 468.2 663.9 472.6 664.4 467.5 664.8 472.7 665.3 468.2 665.7 473 666.2 467.6 666.6 473.8 667.1 467.7 667.5 473.3 668 468.7 668.4 472.9 668.9 469 669.3 472.6 669.8 468.9 670.2 472.4 670.7 468.6 671.1 472.7 671.6 468.5 672 473 672.5 467.9 672.9 472.4 673.4 466.7 673.8 472.7 674.3 467.2 674.7 472.9 675.2 467.4 675.6 472 676.1 466.9 676.5 471.7 677 466.1 677.4 471 677.9 466.5 678.3 470.9 678.8 467 679.2 471.1 679.7 467.1 680.1 472.1 680.6 467 681 472.1 681.5 466.6 681.9 470.9 682.4 466.3 682.8 471.2 683.2 466.3 683.7 471.9 684.1 467.5 684.6 472.4 685 468.2 685.5 472.9 685.9 467.9 686.4 472.3 686.8 467.8 687.3 472.1 687.7 468.2 688.2 472 688.6 468.4 689.1 471.5 689.5 468.4 690 471.8 690.4 467.1 690.9 471.8 691.3 466.1 691.8 471.8 692.2 466.9 692.7 472.3 693.1 467.3 693.6 471.8 694 466.6 694.5 472.4 694.9 465.8 695.4 472.9 695.8 464.9 696.3 472.3 696.7 465.5 697.2 472.4 697.6 466.5 698.1 472.2 698.5 467 699 472.1 699.4 466.7 699.9 472.3 700.3 467.5 700.8 472.9 701.2 466.5 701.7 472.4 702.1 466 702.6 472 703 466.1 703.5 472.2 703.9 467.1 704.4 471.9 704.8 466.6 705.3 471.4 705.7 465.7 706.2 471.6 706.6 466 707.1 471.6 707.5 467 708 472.3 708.4 466.9 708.9 472.5 709.3 466.8 709.8 471.9 710.2 466.8 710.6 472.7 711.1 466.9 711.5 472.6 712 467.5 712.4 472 712.9 467.1 713.3 471.4 713.8 466.9 714.2 471 714.7 466.2 715.1 471.7 715.6 465.5 716 472 716.5 466.4 716.9 472.6 717.4 467.5 717.8 474.6 718.3 468 718.7 473.9 719.2 468.4 719.6 473.1 720.1 468 720.5 472.9 721 467.6 721.4 473.7 721.9 466.8 722.3 474.2 722.8 467 723.2 472.6 723.7 467.9 724.1 471.6 724.6 468.2 725 471.8 725.5 468 725.9 472 726.4 467.8 726.8 472.1 727.3 467.5 727.7 472.2 728.2 467.2 728.6 471.8 729.1 467.5 729.5 472.1 730 467.8 730.4 471.9 730.9 465.6 731.3 471.6 731.8 465 732.2 471.8 732.7 467.1 733.1 472.3 733.6 467.3 734 472 734.5 466.5 734.9 471.5 735.4 467 735.8 471.5 736.3 467.2 736.7 471.7 737.2 466.4 737.6 472.1 738 465.8 738.5 471.3 738.9 466.8 739.4 471.1 739.8 467.2 740.3 471.7 740.7 466.3 741.2 471.7 741.6 465.8 742.1 472.1 742.5 466.4 743 472.3 743.4 467.1 743.9 471.5 744.3 466.7 744.8 471.4 745.2 466.7 745.7 471.3 746.1 466.7 746.6 470.9 747 466 747.5 471.7 747.9 466.7 748.4 471.7 748.8 467.7 749.3 472 749.7 467.6 750.2 472.6 750.6 467.9 751.1 472.3 751.5 468.5 752 473.1 752.4 468.6 752.9 473.8 753.3 468.5 753.8 473.5 754.2 468.8 754.7 473.9 755.1 469 755.6 474.5 756 468.7 756.5 473.9 756.9 468.2 757.4 473 757.8 468.6 758.3 472.9 758.7 468.7 759.2 472.7 759.6 468.8 760.1 473.1 760.5 468.9 761 473.9 761.4 468.9 761.9 473.7 762.3 468.8 762.8 472.3 763.2 468.1 763.7 472 764.1 467.8 764.6 471.9 765 468.5" stroke="#2d2a86" stroke-width="1.6" fill="none" stroke-linejoin="bevel"/>
<path d="M136.6 130.3 136.6 130.4 136.6 130.5 136.6 130.7 136.6 130.9 136.7 131.3 136.7 131.7 136.7 132.2 136.8 132.7 136.8 133.3 136.9 134 136.9 134.7 137 135.5 137 136.4 137.1 137.3 137.2 138.2 137.2 139.2 137.3 140.2 137.4 141.3 137.5 142.4 137.6 143.5 137.7 144.6 137.8 145.7 137.9 146.8 138.1 148.1 138.2 149.3 138.3 150.6 138.4 151.9 138.6 153.1 138.7 154.3 138.9 155.5 139 156.7 139.2 157.9 139.3 159.1 139.5 160.4 139.7 161.6 139.9 162.8 140.1 164 140.2 165.1 140.4 166.3 140.6 167.5 140.8 168.7 141.1 169.8 141.3 170.9 141.5 172 141.7 173 141.9 174.1 142.2 175.3 142.4 176.5 142.7 177.6 142.9 178.6 143.2 179.6 143.4 180.6 143.7 181.6 144 182.6 144.2 183.5 144.5 184.4 144.8 185.3 145.1 186.1 145.4 187 145.7 187.9 146 188.8 146.3 189.6 146.6 190.4 146.9 191.2 147.3 192 147.6 192.8 147.9 193.6 148.3 194.5 148.6 195.3 149 196.2 149.3 197.1 149.7 197.7 150 198.8 150.4 199.7 150.8 200.5 151.2 201.3 151.6 202.1 152 203 152.4 203.8 152.8 204.8 153.2 205.7 153.6 206.4 154 207.4 154.4 208.4 154.8 209.3 155.3 210.3 155.7 211.5 156.1 212.6 156.6 213.8 157 215 157.5 216.5 158 218 158.4 219.3 158.9 220.6 159.4 221.9 159.9 223 160.3 223.9 160.8 224.8 161.3 225.4 161.8 226 162.3 226.5 162.9 226.8 163.4 227.1 163.9 227.4 164.4 227.9 165 228.4 165.5 229.2 166 230.2 166.6 231.7 167.1 233.2 167.7 235 168.3 236.9 168.8 238.6 169.4 240.4 170 242.3 170.6 244.1 171.1 245.8 171.7 247.5 172.3 248.6 172.9 249.7 173.5 250.7 174.2 251.7 174.8 252.7 175.4 253.9 176 255.1 176.7 256.2 177.3 257.3 177.9 258.2 178.6 259.2 179.3 260.3 179.9 261.2 180.6 262.3 181.2 263 181.9 263.8 182.6 264.8 183.3 266 184 267.5 184.7 269.2 185.4 270.7 186.1 272.4 186.8 274.2 187.5 275.9 188.2 277.4 188.9 279.2 189.7 280.7 190.4 281.9 191.1 283.2 191.9 284.4 192.6 285.4 193.4 286.2 194.1 287 194.9 287.6 195.7 288 196.5 288.6 197.2 289 198 289.5 198.8 290.2 199.6 291.2 200.4 292.1 201.2 293.4 202 294.8 202.8 296.5 203.7 298.3 204.5 300 205.3 301.9 206.1 303.9 207 305.5 207.8 306.9 208.7 307.9 209.5 308.9 210.4 309.6 211.3 310.1 212.1 310.8 213 311.7 213.9 312.8 214.8 314 215.7 315.5 216.6 316.6 217.5 317.4 218.4 318.4 219.3 319.5 220.2 320.3 221.1 321.6 222 323.4 223 325.5 223.9 327.8 224.9 330.2 225.8 332.3 226.7 334 227.7 335.2 228.7 335.8 229.6 335.8 230.6 335.6 231.6 335.6 232.6 335.9 233.5 336.5 234.5 337.4 235.5 338.6 236.5 339.9 237.5 341.3 238.6 342.3 239.6 343.3 240.6 344.3 241.6 345.4 242.7 346 243.7 346.5 244.7 346.9 245.8 347 246.8 347 247.9 347 249 347.3 250 348.1 251.1 349 252.2 350.3 253.3 352.3 254.3 354.3 255.4 356.3 256.5 358.5 257.6 360.3 258.7 361.8 259.9 362.6 261 363.3 262.1 363.9 263.2 364.6 264.4 365.6 265.5 367.3 266.6 369.3 267.8 371.2 268.9 372.6 270.1 373.3 271.3 373.6 272.4 373.5 273.6 373.5 274.8 373.8 276 374.3 277.2 375.3 278.4 376.4 279.6 377.4 280.8 378.4 282 379.2 283.2 380.2 284.4 381.4 285.6 382.8 286.9 384.4 288.1 385.7 289.3 386.9 290.6 387.8 291.8 388.7 293.1 389.4 294.3 390.3 295.6 391.1 296.9 392.1 298.1 392.9 299.4 393.7 300.7 394.1 302 394.6 303.3 395.1 304.6 395.5 305.9 395.9 307.2 396.1 308.5 396.2 309.8 396.2 311.2 396.6 312.5 397.2 313.8 398.4 315.2 399.6 316.5 400.7 317.9 401.5 319.2 402 320.6 402.3 321.9 402.3 323.3 402.3 324.7 402.3 326.1 402.8 327.5 403.9 328.8 405.4 330.2 406.9 331.6 407.7 333 408.3 334.5 408.2 335.9 408.1 337.3 408.4 338.7 409.1 340.2 410.1 341.6 411.4 343 412.7 344.5 413.5 345.9 414 347.4 414.3 348.8 414.8 350.3 415.7 351.8 416.8 353.3 417.6 354.7 417.9 356.2 417.9 357.7 417.7 359.2 418 360.7 418.4 362.2 418.8 363.7 419.1 365.2 419.6 366.8 420.3 368.3 421.6 369.8 422.6 371.4 423.3 372.9 423.5 374.5 423.4 376 423.8 377.6 424.4 379.1 425 380.7 425.4 382.3 425.4 383.8 425.5 385.4 425.9 387 426.2 388.6 426.6 390.2 426.8 391.8 427.1 393.4 427.8 395 428.7 396.6 429.8 398.3 430.5 399.9 430.9 401.5 431.2 403.2 431.5 404.8 431.8 406.5 431.7 408.1 431.4 409.8 431.2 411.4 431.5 413.1 432 414.8 432.4 416.4 432.6 418.1 432.5 419.8 432.9 421.5 433.2 423.2 433.8 424.9 434.3 426.6 434.3 428.3 434.4 430.1 434.4 431.8 435.1 433.5 436.1 435.2 437.1 437 437.7 438.7 437.8 440.5 437.6 442.2 437.2 444 436.6 445.8 436.4 447.5 436.7 449.3 437.6 451.1 438.3 452.9 438.5 454.6 438.1 456.4 438.1 458.2 438.5 460 439 461.9 439.4 463.7 439.3 465.5 439.5 467.3 440.1 469.1 441 471 441.5 472.8 441.2 474.7 440.7 476.5 440.6 478.4 441.3 480.2 442.1 482.1 442.4 484 442.1 485.8 441.8 487.7 441.9 489.6 442.5 491.5 443.4 493.4 444.3 495.3 444.9 497.2 445 499.1 445 501 444.8 502.9 444.8 504.9 444.9 506.8 445.2 508.7 445.7 510.7 445.8 512.6 445.5 514.6 445.2 516.5 445.4 518.5 445.9 520.5 446.5 522.4 446.9 524.4 447.5 526.4 447.8 528.4 447.9 530.4 447.5 532.4 447.1 534.4 446.9 536.4 447.1 538.4 447.1 540.4 446.9 542.4 446.8 544.4 447 546.5 447.5 548.5 447.6 550.5 447.4 552.6 447 554.6 446.4 556.7 445.6 558.8 445.4 560.8 446.1 562.9 447 565 447.4 567.1 447.6 569.1 448.1 571.2 448.7 573.3 448.9 575.4 448.9 577.5 449.1 579.7 449.5 581.8 449.7 583.9 449.4 586 448.9 588.2 448.7 590.3 448.8 592.4 448.7 594.6 448.5 596.7 448.6 598.9 449 601.1 449.4 603.2 449.6 605.4 449.8 607.6 449.8 609.8 449.6 612 449.7 614.1 450.4 616.3 451.3 618.5 451.4 620.8 451.1 623 450.6 625.2 450.2 627.4 450 629.6 450.1 631.9 450.4 634.1 450.9 636.4 451.5 638.6 451.8 640.9 451.9 643.1 451.8 645.4 451.6 647.6 451.6 649.9 451.9 652.2 452.3 654.5 452.2 656.8 451.8 659.1 450.9 661.4 450.5 663.7 450.8 666 451.5 668.3 451.7 670.6 451.4 672.9 451.2 675.3 451.1 677.6 451.1 679.9 451 682.3 451.2 684.6 451.5 687 451.5 689.3 451.3 691.7 450.7 694.1 450.6 696.5 451.1 698.8 452.1 701.2 452.4 703.6 452 706 451.5 708.4 451.4 710.8 451.3 713.2 451.5 715.6 451.7 718.1 451.8 720.5 451.7 722.9 451.6 725.3 451.7 727.8 452 730.2 452.1 732.7 451.9 735.1 452.1 737.6 452.7 740.1 452.6 742.5 452 745 452 747.5 452.8 750 453.7 752.5 453.8 755 453.4 757.5 453.1 760 452.9 762.5 452.7 765 452.7" stroke="#4a52b4" stroke-width="4.0" fill="none" stroke-linejoin="round"/>
<path d="M136.6 137.1 137 124.8 137.5 152.8 137.9 137.4 138.4 167.4 138.8 139.1 139.3 172.9 139.7 140.4 140.2 173.9 140.6 151.2 141.1 177.5 141.5 158 142 182.4 142.4 162.1 142.9 188.9 143.3 167.2 143.8 192.2 144.2 174 144.7 193 145.1 174.6 145.6 195.2 146 178.9 146.5 201.7 146.9 181.6 147.4 204.2 147.8 183 148.3 203.3 148.7 187.5 149.2 211.5 149.6 189.3 150.1 212.9 150.5 189.7 151 209.4 151.4 192.7 151.9 211.9 152.3 194 152.8 213.1 153.2 196 153.7 214.1 154.1 198.6 154.6 216.6 155 200.5 155.5 219.8 155.9 201.4 156.4 226.3 156.8 205.3 157.3 226.5 157.7 203.3 158.2 227 158.6 198.7 159.1 231 159.5 205.4 160 234.1 160.4 210.8 160.9 235.1 161.3 211.9 161.8 239.6 162.2 210.4 162.7 239.7 163.1 214.5 163.6 246.1 164 212.2 164.4 247.1 164.9 206.4 165.3 239.5 165.8 213.8 166.2 240.5 166.7 222.6 167.1 240.9 167.6 225.8 168 248.5 168.5 226.3 168.9 258.8 169.4 223.7 169.8 259.6 170.3 230.2 170.7 254.4 171.2 235 171.6 254.3 172.1 236.9 172.5 256 173 238.4 173.4 260.3 173.9 240.1 174.3 263.3 174.8 232.4 175.2 264.9 175.7 235.6 176.1 268.1 176.6 247.7 177 268.2 177.5 245.2 177.9 270.3 178.4 241.3 178.8 275 179.3 245.2 179.7 275.3 180.2 246.6 180.6 278.7 181.1 253 181.5 278 182 254.4 182.4 277.7 182.9 250.8 183.3 277.8 183.8 249.1 184.2 277.6 184.7 258.2 185.1 284 185.6 264.6 186 286.6 186.5 266.1 186.9 283.4 187.4 267.3 187.8 288.1 188.3 267.6 188.7 291.3 189.2 264.8 189.6 290 190.1 266.1 190.5 291.4 191 270.7 191.4 297.7 191.8 273.2 192.3 300.2 192.7 271.7 193.2 300.1 193.6 271.2 194.1 298.2 194.5 275.1 195 297.6 195.4 275.4 195.9 298.6 196.3 278.1 196.8 297 197.2 277.8 197.7 298.2 198.1 268.1 198.6 301.5 199 267.3 199.5 301.5 199.9 276.9 200.4 304.2 200.8 279.5 201.3 302.7 201.7 277.9 202.2 303.7 202.6 283.2 203.1 306.1 203.5 286.7 204 307.1 204.4 289.1 204.9 311.1 205.3 289.1 205.8 313.6 206.2 293.8 206.7 313.3 207.1 296.9 207.6 316.8 208 296.3 208.5 318.3 208.9 295.5 209.4 316.9 209.8 296.9 210.3 324.9 210.7 299.3 211.2 326.3 211.6 298.2 212.1 319.1 212.5 300.2 213 320 213.4 302.7 213.9 320.4 214.3 304.9 214.8 324 215.2 307 215.7 326.5 216.1 308.9 216.6 326.4 217 309.3 217.5 326.6 217.9 308.4 218.4 329.7 218.8 306.9 219.2 333.6 219.7 310.6 220.1 331.2 220.6 310.6 221 328.3 221.5 312.5 221.9 330.8 222.4 315.4 222.8 333.9 223.3 315.9 223.7 337 224.2 318.9 224.6 338.8 225.1 318.7 225.5 341.5 226 321.3 226.4 345.3 226.9 325.3 227.3 347.9 227.8 324.7 228.2 345.2 228.7 322.1 229.1 347.8 229.6 326 230 350.5 230.5 328.5 230.9 346.3 231.4 328.4 231.8 348.2 232.3 324.7 232.7 350.2 233.2 324.3 233.6 350.4 234.1 328.7 234.5 349.1 235 330.4 235.4 353.7 235.9 329.8 236.3 358.1 236.8 327.8 237.2 358.9 237.7 327.9 238.1 355.6 238.6 330.2 239 351.3 239.5 332.3 239.9 351.6 240.4 332.3 240.8 353.6 241.3 330.5 241.7 358.3 242.2 333.9 242.6 356.9 243.1 339 243.5 356.1 244 331.4 244.4 355.9 244.9 331.4 245.3 357.5 245.8 337.6 246.2 356.5 246.6 338 247.1 356.3 247.5 338.6 248 355.1 248.4 337.8 248.9 354.5 249.3 339 249.8 357 250.2 341.4 250.7 361.7 251.1 341.9 251.6 362.4 252 342.2 252.5 363 252.9 343.4 253.4 367.4 253.8 344.7 254.3 365.8 254.7 345.5 255.2 364.3 255.6 346.5 256.1 367 256.5 348.8 257 372.3 257.4 352.7 257.9 376.8 258.3 355.3 258.8 372 259.2 353 259.7 370.3 260.1 352.5 260.6 371.1 261 352.3 261.5 371.4 261.9 353.9 262.4 372.3 262.8 355.9 263.3 373.5 263.7 354.4 264.2 373.2 264.6 357.7 265.1 374.2 265.5 358.4 266 378.8 266.4 361.9 266.9 378.9 267.3 361.9 267.8 379.4 268.2 358.1 268.7 381.7 269.1 362.1 269.6 381.6 270 365.3 270.5 380.3 270.9 365.1 271.4 378.3 271.8 365.2 272.3 378 272.7 365.2 273.2 378.8 273.6 367.2 274 380.7 274.5 368.9 274.9 380.3 275.4 368.2 275.8 382.4 276.3 367.5 276.7 385.5 277.2 368.2 277.6 385 278.1 370.1 278.5 383.2 279 370.2 279.4 381.6 279.9 371.9 280.3 383.5 280.8 374 281.2 387.1 281.7 373.2 282.1 386.8 282.6 374 283 384.6 283.5 375.7 283.9 384.9 284.4 376.8 284.8 386.6 285.3 377.5 285.7 387.9 286.2 378.2 286.6 388.6 287.1 379.6 287.5 389.6 288 377.7 288.4 390.7 288.9 375.7 289.3 392.1 289.8 380.8 290.2 396.2 290.7 383.6 291.1 397.5 291.6 381.4 292 396.2 292.5 381.6 292.9 397.3 293.4 384.7 293.8 399.4 294.3 385.4 294.7 396.9 295.2 384.6 295.6 396.6 296.1 385.1 296.5 398.1 297 387.7 297.4 399 297.9 385.1 298.3 399.1 298.8 383.9 299.2 398.8 299.7 386.6 300.1 398.5 300.5 387.6 301 398.5 301.4 387.7 301.9 400.1 302.3 386.2 302.8 400.1 303.2 386.5 303.7 400 304.1 387.8 304.6 400.1 305 390.9 305.5 400.9 305.9 391.9 306.4 401.4 306.8 392.5 307.3 403.1 307.7 392.5 308.2 402.7 308.6 392.2 309.1 402.7 309.5 391.9 310 402.2 310.4 391.6 310.9 401.5 311.3 391 311.8 401 312.2 391.3 312.7 401.4 313.1 393.3 313.6 403.4 314 393.6 314.5 404.1 314.9 393.6 315.4 404.2 315.8 394.8 316.3 405 316.7 396.2 317.2 405.9 317.6 395.8 318.1 408.1 318.5 397.1 319 408.9 319.4 397.7 319.9 409.3 320.3 397.6 320.8 408.1 321.2 397.6 321.7 407 322.1 397 322.6 407.5 323 397.1 323.5 406.4 323.9 396.2 324.4 406.1 324.8 397.5 325.3 406.7 325.7 397.7 326.2 407.2 326.6 394.9 327.1 410.4 327.5 395.3 327.9 413.5 328.4 398.1 328.8 412.6 329.3 401.1 329.7 410.9 330.2 402.1 330.6 412.1 331.1 401.5 331.5 413.4 332 401.6 332.4 415.4 332.9 401.1 333.3 414.8 333.8 402 334.2 411.9 334.7 403.4 335.1 411.9 335.6 402.5 336 412 336.5 402.7 336.9 412.8 337.4 403 337.8 414.5 338.3 403.4 338.7 414.7 339.2 403.3 339.6 413.9 340.1 403.8 340.5 414.5 341 403.5 341.4 416.1 341.9 406.4 342.3 416.9 342.8 408.5 343.2 417.4 343.7 406.5 344.1 417.3 344.6 403.7 345 417.4 345.5 405.8 345.9 417.8 346.4 409.9 346.8 418.2 347.3 408.7 347.7 422.5 348.2 409 348.6 423.5 349.1 409.4 349.5 422.1 350 409.9 350.4 421 350.9 411.8 351.3 421.2 351.8 412.7 352.2 422.9 352.7 413.1 353.1 423.9 353.6 413.5 354 426.5 354.5 411.9 354.9 425.9 355.3 412.7 355.8 424.2 356.2 412.1 356.7 423.7 357.1 411.8 357.6 423.1 358 412.6 358.5 423.5 358.9 413 359.4 423.1 359.8 414 360.3 421.5 360.7 414.5 361.2 424.4 361.6 414.6 362.1 426.1 362.5 411.7 363 425.4 363.4 411.2 363.9 424.7 364.3 411.9 364.8 425.6 365.2 413.6 365.7 425.7 366.1 415.6 366.6 423.7 367 416.2 367.5 424.4 367.9 416.1 368.4 426.1 368.8 416.6 369.3 427.5 369.7 416.6 370.2 429.4 370.6 416.2 371.1 432.6 371.5 417 372 429.8 372.4 418.2 372.9 428.3 373.3 418.1 373.8 428.2 374.2 416.5 374.7 428.6 375.1 416.4 375.6 428.5 376 416.8 376.5 430.1 376.9 419.1 377.4 432.2 377.8 419.9 378.3 430.5 378.7 419.8 379.2 428.9 379.6 420.3 380.1 431.3 380.5 419.9 381 432 381.4 418.2 381.9 429.8 382.3 419.5 382.7 430.1 383.2 419.3 383.6 429.7 384.1 419.9 384.5 429.8 385 422.1 385.4 430.1 385.9 422 386.3 432.8 386.8 420.7 387.2 432.7 387.7 421.4 388.1 430.7 388.6 421.8 389 431.6 389.5 421.3 389.9 431.9 390.4 422.1 390.8 432.1 391.3 423.4 391.7 431.2 392.2 424 392.6 434.1 393.1 414.5 393.5 435 394 414.7 394.4 433.6 394.9 424.6 395.3 432.9 395.8 423.6 396.2 433.4 396.7 424.4 397.1 434.5 397.6 426.1 398 434.4 398.5 426.6 398.9 434.5 399.4 427 399.8 434.5 400.3 426.9 400.7 434.3 401.2 427.5 401.6 434.8 402.1 427.2 402.5 434.8 403 425.2 403.4 434.8 403.9 423 404.3 435.1 404.8 426 405.2 436.8 405.7 427.5 406.1 438.5 406.6 426.6 407 440.1 407.5 425.2 407.9 436.7 408.4 426.4 408.8 438 409.3 428.2 409.7 437.8 410.1 428.1 410.6 436.2 411 428.1 411.5 438.4 411.9 427.9 412.4 437 412.8 427.4 413.3 436.9 413.7 428.2 414.2 436.1 414.6 429.1 415.1 436.9 415.5 428.3 416 439.3 416.4 428.1 416.9 439.6 417.3 428.9 417.8 437.4 418.2 428.6 418.7 436.1 419.1 426.6 419.6 435.8 420 426.8 420.5 435.9 420.9 428.9 421.4 437.5 421.8 429.2 422.3 438.6 422.7 429 423.2 437.5 423.6 429.7 424.1 437.4 424.5 428.3 425 437.9 425.4 425.6 425.9 439.1 426.3 428.2 426.8 442 427.2 430.6 427.7 441 428.1 429.6 428.6 439.3 429 429.7 429.5 438.8 429.9 430 430.4 438.8 430.8 430.3 431.3 438.7 431.7 431.2 432.2 438.3 432.6 431.1 433.1 439.4 433.5 432.2 434 440 434.4 432.9 434.9 441.7 435.3 432.1 435.8 443.8 436.2 431.2 436.7 442.5 437.1 432.8 437.5 440.7 438 434.5 438.4 442.2 438.9 434.3 439.3 442.8 439.8 433.4 440.2 441.8 440.7 431.9 441.1 441.2 441.6 432 442 440.5 442.5 433.2 442.9 440.1 443.4 432.5 443.8 439.8 444.3 431.1 444.7 439.5 445.2 431.5 445.6 439.2 446.1 432.5 446.5 439.5 447 433.5 447.4 440 447.9 434.1 448.3 440.8 448.8 432.1 449.2 442.8 449.7 432.4 450.1 442.8 450.6 435.1 451 442.8 451.5 435.4 451.9 443 452.4 435.4 452.8 443.9 453.3 434.9 453.7 443.7 454.2 433.8 454.6 441.8 455.1 433.2 455.5 441.1 456 433.3 456.4 442 456.9 433.5 457.3 444 457.8 434.1 458.2 443.7 458.7 434.9 459.1 443 459.6 435.2 460 442.1 460.5 435.4 460.9 442.2 461.4 435.4 461.8 442.2 462.3 436.1 462.7 443 463.2 435.5 463.6 443 464.1 433.2 464.5 442.1 464.9 433.1 465.4 442.6 465.8 434.1 466.3 442.9 466.7 435.2 467.2 442.8 467.6 435.9 468.1 443.6 468.5 436.3 469 445.9 469.4 436.5 469.9 446.8 470.3 437.8 470.8 445.6 471.2 438.4 471.7 445.2 472.1 438.2 472.6 444.6 473 438 473.5 444.2 473.9 437.7 474.4 444.6 474.8 437.7 475.3 445.4 475.7 437.2 476.2 447.8 476.6 435.5 477.1 447.9 477.5 435.6 478 446.1 478.4 437.1 478.9 447.4 479.3 437.5 479.8 446.5 480.2 438.3 480.7 446.8 481.1 437.9 481.6 446.6 482 438 482.5 446 482.9 437.9 483.4 447.1 483.8 437.5 484.3 447.1 484.7 438.2 485.2 446.1 485.6 438.8 486.1 445.5 486.5 437.5 487 445.7 487.4 437.3 487.9 445.7 488.3 438.3 488.8 445.7 489.2 438.8 489.7 446 490.1 439.2 490.6 445.5 491 437.1 491.5 446.4 491.9 438.2 492.3 447.2 492.8 441.6 493.2 447.4 493.7 441.9 494.1 447.6 494.6 441.7 495 448.4 495.5 441.8 495.9 448.4 496.4 442 496.8 447.7 497.3 441.7 497.7 447.7 498.2 441.9 498.6 447.7 499.1 441.7 499.5 448.1 500 441.5 500.4 448.8 500.9 441.8 501.3 449 501.8 441.1 502.2 449.3 502.7 440.8 503.1 449.7 503.6 440.8 504 448.1 504.5 441.4 504.9 447.8 505.4 441.7 505.8 448 506.3 442.2 506.7 448.6 507.2 442.3 507.6 449.2 508.1 442 508.5 451.8 509 441.8 509.4 452.2 509.9 441.6 510.3 450 510.8 440.1 511.2 449.8 511.7 440.5 512.1 450.6 512.6 442.4 513 450.3 513.5 442 513.9 449.6 514.4 441.5 514.8 449 515.3 441.1 515.7 448.9 516.2 438.7 516.6 448.8 517.1 438.1 517.5 448.9 518 440.7 518.4 449.3 518.9 442.6 519.3 449.2 519.7 443.5 520.2 450.7 520.6 443.9 521.1 450.8 521.5 443.9 522 451.6 522.4 444.1 522.9 451.4 523.3 444.1 523.8 451.3 524.2 443.9 524.7 451.7 525.1 443.5 525.6 451.8 526 443.9 526.5 451.2 526.9 443.7 527.4 450.8 527.8 444 528.3 450.5 528.7 444.6 529.2 450.7 529.6 445 530.1 450.9 530.5 444.4 531 450.2 531.4 444 531.9 450.2 532.3 444.4 532.8 449.9 533.2 443.5 533.7 449.5 534.1 442.2 534.6 449.6 535 442.2 535.5 449.9 535.9 442.2 536.4 450 536.8 443.1 537.3 450.3 537.7 444.1 538.2 451.3 538.6 444.3 539.1 451.6 539.5 443.7 540 450.4 540.4 442.4 540.9 450.3 541.3 443.2 541.8 451.9 542.2 443.1 542.7 451.1 543.1 442.5 543.6 450.8 544 442.7 544.5 450.9 544.9 442.5 545.4 451.3 545.8 443 546.3 451 546.7 444.5 547.1 450.5 547.6 444.7 548 450.5 548.5 444.3 548.9 450.8 549.4 444.3 549.8 452.2 550.3 444.3 550.7 452.1 551.2 443.7 551.6 450.5 552.1 443.9 552.5 450 553 444.3 553.4 449.5 553.9 444 554.3 450.8 554.8 443.2 555.2 452.1 555.7 442.6 556.1 450 556.6 442.4 557 449.1 557.5 442.5 557.9 448.2 558.4 442 558.8 448 559.3 442.2 559.7 448.5 560.2 442.3 560.6 449.5 561.1 441.8 561.5 450.4 562 442.8 562.4 451.3 562.9 443.4 563.3 451.3 563.8 442.3 564.2 450.6 564.7 442 565.1 451.1 565.6 443.6 566 450.7 566.5 444.8 566.9 450 567.4 444.6 567.8 451.9 568.3 444.4 568.7 452.5 569.2 444.1 569.6 451.2 570.1 445 570.5 451 571 445.5 571.4 451.5 571.9 445 572.3 451.8 572.8 444.5 573.2 451.7 573.7 445.4 574.1 452.6 574.5 446 575 454.4 575.4 446.4 575.9 455.3 576.3 445.9 576.8 453 577.2 444.7 577.7 452.5 578.1 444.3 578.6 453.7 579 446.1 579.5 453 579.9 446.8 580.4 452.5 580.8 445.6 581.3 453.1 581.7 445.4 582.2 453.4 582.6 446.7 583.1 453.3 583.5 447 584 452.6 584.4 446.9 584.9 452.2 585.3 446.5 585.8 452.3 586.2 446 586.7 451.7 587.1 445.7 587.6 452.3 588 445.2 588.5 452.6 588.9 444.5 589.4 452.3 589.8 445.5 590.3 452.5 590.7 445.9 591.2 452.3 591.6 445.7 592.1 451.5 592.5 444.7 593 451 593.4 443.5 593.9 451 594.3 441.9 594.8 451.2 595.2 444.2 595.7 451.3 596.1 445.7 596.6 453.1 597 445.6 597.5 455.6 597.9 445.8 598.4 453.8 598.8 446.2 599.3 453.3 599.7 446.2 600.2 453.3 600.6 445.2 601.1 452.5 601.5 444.8 601.9 453.3 602.4 445.9 602.8 454 603.3 446.7 603.7 453.7 604.2 446.8 604.6 453.3 605.1 446.9 605.5 453.4 606 446.5 606.4 454.6 606.9 447.2 607.3 455 607.8 446.3 608.2 453.1 608.7 444.7 609.1 452.4 609.6 446.1 610 452.2 610.5 446.8 610.9 453.1 611.4 446.5 611.8 453.7 612.3 446.9 612.7 453.4 613.2 443.7 613.6 453 614.1 443 614.5 453.4 615 444.9 615.4 454.6 615.9 446.5 616.3 454.7 616.8 446.4 617.2 455 617.7 447.7 618.1 455.2 618.6 449 619 455.3 619.5 448.2 619.9 455.2 620.4 447.7 620.8 454.2 621.3 448.4 621.7 453.7 622.2 447.9 622.6 454.2 623.1 447.5 623.5 454.2 624 447.3 624.4 453.3 624.9 447.7 625.3 452.6 625.8 447.6 626.2 452.6 626.7 447.3 627.1 452.6 627.6 447 628 453.4 628.4 446.5 628.9 454.6 629.3 446.2 629.8 454 630.2 446.6 630.7 453.6 631.1 447.6 631.6 453.7 632 447.8 632.5 453.2 632.9 446.9 633.4 453.3 633.8 446.2 634.3 453.9 634.7 448 635.2 455.1 635.6 448.9 636.1 455.5 636.5 448.5 637 455.3 637.4 448.2 637.9 454.8 638.3 447.6 638.8 454.8 639.2 446.6 639.7 455.1 640.1 448.2 640.6 455.3 641 449 641.5 454.7 641.9 448.5 642.4 454.3 642.8 448.5 643.3 454.6 643.7 448.9 644.2 454.6 644.6 448.8 645.1 454.8 645.5 448.5 646 454.6 646.4 447.9 646.9 454.2 647.3 448.4 647.8 454.5 648.2 448 648.7 454.5 649.1 448.4 649.6 454.3 650 447.6 650.5 454.8 650.9 447.2 651.4 456 651.8 448.3 652.3 457.3 652.7 449.1 653.2 456 653.6 449.7 654.1 455 654.5 450 655 455.6 655.4 449.7 655.8 457.6 656.3 448.9 656.7 455.9 657.2 448.5 657.6 454.1 658.1 448.3 658.5 455.5 659 446.9 659.4 455.3 659.9 444.6 660.3 454.1 660.8 445.3 661.2 454.3 661.7 446.7 662.1 453.6 662.6 445.7 663 453.6 663.5 446.6 663.9 453.7 664.4 447.2 664.8 454.2 665.3 448 665.7 454.3 666.2 447.2 666.6 454.7 667.1 447.8 667.5 454.6 668 448.9 668.4 455.2 668.9 448 669.3 455.3 669.8 446.9 670.2 454.5 670.7 447.1 671.1 453.7 671.6 447.9 672 453.5 672.5 448.6 672.9 454.2 673.4 448.9 673.8 454.3 674.3 449 674.7 453.8 675.2 448.8 675.6 454.5 676.1 448 676.5 455 677 447.8 677.4 454.5 677.9 447.2 678.3 454.3 678.8 446.3 679.2 454.4 679.7 447 680.1 453.8 680.6 448 681 454.3 681.5 448.1 681.9 454.9 682.4 445.3 682.8 454.2 683.2 445.8 683.7 454.6 684.1 448.6 684.6 454.5 685 448.8 685.5 453.8 685.9 449.1 686.4 454.2 686.8 448.2 687.3 454.5 687.7 448 688.2 454.1 688.6 448.6 689.1 454.4 689.5 448 690 455.9 690.4 447.7 690.9 455.8 691.3 446.6 691.8 455.1 692.2 447.3 692.7 455 693.1 447.9 693.6 453.6 694 447.5 694.5 453.6 694.9 445.9 695.4 453.5 695.8 444.4 696.3 453.6 696.7 447.3 697.2 454.5 697.6 449.4 698.1 454.7 698.5 449.3 699 454.8 699.4 449.4 699.9 455.2 700.3 449.6 700.8 456 701.2 447.9 701.7 455.6 702.1 448.1 702.6 455.1 703 449.7 703.5 455.2 703.9 448.5 704.4 454.8 704.8 448 705.3 454.9 705.7 448.7 706.2 456.1 706.6 448.9 707.1 456 707.5 448.2 708 454.7 708.4 447.5 708.9 455.4 709.3 448 709.8 454.4 710.2 448.3 710.6 454 711.1 447.8 711.5 454.6 712 448 712.4 454.9 712.9 448.6 713.3 455.2 713.8 447.3 714.2 456.2 714.7 446.9 715.1 455.3 715.6 448.8 716 455.6 716.5 448.6 716.9 456.5 717.4 448.9 717.8 454.9 718.3 449 718.7 455.1 719.2 448.1 719.6 456.7 720.1 447.8 720.5 457 721 447.4 721.4 455.7 721.9 447.1 722.3 454 722.8 448.3 723.2 453.9 723.7 448.5 724.1 454.1 724.6 448.5 725 454.5 725.5 448.8 725.9 454.7 726.4 449.4 726.8 454.4 727.3 449.5 727.7 454.2 728.2 449 728.6 454.8 729.1 448.7 729.5 455.3 730 449.4 730.4 454.7 730.9 449.3 731.3 454.3 731.8 448.3 732.2 454.3 732.7 448.7 733.1 454.4 733.6 449.1 734 454.8 734.5 449.3 734.9 454.8 735.4 449.5 735.8 454.4 736.3 449.5 736.7 454.5 737.2 449.8 737.6 454.7 738 450 738.5 455.5 738.9 450.2 739.4 456.4 739.8 449.7 740.3 455.5 740.7 449.4 741.2 455.3 741.6 449.3 742.1 454.8 742.5 448.8 743 454.4 743.4 449.1 743.9 454.7 744.3 449.7 744.8 455.1 745.2 449.4 745.7 454.7 746.1 449.5 746.6 456.2 747 450.3 747.5 457.6 747.9 450.2 748.4 456.8 748.8 450 749.3 456.2 749.7 449.5 750.2 456.5 750.6 450.5 751.1 457 751.5 450.5 752 457.4 752.4 451 752.9 458 753.3 451.3 753.8 458.7 754.2 450.9 754.7 456.6 755.1 450.1 755.6 456.9 756 450.6 756.5 457 756.9 450.5 757.4 456.1 757.8 449.3 758.3 456.7 758.7 448.9 759.2 456.3 759.6 448.9 760.1 455.8 760.5 449.6 761 456.5 761.4 449.6 761.9 456.2 762.3 449.5 762.8 455.2 763.2 449.6 763.7 455.6 764.1 449.8 764.6 455.6 765 450.7" stroke="#4a52b4" stroke-width="1.6" fill="none" stroke-linejoin="bevel"/>
<path d="M136.6 137.1 136.6 137.1 136.6 137.2 136.6 137.3 136.6 137.4 136.7 137.6 136.7 137.8 136.7 138 136.8 138.3 136.8 138.6 136.9 139 136.9 139.3 137 139.7 137 140.2 137.1 140.6 137.2 141.1 137.2 141.5 137.3 142 137.4 142.5 137.5 143 137.6 143.6 137.7 144.1 137.8 144.6 137.9 145.1 138.1 145.8 138.2 146.4 138.3 147 138.4 147.6 138.6 148.1 138.7 148.7 138.9 149.2 139 149.8 139.2 150.4 139.3 150.9 139.5 151.5 139.7 152 139.9 152.6 140.1 153.2 140.2 153.8 140.4 154.4 140.6 155 140.8 155.6 141.1 156.2 141.3 156.8 141.5 157.5 141.7 158.1 141.9 158.8 142.2 159.4 142.4 160.1 142.7 160.7 142.9 161.4 143.2 162 143.4 162.6 143.7 163 144 163.5 144.2 164.1 144.5 164.5 144.8 164.9 145.1 165.3 145.4 165.6 145.7 166 146 166.3 146.3 166.6 146.6 166.9 146.9 167.2 147.3 167.4 147.6 167.7 147.9 168 148.3 168.4 148.6 168.8 149 169.3 149.3 169.6 149.7 169.9 150 170.4 150.4 170.8 150.8 171.2 151.2 171.6 151.6 171.9 152 172.2 152.4 172.4 152.8 172.7 153.2 172.9 153.6 173 154 173.2 154.4 173.4 154.8 173.7 155.3 174.1 155.7 174.6 156.1 175.2 156.6 176 157 177 157.5 178.3 158 179.5 158.4 180.9 158.9 182.5 159.4 184 159.9 185.3 160.3 186.7 160.8 188.1 161.3 189.1 161.8 190.1 162.3 191 162.9 191.6 163.4 192 163.9 192.3 164.4 192.6 165 193.2 165.5 193.7 166 194.2 166.6 194.8 167.1 195.4 167.7 196.2 168.3 197 168.8 197.7 169.4 198.5 170 199.1 170.6 199.5 171.1 199.9 171.7 200 172.3 199.9 172.9 199.8 173.5 199.6 174.2 199.7 174.8 199.8 175.4 200.3 176 201 176.7 201.9 177.3 203.3 177.9 205.1 178.6 207.2 179.3 209.2 179.9 211.1 180.6 212.8 181.2 214.6 181.9 216 182.6 216.9 183.3 217.4 184 217.5 184.7 217.3 185.4 217.2 186.1 217 186.8 216.9 187.5 217.1 188.2 217.4 188.9 217.9 189.7 218.6 190.4 219.6 191.1 220.6 191.9 221.5 192.6 222.3 193.4 223.3 194.1 224.1 194.9 224.6 195.7 225 196.5 225.5 197.2 226 198 226.1 198.8 226.5 199.6 227.1 200.4 227.7 201.2 228.5 202 229.8 202.8 231.2 203.7 232.9 204.5 234.2 205.3 235.9 206.1 237.3 207 238.4 207.8 239.2 208.7 240.2 209.5 241.1 210.4 241.9 211.3 242.6 212.1 243.2 213 243.7 213.9 243.9 214.8 243.8 215.7 243.9 216.6 244 217.5 244.3 218.4 245.1 219.3 246 220.2 247 221.1 248 222 248.9 223 249.5 223.9 250 224.9 250.4 225.8 251.6 226.7 252.7 227.7 254.3 228.7 256.2 229.6 257.9 230.6 259.6 231.6 260.9 232.6 261.6 233.5 262.2 234.5 262.5 235.5 262.5 236.5 262.6 237.5 262.7 238.6 263 239.6 263.3 240.6 263.7 241.6 264.1 242.7 265 243.7 265.9 244.7 266.6 245.8 267.3 246.8 267.5 247.9 267.1 249 266.4 250 265.7 251.1 265.2 252.2 265.3 253.3 266.1 254.3 267.5 255.4 269.4 256.5 271.1 257.6 273.1 258.7 275.2 259.9 276.8 261 278.2 262.1 279.1 263.2 279.8 264.4 280.3 265.5 280.8 266.6 281.1 267.8 281.8 268.9 282.2 270.1 282.6 271.3 282.9 272.4 283.6 273.6 284.6 274.8 285.6 276 286.7 277.2 287.8 278.4 288.5 279.6 288.8 280.8 289.2 282 289.7 283.2 290.4 284.4 291.6 285.6 293.2 286.9 294.9 288.1 296.5 289.3 297.7 290.6 298.4 291.8 298.6 293.1 298.6 294.3 298.8 295.6 299.2 296.9 300 298.1 301.3 299.4 302.7 300.7 303.9 302 304.9 303.3 305.4 304.6 305.3 305.9 305.3 307.2 305.2 308.5 305.1 309.8 305.2 311.2 305.7 312.5 306.5 313.8 307.5 315.2 308.7 316.5 309.7 317.9 310.5 319.2 311.4 320.6 312.3 321.9 313.5 323.3 314.9 324.7 316.1 326.1 317.2 327.5 317.9 328.8 318.5 330.2 318.8 331.6 318.9 333 318.8 334.5 318.7 335.9 318.9 337.3 319.6 338.7 320.8 340.2 321.9 341.6 322.9 343 323.4 344.5 323.7 345.9 324.3 347.4 325.5 348.8 327 350.3 328.5 351.8 329.6 353.3 330.1 354.7 330.2 356.2 330.3 357.7 330.8 359.2 331.5 360.7 332.1 362.2 332.7 363.7 332.9 365.2 332.9 366.8 333 368.3 333.3 369.8 334 371.4 334.7 372.9 335.4 374.5 335.9 376 336.2 377.6 336.6 379.1 337.3 380.7 338.2 382.3 339.5 383.8 340.5 385.4 341.3 387 341.7 388.6 341.8 390.2 342.1 391.8 342.8 393.4 343.8 395 345.1 396.6 346.1 398.3 346.7 399.9 346.8 401.5 346.6 403.2 346.3 404.8 346.3 406.5 346.7 408.1 347.6 409.8 348.8 411.4 349.8 413.1 350.5 414.8 351 416.4 351.1 418.1 351.2 419.8 351.3 421.5 351.9 423.2 352.8 424.9 353.6 426.6 354.1 428.3 354.3 430.1 354.7 431.8 355.6 433.5 356.7 435.2 357.3 437 357.5 438.7 357.2 440.5 357.2 442.2 357.5 444 358 445.8 358.4 447.5 359 449.3 360 451.1 361 452.9 361.9 454.6 362.2 456.4 362.3 458.2 362.3 460 362.1 461.9 362.2 463.7 362.4 465.5 363.1 467.3 364 469.1 364.9 471 365.4 472.8 365.4 474.7 365.4 476.5 365.6 478.4 366 480.2 366.5 482.1 366.9 484 367.6 485.8 368.3 487.7 368.8 489.6 369 491.5 368.8 493.4 368.9 495.3 369.5 497.2 370.4 499.1 371.2 501 371.7 502.9 372 504.9 372.2 506.8 372.6 508.7 373 510.7 373.4 512.6 373.4 514.6 373.7 516.5 374.1 518.5 374.8 520.5 375.2 522.4 375.1 524.4 374.8 526.4 374.9 528.4 375.7 530.4 376.5 532.4 376.9 534.4 377 536.4 377.1 538.4 377 540.4 377 542.4 377.3 544.4 377.9 546.5 378.8 548.5 379.5 550.5 379.8 552.6 379.9 554.6 379.9 556.7 379.9 558.8 380.1 560.8 380.4 562.9 381.1 565 381.6 567.1 381.9 569.1 382.1 571.2 382 573.3 381.9 575.4 381.8 577.5 382.1 579.7 382.7 581.8 383.4 583.9 383.9 586 384.3 588.2 384.7 590.3 384.9 592.4 385.1 594.6 385.2 596.7 385.5 598.9 385.9 601.1 386.4 603.2 386.9 605.4 387.3 607.6 387.6 609.8 387.7 612 387.6 614.1 387.3 616.3 387.4 618.5 387.6 620.8 387.5 623 387.5 625.2 388.2 627.4 389.1 629.6 389.7 631.9 390.1 634.1 390.4 636.4 390.2 638.6 389.8 640.9 389.6 643.1 389.7 645.4 390.2 647.6 390.9 649.9 391.3 652.2 391.4 654.5 391.3 656.8 391.4 659.1 391.8 661.4 391.8 663.7 391.3 666 391.1 668.3 391.6 670.6 392.4 672.9 392.7 675.3 393.1 677.6 393.6 679.9 393.9 682.3 393.6 684.6 393.2 687 393.2 689.3 393.5 691.7 393.7 694.1 393.8 696.5 394.3 698.8 395 701.2 395.5 703.6 395.2 706 394.8 708.4 394.4 710.8 394 713.2 393.9 715.6 394.6 718.1 395.8 720.5 396.7 722.9 396.8 725.3 396 727.8 395 730.2 395 732.7 396.1 735.1 396.9 737.6 397.1 740.1 397 742.5 396.9 745 397 747.5 397.3 750 397.6 752.5 397.7 755 397.9 757.5 397.8 760 397.7 762.5 397.7 765 398" stroke="#e1261c" stroke-width="4.0" fill="none" stroke-linejoin="round"/>
<path d="M136.6 144.7 137 131.2 137.5 154.5 137.9 136.5 138.4 159.2 138.8 139 139.3 162.4 139.7 141.8 140.2 172.5 140.6 141.6 141.1 172.3 141.5 139.8 142 170.5 142.4 148 142.9 172.3 143.3 153.2 143.8 179.9 144.2 153.2 144.7 181.5 145.1 153 145.6 174 146 152.6 146.5 174.4 146.9 157.9 147.4 176.6 147.8 159.2 148.3 178.7 148.7 157.4 149.2 182.1 149.6 159.2 150.1 184.7 150.5 159.3 151 182.6 151.4 160.8 151.9 182.5 152.3 164.2 152.8 184.6 153.2 164.2 153.7 183.8 154.1 162.1 154.6 182.9 155 159.4 155.5 186.4 155.9 161.9 156.4 185.4 156.8 164.5 157.3 189.5 157.7 167.7 158.2 192.8 158.6 163.9 159.1 194 159.5 167 160 198.9 160.4 175.4 160.9 200.4 161.3 179.3 161.8 201.2 162.2 178.9 162.7 201.7 163.1 179 163.6 201.1 164 179.5 164.4 201.9 164.9 174.8 165.3 201.7 165.8 175.5 166.2 206.5 166.7 179 167.1 208.8 167.6 182.6 168 210.3 168.5 186 168.9 210.4 169.4 182.9 169.8 210.9 170.3 184.4 170.7 213.9 171.2 189.4 171.6 214.7 172.1 188.2 172.5 212.7 173 190.8 173.4 213.5 173.9 191.4 174.3 210.4 174.8 191 175.2 210.1 175.7 192.5 176.1 212.4 176.6 194.3 177 214.6 177.5 192.8 177.9 216.7 178.4 190.9 178.8 218.5 179.3 195.3 179.7 224 180.2 196.7 180.6 232.2 181.1 202 181.5 232.6 182 204.2 182.4 225 182.9 200.1 183.3 229 183.8 202.4 184.2 231 184.7 203.7 185.1 229.7 185.6 203.8 186 229.7 186.5 208.2 186.9 229.3 187.4 206.8 187.8 232.4 188.3 198.2 188.7 230 189.2 194.7 189.6 230.4 190.1 203.7 190.5 232.4 191 208.4 191.4 231.5 191.8 208.3 192.3 230.3 192.7 206.2 193.2 234 193.6 208.5 194.1 236.5 194.5 213.1 195 235.7 195.4 216.8 195.9 237.9 196.3 214.2 196.8 237.6 197.2 212.4 197.7 237.2 198.1 213.5 198.6 239.8 199 217.4 199.5 238.6 199.9 218.1 200.4 237.7 200.8 216.8 201.3 238.7 201.7 216.8 202.2 242.3 202.6 219.8 203.1 248.7 203.5 223.1 204 248.5 204.4 225.8 204.9 245.4 205.3 227 205.8 247.2 206.2 225.9 206.7 250.9 207.1 226.2 207.6 252 208 228.2 208.5 254.4 208.9 230.9 209.4 256.8 209.8 231.3 210.3 253.1 210.7 232.7 211.2 257.3 211.6 232 212.1 259.8 212.5 234.4 213 254.8 213.4 236.4 213.9 254.2 214.3 230.8 214.8 255.8 215.2 229.8 215.7 253.6 216.1 231.7 216.6 256.7 217 230.5 217.5 260.9 217.9 234.9 218.4 258.8 218.8 236.9 219.2 261.9 219.7 236.7 220.1 261.7 220.6 235.9 221 264.3 221.5 235.2 221.9 265.6 222.4 234.8 222.8 261.9 223.3 239 223.7 264 224.2 238.9 224.6 262.8 225.1 239.1 225.5 259.6 226 239.9 226.4 263.7 226.9 241 227.3 265.2 227.8 243.9 228.2 262.8 228.7 244.4 229.1 266.2 229.6 245.5 230 268.1 230.5 248.4 230.9 268.2 231.4 251.5 231.8 273.1 232.3 251.6 232.7 275.5 233.2 250.2 233.6 273 234.1 252.3 234.5 271.4 235 249.9 235.4 273.1 235.9 248.9 236.3 273.1 236.8 247.7 237.2 272.6 237.7 249.6 238.1 275 238.6 252 239 276.9 239.5 250 239.9 274.8 240.4 250.9 240.8 273.9 241.3 256.6 241.7 275.7 242.2 257 242.6 277.5 243.1 255.7 243.5 276 244 256.9 244.4 274.3 244.9 257.4 245.3 276.7 245.8 257.8 246.2 278.5 246.6 259.9 247.1 280 247.5 258.5 248 285.6 248.4 252.9 248.9 286.6 249.3 248.3 249.8 284.9 250.2 249.8 250.7 286.6 251.1 247.5 251.6 279.9 252 250.7 252.5 275.8 252.9 257.5 253.4 276.6 253.8 252.2 254.3 276.4 254.7 248.3 255.2 280.7 255.6 253.8 256.1 281.9 256.5 259.7 257 282 257.4 265.3 257.9 288.8 258.3 263.8 258.8 290.3 259.2 261 259.7 286.7 260.1 266.7 260.6 290.1 261 268.1 261.5 290.2 261.9 264.6 262.4 286.6 262.8 267.8 263.3 289.8 263.7 268.8 264.2 289.3 264.6 269.6 265.1 286.8 265.5 271.9 266 287.6 266.4 273.3 266.9 288.6 267.3 272.6 267.8 289.5 268.2 273.8 268.7 289.5 269.1 276.5 269.6 289.2 270 275.5 270.5 288.6 270.9 275.2 271.4 288.9 271.8 277.8 272.3 289.7 272.7 278.9 273.2 290.9 273.6 278.5 274 290.6 274.5 280 274.9 291 275.4 278.7 275.8 292 276.3 279.6 276.7 293.3 277.2 283.3 277.6 294.7 278.1 284 278.5 294.1 279 284.2 279.4 293.2 279.9 284 280.3 295.3 280.8 283.9 281.2 295.8 281.7 284.7 282.1 295.3 282.6 285.6 283 297.1 283.5 285.9 283.9 297.2 284.4 286.9 284.8 297.6 285.3 288.4 285.7 300.3 286.2 289.6 286.6 299.8 287.1 289.8 287.5 300.1 288 290.1 288.4 301.3 288.9 291.4 289.3 303.6 289.8 291.6 290.2 306 290.7 288.4 291.1 306.7 291.6 289.5 292 306.9 292.5 293.4 292.9 304.1 293.4 294.2 293.8 304 294.3 294.9 294.7 303.7 295.2 294.9 295.6 304.7 296.1 294.4 296.5 308.3 297 294.7 297.4 307.6 297.9 296.1 298.3 305.3 298.8 296.8 299.2 307.9 299.7 297.2 300.1 309.2 300.5 297.7 301 308.1 301.4 298.8 301.9 309.6 302.3 294.3 302.8 310.1 303.2 292.9 303.7 309.5 304.1 298.5 304.6 310.2 305 301.3 305.5 310.8 305.9 301 306.4 312.4 306.8 298.6 307.3 310.8 307.7 296.4 308.2 309.9 308.6 299 309.1 309.4 309.5 301.4 310 310.1 310.4 301.6 310.9 311.7 311.3 300.6 311.8 311.8 312.2 301.5 312.7 310.7 313.1 303 313.6 311.1 314 301.9 314.5 312.8 314.9 302 315.4 315.1 315.8 301.3 316.3 315 316.7 301.7 317.2 318.2 317.6 304.7 318.1 317.9 318.5 303 319 315.1 319.4 300.8 319.9 315.3 320.3 303.4 320.8 316.6 321.2 306 321.7 317.8 322.1 305.9 322.6 318.6 323 307.6 323.5 319.2 323.9 309.9 324.4 319.6 324.8 311.1 325.3 320.2 325.7 311.8 326.2 322.5 326.6 310.8 327.1 324 327.5 311.6 327.9 324.4 328.4 313.3 328.8 323.5 329.3 314.6 329.7 323.9 330.2 314.4 330.6 324.3 331.1 314 331.5 323.6 332 313.9 332.4 322.7 332.9 313.9 333.3 323.5 333.8 312.1 334.2 323.2 334.7 312.3 335.1 323.5 335.6 315 336 325.5 336.5 314.1 336.9 325 337.4 313.8 337.8 325 338.3 316 338.7 325.3 339.2 316.6 339.6 327.1 340.1 317.5 340.5 327.6 341 318.5 341.4 326.3 341.9 319.3 342.3 326.5 342.8 319.6 343.2 327.9 343.7 319.1 344.1 328.2 344.6 319.2 345 327.9 345.5 318.6 345.9 328 346.4 319.5 346.8 328.3 347.3 321.9 347.7 329.1 348.2 321.9 348.6 332.1 349.1 322.6 349.5 335.8 350 324.4 350.4 334.2 350.9 325.3 351.3 335.5 351.8 324.4 352.2 337.8 352.7 324.6 353.1 336.3 353.6 325.2 354 334.4 354.5 325.6 354.9 334.4 355.3 326 355.8 335.1 356.2 326.1 356.7 334.4 357.1 326.5 357.6 336.1 358 326.6 358.5 336.4 358.9 326 359.4 335.3 359.8 327.6 360.3 336 360.7 327.9 361.2 336.7 361.6 327.8 362.1 337.2 362.5 328.1 363 337 363.4 328 363.9 337.9 364.3 329.1 364.8 340.1 365.2 329.6 365.7 338.3 366.1 329.4 366.6 336.8 367 329.2 367.5 338.1 367.9 329.2 368.4 338.6 368.8 328.6 369.3 338.6 369.7 327.2 370.2 338.4 370.6 328.4 371.1 338.5 371.5 329.4 372 340.1 372.4 328.8 372.9 341.5 373.3 328.4 373.8 340.2 374.2 330.7 374.7 339.5 375.1 330 375.6 340.2 376 330.3 376.5 342.6 376.9 332.9 377.4 342.1 377.8 333.3 378.3 341.2 378.7 333.7 379.2 342.8 379.6 333.5 380.1 343.6 380.5 330.5 381 345 381.4 330.4 381.9 343.8 382.3 332.6 382.7 345.9 383.2 334.7 383.6 346.5 384.1 335.8 384.5 345.3 385 336.7 385.4 347.3 385.9 337.8 386.3 348.9 386.8 338.1 387.2 346.8 387.7 337.7 388.1 345.4 388.6 337.9 389 345 389.5 338 389.9 345.8 390.4 336.2 390.8 347.3 391.3 337 391.7 347.1 392.2 339.3 392.6 347.4 393.1 340.3 393.5 347.9 394 341.3 394.4 348.2 394.9 341.5 395.3 352.2 395.8 339.3 396.2 353.6 396.7 339 397.1 351.4 397.6 341.6 398 350.5 398.5 342.3 398.9 350.9 399.4 343.4 399.8 350.6 400.3 343.8 400.7 350.3 401.2 343 401.6 350.1 402.1 342.9 402.5 349.6 403 343 403.4 349.7 403.9 342.8 404.3 349.9 404.8 341.7 405.2 350.8 405.7 341.3 406.1 352.1 406.6 341.4 407 351.8 407.5 339.6 407.9 351.2 408.4 341.6 408.8 352.6 409.3 344 409.7 354.8 410.1 346.3 410.6 353.8 411 344.8 411.5 352.9 411.9 344.3 412.4 353.4 412.8 346.9 413.3 355 413.7 347.7 414.2 358.2 414.6 346.7 415.1 356.6 415.5 346.5 416 354.7 416.4 346 416.9 354.6 417.3 344.6 417.8 354.4 418.2 346 418.7 354.7 419.1 347.4 419.6 354.6 420 347.1 420.5 355.1 420.9 347.3 421.4 355.3 421.8 348.8 422.3 355.3 422.7 349.6 423.2 355.9 423.6 349.5 424.1 356.3 424.5 349.6 425 356.4 425.4 350.4 425.9 357.1 426.3 351 426.8 357.9 427.2 350.9 427.7 357.4 428.1 350.3 428.6 358.6 429 349.1 429.5 359 429.9 350.9 430.4 358.3 430.8 352.2 431.3 358.8 431.7 352.3 432.2 358.7 432.6 353 433.1 359.7 433.5 353.9 434 360.4 434.4 353.9 434.9 360.4 435.3 353.9 435.8 360.3 436.2 352.7 436.7 361.6 437.1 350.7 437.5 362.5 438 352.3 438.4 361.9 438.9 352.4 439.3 361.6 439.8 353.1 440.2 360.8 440.7 352.8 441.1 360.4 441.6 353.1 442 360.7 442.5 354.2 442.9 361.2 443.4 353.8 443.8 364.3 444.3 354.5 444.7 364.6 445.2 354.8 445.6 362.7 446.1 355 446.5 362.1 447 355.6 447.4 363.2 447.9 354.7 448.3 365.5 448.8 355.3 449.2 364.3 449.7 357 450.1 364.5 450.6 356.8 451 365.5 451.5 356.3 451.9 366.4 452.4 357.4 452.8 365.6 453.3 358.5 453.7 365 454.2 357.8 454.6 365.2 455.1 358.7 455.5 365.8 456 358.6 456.4 366.8 456.9 358 457.3 366.5 457.8 356.5 458.2 366.7 458.7 355.2 459.1 366.6 459.6 357.6 460 366.9 460.5 358.8 460.9 366.1 461.4 359 461.8 366.4 462.3 358.9 462.7 365.6 463.2 358.8 463.6 365.3 464.1 359.3 464.5 366.9 464.9 360.1 465.4 367.3 465.8 360.5 466.3 370.6 466.7 360.6 467.2 371.7 467.6 360.6 468.1 368.7 468.5 361.4 469 368.6 469.4 362 469.9 368.4 470.3 362.2 470.8 368.2 471.2 362.1 471.7 368.8 472.1 362.1 472.6 369.6 473 362.4 473.5 370 473.9 362.1 474.4 369.5 474.8 362.2 475.3 368.2 475.7 361.8 476.2 368.1 476.6 361.9 477.1 369 477.5 362.7 478 370.9 478.4 361.9 478.9 370.8 479.3 362.6 479.8 369.6 480.2 363.6 480.7 369.7 481.1 363.5 481.6 371 482 363.7 482.5 372 482.9 363.4 483.4 371.3 483.8 363 484.3 370.9 484.7 364.2 485.2 370.7 485.6 365.1 486.1 371.5 486.5 364.3 487 372.3 487.4 364.8 487.9 372.1 488.3 365.8 488.8 371.8 489.2 365 489.7 371.8 490.1 364.1 490.6 371.6 491 364 491.5 371.3 491.9 365.2 492.3 373.1 492.8 365.7 493.2 373.8 493.7 365.3 494.1 372.8 494.6 365.7 495 372.9 495.5 366.2 495.9 373.4 496.4 366.3 496.8 374 497.3 366.5 497.7 373.8 498.2 366.9 498.6 375.3 499.1 366.2 499.5 376.1 500 367.6 500.4 375.4 500.9 368.3 501.3 375.9 501.8 368.2 502.2 374.9 502.7 367.9 503.1 376.6 503.6 368.7 504 376.7 504.5 367.7 504.9 374.5 505.4 366.9 505.8 374.9 506.3 368.8 506.7 375.4 507.2 369.3 507.6 376 508.1 369.5 508.5 376.1 509 370 509.4 377.5 509.9 370.3 510.3 377.7 510.8 370.9 511.2 377.6 511.7 370.5 512.1 379.3 512.6 369.8 513 378.9 513.5 370 513.9 377.4 514.4 370.2 514.8 378.1 515.3 370.5 515.7 379.5 516.2 370.9 516.6 378.2 517.1 371.1 517.5 377.3 518 371.6 518.4 378.3 518.9 372.2 519.3 379.9 519.7 372.1 520.2 379.4 520.6 369.7 521.1 378 521.5 369.6 522 377.6 522.4 371.8 522.9 377.4 523.3 372.1 523.8 377.9 524.2 371.7 524.7 379.3 525.1 371.4 525.6 379.1 526 372.1 526.5 377.9 526.9 372.1 527.4 377.8 527.8 372.3 528.3 378.7 528.7 372.5 529.2 379.4 529.6 372.9 530.1 379.6 530.5 373.5 531 379.9 531.4 373.9 531.9 380.1 532.3 373.3 532.8 380.2 533.2 373.2 533.7 381 534.1 374.2 534.6 380.7 535 373.1 535.5 380 535.9 371.9 536.4 379.8 536.8 373.1 537.3 380.1 537.7 374 538.2 380.1 538.6 374.1 539.1 380.4 539.5 374.3 540 380.3 540.4 374.3 540.9 380.4 541.3 374.6 541.8 380.9 542.2 374.1 542.7 380.4 543.1 373.9 543.6 380.7 544 374.5 544.5 381.4 544.9 374.7 545.4 381.3 545.8 374.9 546.3 381.3 546.7 374.9 547.1 381.9 547.6 375.8 548 382.4 548.5 376.4 548.9 382.6 549.4 376 549.8 383.2 550.3 376.1 550.7 383.2 551.2 376.3 551.6 382.7 552.1 377.2 552.5 382.6 553 377.3 553.4 383.9 553.9 376.9 554.3 384.6 554.8 375.9 555.2 382.8 555.7 374.6 556.1 382.4 556.6 374.8 557 383.3 557.5 376.2 557.9 383.7 558.4 377.2 558.8 383 559.3 377.6 559.7 382.9 560.2 377.1 560.6 383.5 561.1 375.5 561.5 383.9 562 377.1 562.4 385.6 562.9 378.4 563.3 386.3 563.8 378.6 564.2 384.8 564.7 379.1 565.1 385 565.6 378.9 566 385.5 566.5 377.2 566.9 385.6 567.4 377.3 567.8 384.8 568.3 378.3 568.7 384.6 569.2 379.3 569.6 385 570.1 379.4 570.5 385.3 571 378.8 571.4 385.6 571.9 379.1 572.3 385.2 572.8 379.4 573.2 384.4 573.7 379 574.1 384.5 574.5 378.9 575 384.9 575.4 379.1 575.9 385.8 576.3 379.3 576.8 385.8 577.2 378.5 577.7 385.9 578.1 377.7 578.6 385.6 579 379 579.5 385.7 579.9 380.1 580.4 386.7 580.8 380.2 581.3 387.3 581.7 379.9 582.2 388 582.6 379.9 583.1 388.2 583.5 380.3 584 388.1 584.4 380.2 584.9 388.8 585.3 381.2 585.8 387.4 586.2 382.1 586.7 386.8 587.1 381.9 587.6 387.2 588 380.8 588.5 387.2 588.9 379.9 589.4 387.1 589.8 381.5 590.3 387.5 590.7 382.6 591.2 387.8 591.6 382.1 592.1 390.4 592.5 380.8 593 390.5 593.4 379.3 593.9 388.2 594.3 380.7 594.8 388.6 595.2 382.1 595.7 388.1 596.1 382.4 596.6 387.8 597 382.8 597.5 387.7 597.9 381.9 598.4 388.6 598.8 381.2 599.3 388.9 599.7 382.3 600.2 389.2 600.6 383.6 601.1 389.1 601.5 383.8 601.9 388.9 602.4 384 602.8 389.3 603.3 384.2 603.7 390.1 604.2 384.3 604.6 390.2 605.1 383.7 605.5 389.6 606 384.1 606.4 389.8 606.9 385.2 607.3 390.1 607.8 384.6 608.2 390.7 608.7 383.8 609.1 391.2 609.6 383.2 610 390.6 610.5 383.6 610.9 390.1 611.4 384.1 611.8 390.9 612.3 384.8 612.7 392 613.2 384.7 613.6 391 614.1 384.3 614.5 390.4 615 384.5 615.4 390 615.9 384.4 616.3 390.2 616.8 384.6 617.2 390.5 617.7 384.1 618.1 390.5 618.6 383.5 619 390.5 619.5 383.4 619.9 390 620.4 384.5 620.8 390.8 621.3 384.3 621.7 391 622.2 383.1 622.6 390.3 623.1 382.3 623.5 390.3 624 384.4 624.4 390.8 624.9 385.8 625.3 391.5 625.8 385.6 626.2 392.1 626.7 386 627.1 392.3 627.6 386.8 628 392.3 628.4 385.6 628.9 393.7 629.3 385.4 629.8 394.8 630.2 386.5 630.7 394.7 631.1 386.8 631.6 393.7 632 386.3 632.5 393.2 632.9 386.7 633.4 393.2 633.8 386.9 634.3 393.3 634.7 385.8 635.2 393.2 635.6 386.9 636.1 393.1 636.5 386.4 637 393.1 637.4 385.4 637.9 393.5 638.3 385 638.8 393.9 639.2 386.1 639.7 393.3 640.1 385.7 640.6 393.1 641 386.7 641.5 393.2 641.9 387.3 642.4 393.3 642.8 387 643.3 393.9 643.7 386.7 644.2 393.7 644.6 387.3 645.1 392.8 645.5 387.9 646 393 646.4 388.4 646.9 393.9 647.3 388.6 647.8 393.6 648.2 388.8 648.7 393.5 649.1 389 649.6 394 650 388.1 650.5 393.9 650.9 387.6 651.4 394.6 651.8 388.2 652.3 395.4 652.7 389.1 653.2 394.6 653.6 388.6 654.1 394.4 654.5 387.8 655 395.5 655.4 387.8 655.8 394.9 656.3 388.7 656.7 394.1 657.2 387.7 657.6 394.1 658.1 388.1 658.5 394.1 659 388.8 659.4 394.7 659.9 388.7 660.3 395.7 660.8 389.3 661.2 395.4 661.7 389.2 662.1 394.3 662.6 389.3 663 393.6 663.5 389.1 663.9 393.8 664.4 389 664.8 394.9 665.3 388 665.7 394.5 666.2 386.7 666.6 393.1 667.1 387.5 667.5 393.4 668 388.6 668.4 393.7 668.9 389.7 669.3 394.3 669.8 389.4 670.2 395 670.7 389.4 671.1 395.4 671.6 389.8 672 395.7 672.5 389.3 672.9 396.2 673.4 389.8 673.8 396.1 674.3 390.8 674.7 395.6 675.2 390.4 675.6 395.6 676.1 390.3 676.5 395.7 677 390.6 677.4 397.3 677.9 390.6 678.3 397.6 678.8 390.5 679.2 396.8 679.7 390.9 680.1 396.3 680.6 391 681 396 681.5 390.5 681.9 397.4 682.4 390.5 682.8 397.2 683.2 390.4 683.7 395.4 684.1 390.7 684.6 396.4 685 390.7 685.5 397.1 685.9 388.9 686.4 396.8 686.8 389.1 687.3 396.6 687.7 389.5 688.2 396 688.6 388.3 689.1 396.7 689.5 390 690 396.2 690.4 391.1 690.9 396 691.3 391.1 691.8 396.1 692.2 390.8 692.7 396.6 693.1 391 693.6 397.1 694 390.4 694.5 396.7 694.9 390.5 695.4 396.3 695.8 390.6 696.3 397.9 696.7 390.8 697.2 398.8 697.6 391.4 698.1 399 698.5 392.5 699 398.1 699.4 392.8 699.9 398.1 700.3 392.4 700.8 399.1 701.2 392.3 701.7 398.2 702.1 391.5 702.6 397.7 703 391.8 703.5 398.1 703.9 392.5 704.4 397.9 704.8 392.1 705.3 397.8 705.7 391.8 706.2 397.4 706.6 391.8 707.1 397.1 707.5 390.9 708 397.6 708.4 389.8 708.9 397.6 709.3 391 709.8 396.8 710.2 391.8 710.6 396.6 711.1 391.3 711.5 396.7 712 391.4 712.4 396.6 712.9 391.5 713.3 396.3 713.8 391.2 714.2 396.4 714.7 391.5 715.1 397 715.6 391.7 716 397.6 716.5 391.3 716.9 398.2 717.4 392.4 717.8 398.6 718.3 393.7 718.7 398.4 719.2 394 719.6 398.5 720.1 394.1 720.5 399.2 721 393.7 721.4 399.3 721.9 393.9 722.3 398.9 722.8 394.2 723.2 398.9 723.7 393.4 724.1 399.2 724.6 392.3 725 398.9 725.5 391.4 725.9 398.3 726.4 392.2 726.8 398.6 727.3 392.8 727.7 399.2 728.2 392.5 728.6 397.8 729.1 391.7 729.5 397.2 730 391.9 730.4 397.8 730.9 392 731.3 398.8 731.8 392.4 732.2 398.6 732.7 393.3 733.1 398.8 733.6 393.4 734 399.1 734.5 393.5 734.9 399.3 735.4 393.6 735.8 399.7 736.3 394.5 736.7 400.2 737.2 394.3 737.6 402.3 738 394.5 738.5 402.5 738.9 394.4 739.4 400.3 739.8 394.5 740.3 400.5 740.7 394.8 741.2 401 741.6 394.4 742.1 399.7 742.5 393.8 743 400.3 743.4 393.9 743.9 400.3 744.3 394.4 744.8 399.4 745.2 394.3 745.7 400 746.1 394.5 746.6 400 747 393.9 747.5 400 747.9 392.5 748.4 400 748.8 394.2 749.3 400.9 749.7 395.3 750.2 401.1 750.6 394.5 751.1 400.8 751.5 393.6 752 401.3 752.4 393.3 752.9 400.8 753.3 394.1 753.8 400.3 754.2 395.5 754.7 400 755.1 395.6 755.6 400.5 756 395.2 756.5 400.7 756.9 395 757.4 400.2 757.8 395.5 758.3 400.2 758.7 395.4 759.2 400.7 759.6 394.2 760.1 400.8 760.5 394.1 761 400.7 761.4 394.9 761.9 400.9 762.3 394.7 762.8 400.4 763.2 394.9 763.7 400.3 764.1 395.1 764.6 400.2 765 395.3" stroke="#e1261c" stroke-width="1.6" fill="none" stroke-linejoin="bevel"/>
<path d="M139.2 152.8 139.3 152.9 139.5 152.9 139.7 152.9 139.9 152.9 140.1 152.9 140.2 152.9 140.4 152.9 140.6 152.9 140.8 152.9 141.1 153 141.3 153 141.5 153.1 141.7 153.1 141.9 153.1 142.2 153.1 142.4 153.1 142.7 153 142.9 152.9 143.2 152.9 143.4 152.8 143.7 152.8 144 152.8 144.2 152.8 144.5 152.7 144.8 152.6 145.1 152.5 145.4 152.5 145.7 152.4 146 152.2 146.3 152 146.6 151.9 146.9 151.8 147.3 151.8 147.6 151.6 147.9 151.5 148.3 151.3 148.6 151.2 149 151.1 149.3 151 149.7 151 150 151 150.4 151 150.8 151 151.2 151 151.6 151.1 152 151.2 152.4 151.3 152.8 151.5 153.2 151.7 153.6 151.9 154 152.2 154.4 152.4 154.8 152.7 155.3 152.9 155.7 153.2 156.1 153.4 156.6 153.6 157 153.8 157.5 154 158 154.1 158.4 154.2 158.9 154.3 159.4 154.4 159.9 154.5 160.3 154.5 160.8 154.5 161.3 154.5 161.8 154.5 162.3 154.4 162.9 154.4 163.4 154.3 163.9 154.2 164.4 154.1 165 153.9 165.5 153.8 166 153.6 166.6 153.5 167.1 153.4 167.7 153.3 168.3 153.3 168.8 153.3 169.4 153.4 170 153.5 170.6 153.6 171.1 153.8 171.7 154.1 172.3 154.3 172.9 154.5 173.5 154.6 174.2 154.8 174.8 155 175.4 155.1 176 155.1 176.7 155.2 177.3 155.3 177.9 155.3 178.6 155.3 179.3 155.4 179.9 155.5 180.6 155.6 181.2 155.8 181.9 156 182.6 156.3 183.3 156.5 184 156.9 184.7 157.1 185.4 157.4 186.1 157.6 186.8 157.7 187.5 157.8 188.2 157.8 188.9 157.8 189.7 157.7 190.4 157.7 191.1 157.6 191.9 157.6 192.6 157.6 193.4 157.6 194.1 157.6 194.9 157.7 195.7 157.7 196.5 157.7 197.2 157.8 198 157.8 198.8 157.9 199.6 157.9 200.4 158 201.2 158 202 158.1 202.8 158.1 203.7 158.2 204.5 158.3 205.3 158.4 206.1 158.6 207 158.9 207.8 159.2 208.7 159.5 209.5 159.8 210.4 160.1 211.3 160.3 212.1 160.4 213 160.5 213.9 160.5 214.8 160.5 215.7 160.6 216.6 160.7 217.5 160.8 218.4 161 219.3 161.1 220.2 161.2 221.1 161.3 222 161.3 223 161.3 223.9 161.4 224.9 161.5 225.8 161.6 226.7 161.8 227.7 162 228.7 162.2 229.6 162.5 230.6 162.7 231.6 162.9 232.6 163.1 233.5 163.3 234.5 163.3 235.5 163.4 236.5 163.4 237.5 163.5 238.6 163.6 239.6 163.7 240.6 163.8 241.6 164 242.7 164.2 243.7 164.3 244.7 164.5 245.8 164.6 246.8 164.6 247.9 164.6 249 164.6 250 164.6 251.1 164.5 252.2 164.5 253.3 164.5 254.3 164.5 255.4 164.6 256.5 164.8 257.6 165 258.7 165.2 259.9 165.3 261 165.4 262.1 165.4 263.2 165.4 264.4 165.5 265.5 165.6 266.6 165.7 267.8 165.8 268.9 165.9 270.1 166 271.3 166 272.4 166 273.6 166.1 274.8 166 276 166 277.2 166 278.4 166 279.6 166.1 280.8 166.3 282 166.5 283.2 166.6 284.4 166.7 285.6 166.7 286.9 166.6 288.1 166.5 289.3 166.5 290.6 166.5 291.8 166.6 293.1 166.8 294.3 166.9 295.6 166.9 296.9 167 298.1 167.1 299.4 167.1 300.7 167.2 302 167.3 303.3 167.5 304.6 167.6 305.9 167.8 307.2 167.9 308.5 167.9 309.8 167.9 311.2 167.8 312.5 167.7 313.8 167.6 315.2 167.7 316.5 167.7 317.9 167.8 319.2 167.9 320.6 168 321.9 168.1 323.3 168.3 324.7 168.4 326.1 168.5 327.5 168.5 328.8 168.4 330.2 168.4 331.6 168.4 333 168.5 334.5 168.6 335.9 168.6 337.3 168.7 338.7 168.7 340.2 168.8 341.6 169 343 169.1 344.5 169.2 345.9 169.2 347.4 169.3 348.8 169.4 350.3 169.5 351.8 169.6 353.3 169.7 354.7 169.9 356.2 169.9 357.7 169.9 359.2 169.8 360.7 169.7 362.2 169.7 363.7 169.8 365.2 169.8 366.8 169.9 368.3 169.9 369.8 169.9 371.4 170 372.9 169.9 374.5 170 376 170 377.6 170.1 379.1 170.3 380.7 170.5 382.3 170.7 383.8 170.7 385.4 170.7 387 170.7 388.6 170.7 390.2 170.6 391.8 170.6 393.4 170.6 395 170.7 396.6 170.7 398.3 170.9 399.9 171 401.5 171.2 403.2 171.2 404.8 171.2 406.5 171.1 408.1 171.1 409.8 171.2 411.4 171.3 413.1 171.5 414.8 171.6 416.4 171.7 418.1 171.7 419.8 171.7 421.5 171.7 423.2 171.8 424.9 171.9 426.6 172.2 428.3 172.4 430.1 172.5 431.8 172.5 433.5 172.4 435.2 172.3 437 172.3 438.7 172.5 440.5 172.6 442.2 172.5 444 172.4 445.8 172.2 447.5 172.3 449.3 172.5 451.1 172.6 452.9 172.8 454.6 172.9 456.4 173 458.2 173.1 460 173.1 461.9 172.9 463.7 172.7 465.5 172.6 467.3 172.7 469.1 172.9 471 173 472.8 173.1 474.7 173.2 476.5 173.3 478.4 173.4 480.2 173.4 482.1 173.4 484 173.5 485.8 173.7 487.7 173.7 489.6 173.7 491.5 173.6 493.4 173.7 495.3 173.7 497.2 173.7 499.1 173.7 501 173.8 502.9 174 504.9 174.1 506.8 174.3 508.7 174.3 510.7 174.2 512.6 174 514.6 174 516.5 174.1 518.5 174.3 520.5 174.5 522.4 174.6 524.4 174.6 526.4 174.6 528.4 174.6 530.4 174.4 532.4 174.3 534.4 174.2 536.4 174.2 538.4 174.4 540.4 174.6 542.4 174.7 544.4 174.7 546.5 174.6 548.5 174.6 550.5 174.7 552.6 174.8 554.6 174.9 556.7 175 558.8 175.1 560.8 175.2 562.9 175.4 565 175.5 567.1 175.5 569.1 175.4 571.2 175.4 573.3 175.5 575.4 175.6 577.5 175.7 579.7 175.8 581.8 175.9 583.9 176 586 176.1 588.2 176 590.3 175.8 592.4 175.6 594.6 175.5 596.7 175.5 598.9 175.6 601.1 175.9 603.2 176.2 605.4 176.4 607.6 176.4 609.8 176.3 612 176.2 614.1 176.3 616.3 176.4 618.5 176.4 620.8 176.5 623 176.6 625.2 176.7 627.4 176.7 629.6 176.7 631.9 176.8 634.1 177.1 636.4 177.3 638.6 177.2 640.9 176.9 643.1 176.7 645.4 176.7 647.6 176.9 649.9 177.1 652.2 177.1 654.5 177.1 656.8 177.4 659.1 177.6 661.4 177.6 663.7 177.5 666 177.5 668.3 177.7 670.6 178.2 672.9 178.4 675.3 178.3 677.6 178.1 679.9 178 682.3 178 684.6 178 687 178.2 689.3 178.4 691.7 178.5 694.1 178.5 696.5 178.4 698.8 178.5 701.2 178.6 703.6 178.7 706 178.6 708.4 178.6 710.8 178.6 713.2 178.6 715.6 178.5 718.1 178.4 720.5 178.6 722.9 178.9 725.3 179.1 727.8 179.1 730.2 179 732.7 178.8 735.1 178.8 737.6 179 740.1 179.3 742.5 179.5 745 179.6 747.5 179.6 750 179.4 752.5 179.4 755 179.5 757.5 179.7 760 179.8 762.5 179.8 765 179.8" stroke="#141414" stroke-width="3.6" fill="none" stroke-linejoin="round"/>
<path d="M139.3 162.7 139.7 139.9 140.2 161.3 140.6 141 141.1 163.3 141.5 139.7 142 162.4 142.4 137.3 142.9 164.9 143.3 137.3 143.8 163.7 144.2 141.5 144.7 159.4 145.1 146.1 145.6 160 146 143.5 146.5 159.7 146.9 140.1 147.4 158.7 147.8 143.2 148.3 158.3 148.7 145.2 149.2 157.6 149.6 144.9 150.1 156.1 150.5 142.6 151 155.1 151.4 142.9 151.9 155.7 152.3 146.7 152.8 156.3 153.2 146.7 153.7 156.1 154.1 147.7 154.6 159.5 155 149.7 155.5 160 155.9 149.3 156.4 158.2 156.8 149.5 157.3 158.4 157.7 150.5 158.2 157.5 158.6 150.8 159.1 157.3 159.5 151.3 160 158.4 160.4 150.9 160.9 159.4 161.3 150.8 161.8 159.6 162.2 151.6 162.7 159.5 163.1 151.3 163.6 160.2 164 150.7 164.4 158.4 164.9 150.9 165.3 157.2 165.8 150.8 166.2 156.5 166.7 150.8 167.1 156.8 167.6 151 168 156.8 168.5 150.7 168.9 156.2 169.4 150.5 169.8 155.8 170.3 150.6 170.7 155.9 171.2 151.5 171.6 156.8 172.1 151.2 172.5 157.6 173 151.2 173.4 157.9 173.9 152.4 174.3 157.6 174.8 152.8 175.2 157.3 175.7 153.5 176.1 157.1 176.6 152.7 177 156.8 177.5 152.6 177.9 157 178.4 153.2 178.8 157.1 179.3 153.3 179.7 157.3 180.2 153.6 180.6 157.9 181.1 154.2 181.5 158.4 182 154.5 182.4 159.4 182.9 154.4 183.3 159.5 183.8 155 184.2 159 184.7 155.6 185.1 158.8 185.6 155.5 186 158.9 186.5 155.9 186.9 159.2 187.4 155.8 187.8 159.4 188.3 155.8 188.7 159.4 189.2 155.9 189.6 159.4 190.1 155.1 190.5 159.2 191 155.7 191.4 158.9 191.8 155.8 192.3 158.6 192.7 155.2 193.2 158.7 193.6 155.3 194.1 159.2 194.5 155.4 195 159.2 195.4 155.8 195.9 159.3 196.3 156.3 196.8 159.4 197.2 155.4 197.7 159.2 198.1 155.4 198.6 159 199 156.2 199.5 158.9 199.9 156.3 200.4 159.2 200.8 156.7 201.3 159.7 201.7 156.4 202.2 159.8 202.6 156 203.1 160.3 203.5 155.8 204 160.6 204.4 156.8 204.9 160.4 205.3 157.3 205.8 160.4 206.2 157.2 206.7 160.7 207.1 157 207.6 160.6 208 157.2 208.5 160.8 208.9 157.9 209.4 161.1 209.8 158.4 210.3 161.6 210.7 158.9 211.2 161.6 211.6 159 212.1 161.6 212.5 159.3 213 161.8 213.4 159.4 213.9 161.7 214.3 159.3 214.8 161.5 215.2 159.1 215.7 161.5 216.1 159.2 216.6 161.7 217 159.6 217.5 161.8 217.9 159.8 218.4 162.3 218.8 159.6 219.2 162.7 219.7 160 220.1 162.4 220.6 160.3 221 162.3 221.5 160.3 221.9 162.5 222.4 160 222.8 162.5 223.3 159.8 223.7 163.3 224.2 160 224.6 163.6 225.1 159.6 225.5 162.8 226 160.3 226.4 162.6 226.9 160.9 227.3 163.9 227.8 160.9 228.2 164.1 228.7 160.7 229.1 163.4 229.6 161.2 230 163.9 230.5 161.4 230.9 164 231.4 161.6 231.8 163.9 232.3 162.2 232.7 164 233.2 162.1 233.6 164.2 234.1 161.9 234.5 164.3 235 162.3 235.4 164.2 235.9 162.5 236.3 164.9 236.8 162.5 237.2 165.1 237.7 162.6 238.1 165.4 238.6 162.8 239 165.4 239.5 162.5 239.9 165.6 240.4 162 240.8 165.3 241.3 162.5 241.7 165.1 242.2 163.1 242.6 166.5 243.1 163.1 243.5 166.7 244 163 244.4 165.6 244.9 163.4 245.3 165.5 245.8 163.7 246.2 166.1 246.6 163.6 247.1 166.2 247.5 162.9 248 165.7 248.4 162.8 248.9 165.5 249.3 163.3 249.8 165.6 250.2 163.6 250.7 165.6 251.1 163.4 251.6 165.6 252 163.4 252.5 165.5 252.9 163.6 253.4 165.6 253.8 163.1 254.3 166.1 254.7 163.3 255.2 166.1 255.6 163.9 256.1 166.1 256.5 164.1 257 165.9 257.4 164.2 257.9 165.9 258.3 164.2 258.8 166.1 259.2 164.3 259.7 166.2 260.1 164.2 260.6 166.7 261 164.3 261.5 166.8 261.9 164.5 262.4 166.1 262.8 164.3 263.3 166.3 263.7 164.3 264.2 166.6 264.6 164.5 265.1 166.5 265.5 164.3 266 166.4 266.4 163.8 266.9 167.1 267.3 164.5 267.8 167.4 268.2 165.2 268.7 167 269.1 165.2 269.6 167.8 270 164.8 270.5 168.1 270.9 164.9 271.4 167.4 271.8 165.4 272.3 167.1 272.7 165.6 273.2 167.5 273.6 165.5 274 167.4 274.5 165.4 274.9 167.3 275.4 165.4 275.8 167.5 276.3 165.1 276.7 167 277.2 165.1 277.6 167 278.1 165.4 278.5 166.9 279 165.2 279.4 166.8 279.9 165.3 280.3 166.9 280.8 165.3 281.2 166.9 281.7 165.4 282.1 167.3 282.6 165.7 283 167.8 283.5 165.5 283.9 167.7 284.4 165.5 284.8 168.1 285.3 165.8 285.7 167.8 286.2 165.9 286.6 167.3 287.1 164.6 287.5 167.4 288 164.6 288.4 167.9 288.9 165.8 289.3 168.3 289.8 165.7 290.2 167.7 290.7 165.2 291.1 167.3 291.6 165.6 292 167.3 292.5 166 292.9 167.5 293.4 165.9 293.8 168 294.3 166.1 294.7 168.1 295.2 166.3 295.6 168 296.1 166.3 296.5 167.9 297 166 297.4 167.7 297.9 165.6 298.3 167.8 298.8 166 299.2 167.9 299.7 166.3 300.1 168 300.5 166.4 301 168.4 301.4 166.3 301.9 168.4 302.3 166.5 302.8 168.4 303.2 166.6 303.7 168.8 304.1 166.7 304.6 168.9 305 167 305.5 169.2 305.9 167.2 306.4 169.9 306.8 167.4 307.3 169 307.7 167.3 308.2 168.5 308.6 167.3 309.1 168.7 309.5 167.3 310 168.7 310.4 167.1 310.9 168.6 311.3 167.1 311.8 168.5 312.2 166.3 312.7 168.5 313.1 166.2 313.6 168.6 314 166.5 314.5 168.6 314.9 166.6 315.4 168.6 315.8 166.6 316.3 168.4 316.7 166.2 317.2 168.5 317.6 166.6 318.1 168.4 318.5 167.2 319 168.4 319.4 167.3 319.9 168.6 320.3 167.3 320.8 168.8 321.2 167.5 321.7 169 322.1 167.7 322.6 169.1 323 167.5 323.5 169.3 323.9 167.3 324.4 169.2 324.8 167.6 325.3 169.2 325.7 167 326.2 169.6 326.6 167.1 327.1 169.2 327.5 167.8 327.9 168.9 328.4 167.5 328.8 169 329.3 167.3 329.7 169.8 330.2 167.4 330.6 169.9 331.1 167.7 331.5 169.5 332 167.8 332.4 169.8 332.9 167.5 333.3 169.4 333.8 167.1 334.2 169.4 334.7 167.7 335.1 169.4 335.6 168 336 169.4 336.5 167.7 336.9 169.5 337.4 167.8 337.8 169.5 338.3 167.8 338.7 169.6 339.2 167.9 339.6 169.4 340.1 168.2 340.5 169.5 341 168.2 341.4 170 341.9 168 342.3 170.2 342.8 168.2 343.2 170 343.7 167.9 344.1 170.4 344.6 167.2 345 170.2 345.5 167.5 345.9 169.7 346.4 168.3 346.8 169.9 347.3 168.7 347.7 170 348.2 168.8 348.6 170 349.1 168.3 349.5 170.3 350 167.8 350.4 170.1 350.9 168.6 351.3 170.6 351.8 169 352.2 170.6 352.7 169 353.1 170.2 353.6 169.1 354 170.3 354.5 169.1 354.9 170.7 355.3 169.3 355.8 171.8 356.2 169.3 356.7 172.1 357.1 169.2 357.6 171 358 169.2 358.5 170.5 358.9 169.1 359.4 170.3 359.8 169 360.3 170.5 360.7 169 361.2 170.6 361.6 168.6 362.1 170.4 362.5 168.5 363 170.3 363.4 168.4 363.9 170.4 364.3 168.4 364.8 170.4 365.2 168.9 365.7 170.4 366.1 168.9 366.6 170.6 367 168.7 367.5 170.7 367.9 169 368.4 170.8 368.8 169 369.3 170.6 369.7 169.1 370.2 170.7 370.6 169.1 371.1 171 371.5 169.2 372 171.1 372.4 169.2 372.9 171 373.3 168.6 373.8 170.6 374.2 168.6 374.7 170.5 375.1 169.1 375.6 170.6 376 169.1 376.5 170.7 376.9 169.1 377.4 170.8 377.8 168.9 378.3 171 378.7 169.2 379.2 171.3 379.6 169.5 380.1 171.3 380.5 169.3 381 171.5 381.4 169.4 381.9 171.4 382.3 169.8 382.7 171.4 383.2 169.5 383.6 171.4 384.1 169.3 384.5 171.7 385 169.7 385.4 171.8 385.9 170 386.3 171.5 386.8 170.1 387.2 171.6 387.7 169.9 388.1 171.4 388.6 169.5 389 171.3 389.5 169.8 389.9 171.6 390.4 170.1 390.8 171.6 391.3 170 391.7 171.8 392.2 169.9 392.6 172 393.1 169.7 393.5 171.6 394 169.8 394.4 171.5 394.9 169.9 395.3 171.5 395.8 170 396.2 171.6 396.7 169.9 397.1 171.4 397.6 169.7 398 171.6 398.5 169.9 398.9 171.9 399.4 169.9 399.8 171.9 400.3 170 400.7 172.1 401.2 170.4 401.6 172.4 402.1 170.1 402.5 172 403 170.2 403.4 171.9 403.9 170.5 404.3 172.2 404.8 170.3 405.2 172 405.7 170.1 406.1 171.8 406.6 169.7 407 171.8 407.5 169.9 407.9 172 408.4 170.2 408.8 172.2 409.3 170.2 409.7 172.7 410.1 170.6 410.6 172.5 411 170.2 411.5 172.3 411.9 169.8 412.4 172.2 412.8 170.6 413.3 172.1 413.7 170.7 414.2 172.2 414.6 170.7 415.1 173.3 415.5 170.9 416 173.5 416.4 171 416.9 172.5 417.3 171.1 417.8 172.6 418.2 170.8 418.7 173 419.1 170.7 419.6 172.7 420 170.8 420.5 172.4 420.9 170.9 421.4 172.5 421.8 170.5 422.3 172.6 422.7 170.5 423.2 172.5 423.6 170.3 424.1 172.4 424.5 170.6 425 172.7 425.4 171.2 425.9 173.1 426.3 171 426.8 173.1 427.2 171.1 427.7 173.1 428.1 171.7 428.6 173 429 171.8 429.5 173 429.9 171.7 430.4 173.1 430.8 171.5 431.3 173.2 431.7 170.9 432.2 173.3 432.6 171.2 433.1 173.1 433.5 171.5 434 173 434.4 171.6 434.9 172.9 435.3 171.6 435.8 173.1 436.2 171.6 436.7 173.5 437.1 171.6 437.5 173.4 438 171.7 438.4 173.4 438.9 171.8 439.3 173.5 439.8 171.7 440.2 173.5 440.7 171.5 441.1 173.5 441.6 171.7 442 173.4 442.5 171.3 442.9 173.3 443.4 171.3 443.8 173.2 444.3 171.5 444.7 173 445.2 171.4 445.6 172.8 446.1 171.6 446.5 173.9 447 171.2 447.4 174 447.9 170.9 448.3 173 448.8 171.3 449.2 173.1 449.7 171.3 450.1 173.6 450.6 171.6 451 173.4 451.5 171.9 451.9 173.5 452.4 171.9 452.8 173.7 453.3 171.8 453.7 173.5 454.2 171.8 454.6 173.7 455.1 172.2 455.5 173.8 456 171.9 456.4 173.7 456.9 171.8 457.3 174 457.8 172.2 458.2 174 458.7 172.1 459.1 173.6 459.6 172.2 460 173.6 460.5 171 460.9 173.8 461.4 170.9 461.8 174.4 462.3 172 462.7 174 463.2 171.9 463.6 173.5 464.1 171.7 464.5 173.9 464.9 171.6 465.4 174.1 465.8 171.6 466.3 173.7 466.7 171.8 467.2 173.4 467.6 171.4 468.1 173.8 468.5 171.4 469 173.7 469.4 172.2 469.9 173.5 470.3 172.5 470.8 173.6 471.2 172.5 471.7 173.9 472.1 172.3 472.6 173.8 473 172.2 473.5 173.7 473.9 172 474.4 173.7 474.8 172.1 475.3 174.1 475.7 172.5 476.2 174.3 476.6 172.6 477.1 174.2 477.5 172.8 478 173.9 478.4 172.4 478.9 173.9 479.3 172.4 479.8 173.9 480.2 172.2 480.7 174.2 481.1 171.7 481.6 174.5 482 171.6 482.5 174.7 482.9 172.2 483.4 174.3 483.8 172.9 484.3 174.5 484.7 173 485.2 175.1 485.6 173 486.1 174.7 486.5 173 487 174.7 487.4 173 487.9 174.9 488.3 172.5 488.8 174.5 489.2 172.6 489.7 174.6 490.1 173.1 490.6 174.5 491 172.9 491.5 174.2 491.9 172.2 492.3 174.5 492.8 172.3 493.2 174.6 493.7 172.7 494.1 175 494.6 172.7 495 175.1 495.5 172.4 495.9 175.1 496.4 172.5 496.8 175.8 497.3 172.8 497.7 174.9 498.2 172.7 498.6 174.4 499.1 172.7 499.5 174.5 500 173.3 500.4 174.5 500.9 173 501.3 174.7 501.8 173 502.2 174.9 502.7 173.2 503.1 175 503.6 173.3 504 174.9 504.5 173.3 504.9 175 505.4 173 505.8 175.4 506.3 173.4 506.7 175.1 507.2 173.8 507.6 174.9 508.1 173.6 508.5 174.9 509 173 509.4 174.9 509.9 172.8 510.3 175 510.8 173.2 511.2 175 511.7 173.5 512.1 174.9 512.6 173.5 513 174.7 513.5 173.2 513.9 174.6 514.4 173.1 514.8 175 515.3 173.4 515.7 175.1 516.2 173.5 516.6 174.8 517.1 173.5 517.5 175.1 518 173.3 518.4 175.4 518.9 173.5 519.3 175.6 519.7 173.3 520.2 175.3 520.6 173.7 521.1 175.5 521.5 173.2 522 176.1 522.4 173.4 522.9 175.6 523.3 173.8 523.8 175.4 524.2 172.9 524.7 175.5 525.1 173 525.6 175.7 526 173.5 526.5 176.2 526.9 173.5 527.4 175.6 527.8 173.7 528.3 175.1 528.7 173.5 529.2 175.4 529.6 173.5 530.1 175.6 530.5 173.5 531 175.2 531.4 173.6 531.9 174.8 532.3 173.7 532.8 174.9 533.2 173.4 533.7 175 534.1 173.4 534.6 175 535 173.4 535.5 174.9 535.9 173.3 536.4 174.9 536.8 173.3 537.3 174.9 537.7 173.7 538.2 174.9 538.6 174 539.1 175.1 539.5 173.6 540 175.3 540.4 173.5 540.9 175.2 541.3 173.6 541.8 175.2 542.2 173.5 542.7 175.3 543.1 173.9 543.6 175.4 544 174 544.5 175.3 544.9 173.9 545.4 175.4 545.8 173.9 546.3 175.6 546.7 174.1 547.1 175.6 547.6 174.1 548 175.5 548.5 173.9 548.9 175.4 549.4 173.5 549.8 175.3 550.3 173.8 550.7 175.4 551.2 174 551.6 175.7 552.1 173.8 552.5 176 553 173.4 553.4 175.7 553.9 173.7 554.3 175.7 554.8 174.1 555.2 175.7 555.7 174 556.1 175.8 556.6 173.7 557 176.3 557.5 173.6 557.9 175.9 558.4 173.8 558.8 176.4 559.3 174 559.7 177 560.2 174.2 560.6 176.9 561.1 174 561.5 177.3 562 173.1 562.4 176.6 562.9 174.2 563.3 176.2 563.8 174.7 564.2 176.2 564.7 174.9 565.1 176.1 565.6 175 566 176.2 566.5 175 566.9 176.3 567.4 174.8 567.8 176.5 568.3 174.5 568.7 176.2 569.2 174.2 569.6 176.3 570.1 174.4 570.5 176.6 571 174.5 571.4 176.4 571.9 174.8 572.3 176.1 572.8 174.7 573.2 176.1 573.7 174.3 574.1 176.6 574.5 174 575 176.7 575.4 174.5 575.9 176.1 576.3 175 576.8 176.1 577.2 175 577.7 176.3 578.1 175.1 578.6 176.5 579 174.7 579.5 176.6 579.9 174.6 580.4 177.1 580.8 174.9 581.3 176.9 581.7 175.2 582.2 176.8 582.6 175.3 583.1 177.2 583.5 175.5 584 176.9 584.4 175.4 584.9 176.8 585.3 175.2 585.8 177.2 586.2 175 586.7 176.9 587.1 175.1 587.6 176.6 588 175.3 588.5 176.7 588.9 175 589.4 176.8 589.8 175 590.3 176.7 590.7 174.9 591.2 176.4 591.6 174.8 592.1 176.5 592.5 174.8 593 176.6 593.4 174.9 593.9 176.3 594.3 174.8 594.8 176.7 595.2 174.9 595.7 176.8 596.1 174.8 596.6 176.6 597 174.7 597.5 176.6 597.9 174.8 598.4 176.4 598.8 174.9 599.3 176.4 599.7 175 600.2 176.4 600.6 175.1 601.1 176.5 601.5 175.3 601.9 177.1 602.4 175.4 602.8 177.4 603.3 175.5 603.7 177.9 604.2 175.7 604.6 177.8 605.1 175.5 605.5 177.5 606 175.2 606.4 177.5 606.9 175.6 607.3 177.2 607.8 175.8 608.2 176.9 608.7 175.5 609.1 176.9 609.6 175.5 610 176.9 610.5 175.5 610.9 177.1 611.4 175.5 611.8 178 612.3 175.6 612.7 177.6 613.2 174.9 613.6 177.1 614.1 174.9 614.5 177.1 615 175.6 615.4 177.3 615.9 175.7 616.3 178 616.8 175.4 617.2 177.9 617.7 175.3 618.1 177.5 618.6 175.4 619 177.7 619.5 175.6 619.9 177.7 620.4 175.7 620.8 177.4 621.3 175.8 621.7 177.5 622.2 175.8 622.6 177.2 623.1 175.6 623.5 177.1 624 174.8 624.4 177.3 624.9 175 625.3 177.3 625.8 176.1 626.2 177.4 626.7 175.9 627.1 177.4 627.6 175.7 628 177.6 628.4 175.9 628.9 177.9 629.3 176.1 629.8 177.6 630.2 176.1 630.7 177.5 631.1 176.2 631.6 177.7 632 176.3 632.5 177.7 632.9 176.4 633.4 178 633.8 176.6 634.3 178.1 634.7 176.5 635.2 177.9 635.6 176.3 636.1 178 636.5 176.3 637 178 637.4 176.6 637.9 178.2 638.3 176.7 638.8 178.1 639.2 176.4 639.7 177.7 640.1 176.2 640.6 177.7 641 175.7 641.5 177.4 641.9 175.5 642.4 177.4 642.8 176 643.3 177.9 643.7 175.9 644.2 177.6 644.6 175.6 645.1 177.2 645.5 175.7 646 177.3 646.4 175.8 646.9 177.5 647.3 176 647.8 178.1 648.2 176.3 648.7 178.2 649.1 176.5 649.6 177.8 650 176.4 650.5 177.7 650.9 176.4 651.4 178 651.8 176.5 652.3 178.2 652.7 176.4 653.2 178.1 653.6 176.4 654.1 178.1 654.5 176.3 655 178.2 655.4 176.2 655.8 177.8 656.3 176.2 656.7 178.1 657.2 176.4 657.6 178.7 658.1 176.2 658.5 178.6 659 176.4 659.4 178.1 659.9 176.8 660.3 178.5 660.8 176.2 661.2 178.4 661.7 175.3 662.1 178 662.6 176.2 663 178.1 663.5 176.5 663.9 178.2 664.4 176.7 664.8 178.4 665.3 176.8 665.7 178.5 666.2 176.8 666.6 178.4 667.1 176.6 667.5 178.7 668 176.6 668.4 178.8 668.9 177.1 669.3 178.8 669.8 177.5 670.2 179.4 670.7 177.6 671.1 179 671.6 177.7 672 178.8 672.5 177.8 672.9 179.3 673.4 177.6 673.8 179.3 674.3 177.5 674.7 178.9 675.2 177.4 675.6 179 676.1 177.2 676.5 178.8 677 177.3 677.4 178.9 677.9 177.5 678.3 179.1 678.8 177.4 679.2 179 679.7 176.6 680.1 178.7 680.6 176.4 681 178.7 681.5 176.6 681.9 179 682.4 176.8 682.8 178.9 683.2 177.1 683.7 178.9 684.1 177.2 684.6 179 685 176.8 685.5 178.8 685.9 176.5 686.4 178.7 686.8 176.9 687.3 178.8 687.7 177.5 688.2 178.8 688.6 177.7 689.1 179.2 689.5 177.5 690 179.8 690.4 177.7 690.9 179.5 691.3 178 691.8 179.3 692.2 177.7 692.7 179.2 693.1 177.7 693.6 179.2 694 177.9 694.5 179.5 694.9 177.6 695.4 179.8 695.8 177 696.3 179.5 696.7 177.3 697.2 179.2 697.6 177.9 698.1 179 698.5 177.9 699 179.2 699.4 178.1 699.9 179.3 700.3 178 700.8 179.6 701.2 177.9 701.7 179.6 702.1 178 702.6 179.7 703 177.8 703.5 180.1 703.9 177.6 704.4 179.8 704.8 177.5 705.3 179.6 705.7 177.7 706.2 179.5 706.6 177.8 707.1 179.8 707.5 177.9 708 179.5 708.4 177.9 708.9 179.3 709.3 177.8 709.8 179.4 710.2 177.9 710.6 179.5 711.1 178 711.5 179.4 712 177.7 712.4 179.4 712.9 177.2 713.3 180.1 713.8 177.6 714.2 179.9 714.7 177.4 715.1 179.4 715.6 177.4 716 179.5 716.5 177.6 716.9 180.2 717.4 177.5 717.8 180.2 718.3 177.6 718.7 179.6 719.2 177.5 719.6 179.5 720.1 177.6 720.5 179.4 721 177.5 721.4 179.5 721.9 177.5 722.3 179.6 722.8 177.8 723.2 179.7 723.7 178 724.1 179.8 724.6 178 725 179.9 725.5 178.2 725.9 180.5 726.4 178.4 726.8 180.7 727.3 178.5 727.7 180.2 728.2 178.2 728.6 180.2 729.1 178.4 729.5 180.1 730 178.2 730.4 179.7 730.9 177.9 731.3 179.4 731.8 177.1 732.2 179.5 732.7 177.1 733.1 179.6 733.6 178 734 179.5 734.5 178 734.9 180 735.4 178.1 735.8 180.7 736.3 178 736.7 180.2 737.2 177.9 737.6 179.7 738 178.2 738.5 180 738.9 178.4 739.4 180.3 739.8 178.5 740.3 180.8 740.7 178.4 741.2 180.9 741.6 178.8 742.1 180.6 742.5 178.7 743 180.5 743.4 178.7 743.9 180.5 744.3 178.9 744.8 181 745.2 179 745.7 181.2 746.1 178.9 746.6 180.6 747 178.5 747.5 180.5 747.9 178.4 748.4 180.7 748.8 178.7 749.3 180.3 749.7 178.8 750.2 179.9 750.6 178.7 751.1 180 751.5 178.5 752 180.1 752.4 178.6 752.9 180.1 753.3 178.6 753.8 180 754.2 178.3 754.7 180 755.1 178.4 755.6 180 756 178.6 756.5 180.2 756.9 178.7 757.4 180.4 757.8 179 758.3 180.5 758.7 178.8 759.2 180.4 759.6 179 760.1 180.4 760.5 179.2 761 180.9 761.4 179.3 761.9 180.8 762.3 179.2 762.8 180.4 763.2 179.1 763.7 180.4 764.1 178.9 764.6 180.3 765 178.6" stroke="#141414" stroke-width="1.6" fill="none" stroke-linejoin="bevel"/></g>
<text x="135.2" y="548.5" text-anchor="middle">0.0</text>
<text x="261.2" y="548.5" text-anchor="middle">0.2</text>
<text x="387.1" y="548.5" text-anchor="middle">0.4</text>
<text x="513.1" y="548.5" text-anchor="middle">0.6</text>
<text x="639" y="548.5" text-anchor="middle">0.8</text>
<text x="765" y="548.5" text-anchor="middle">1.0</text>
<text x="450" y="598.4" text-anchor="middle">time (s)</text>
<text transform="translate(93.8 308) rotate(-90)" text-anchor="middle">Light Scattering</text>
<path d="M980.3 496 982.4 493.8 984.4 491.6 986.5 489.4 988.6 487.2 990.6 485.1 992.7 482.9 994.8 480.8 996.8 478.7 998.9 476.5 1001 474.4 1003 472.4 1005.1 470.3 1007.2 468.2 1009.2 466.2 1011.3 464.1 1013.4 462.1 1015.4 460.1 1017.5 458.1 1019.6 456.1 1021.7 454.1 1023.7 452.1 1025.8 450.2 1027.9 448.2 1029.9 446.3 1032 444.3 1034.1 442.4 1036.1 440.5 1038.2 438.6 1040.3 436.8 1042.3 434.9 1044.4 433 1046.5 431.2 1048.5 429.3 1050.6 427.5 1052.7 425.7 1054.7 423.9 1056.8 422.1 1058.9 420.3 1060.9 418.5 1063 416.8 1065.1 415 1067.1 413.3 1069.2 411.5 1071.3 409.8 1073.3 408.1 1075.4 406.4 1077.5 404.7 1079.5 403 1081.6 401.3 1083.7 399.6 1085.7 398 1087.8 396.3 1089.9 394.7 1091.9 393.1 1094 391.4 1096.1 389.8 1098.2 388.2 1100.2 386.6 1102.3 385.1 1104.4 383.5 1106.4 381.9 1108.5 380.4 1110.6 378.8 1112.6 377.3 1114.7 375.7 1116.8 374.2 1118.8 372.7 1120.9 371.2 1123 369.7 1125 368.2 1127.1 366.8 1129.2 365.3 1131.2 363.8 1133.3 362.4 1135.4 360.9 1137.4 359.5 1139.5 358.1 1141.6 356.7 1143.6 355.2 1145.7 353.8 1147.8 352.4 1149.8 351.1 1151.9 349.7 1154 348.3 1156 346.9 1158.1 345.6 1160.2 344.2 1162.2 342.9 1164.3 341.6 1166.4 340.3 1168.4 338.9 1170.5 337.6 1172.6 336.3 1174.7 335 1176.7 333.7 1178.8 332.5 1180.9 331.2 1182.9 329.9 1185 328.7 1187.1 327.4 1189.1 326.2 1191.2 325 1193.3 323.7 1195.3 322.5 1197.4 321.3 1199.5 320.1 1201.5 318.9 1203.6 317.7 1205.7 316.5 1207.7 315.3 1209.8 314.2 1211.9 313 1213.9 311.8 1216 310.7 1218.1 309.5 1220.1 308.4 1222.2 307.3 1224.3 306.1 1226.3 305 1228.4 303.9 1230.5 302.8 1232.5 301.7 1234.6 300.6 1236.7 299.5 1238.7 298.4 1240.8 297.4 1242.9 296.3 1244.9 295.2 1247 294.2 1249.1 293.1 1251.2 292.1 1253.2 291 1255.3 290 1257.4 289 1259.4 287.9 1261.5 286.9 1263.6 285.9 1265.6 284.9 1267.7 283.9 1269.8 282.9 1271.8 281.9 1273.9 281 1276 280 1278 279 1280.1 278.1 1282.2 277.1 1284.2 276.1 1286.3 275.2 1288.4 274.3 1290.4 273.3 1292.5 272.4 1294.6 271.5 1296.6 270.5 1298.7 269.6 1300.8 268.7 1302.8 267.8 1304.9 266.9 1307 266 1309 265.1 1311.1 264.2 1313.2 263.4 1315.2 262.5 1317.3 261.6 1319.4 260.8 1321.4 259.9 1323.5 259.1 1325.6 258.2 1327.6 257.4 1329.7 256.5 1331.8 255.7 1333.9 254.9 1335.9 254 1338 253.2 1340.1 252.4 1342.1 251.6 1344.2 250.8 1346.3 250 1348.3 249.2 1350.4 248.4 1352.5 247.6 1354.5 246.8 1356.6 246 1358.7 245.3 1360.7 244.5 1362.8 243.7 1364.9 243 1366.9 242.2 1369 241.5 1371.1 240.7 1373.1 240 1375.2 239.2 1377.3 238.5 1379.3 237.8 1381.4 237 1383.5 236.3 1385.5 235.6 1387.6 234.9 1389.7 234.2 1391.7 233.5 1393.8 232.8 1395.9 232.1 1397.9 231.4 1400 230.7 1402.1 230 1404.1 229.3 1406.2 228.6 1408.3 228 1410.4 227.3 1412.4 226.6 1414.5 226 1416.6 225.3 1418.6 224.7 1420.7 224 1422.8 223.4 1424.8 222.7 1426.9 222.1 1429 221.4 1431 220.8 1433.1 220.2 1435.2 219.6 1437.2 218.9 1439.3 218.3 1441.4 217.7 1443.4 217.1 1445.5 216.5 1447.6 215.9 1449.6 215.3 1451.7 214.7 1453.8 214.1 1455.8 213.5 1457.9 212.9 1460 212.3 1462 211.7 1464.1 211.2 1466.2 210.6 1468.2 210 1470.3 209.5 1472.4 208.9 1474.4 208.3 1476.5 207.8 1478.6 207.2 1480.6 206.7 1482.7 206.1 1484.8 205.6 1486.9 205 1488.9 204.5 1491 204 1493.1 203.4 1495.1 202.9 1497.2 202.4 1499.3 201.9 1501.3 201.3 1503.4 200.8 1505.5 200.3 1507.5 199.8 1509.6 199.3 1511.7 198.8 1513.7 198.3 1515.8 197.8 1517.9 197.3 1519.9 196.8 1522 196.3 1524.1 195.8 1526.1 195.3 1528.2 194.9 1530.3 194.4 1532.3 193.9 1534.4 193.4 1536.5 193 1538.5 192.5 1540.6 192 1542.7 191.6 1544.7 191.1 1546.8 190.6 1548.9 190.2 1550.9 189.7 1553 189.3 1555.1 188.8 1557.1 188.4 1559.2 187.9 1561.3 187.5 1563.4 187.1 1565.4 186.6 1567.5 186.2 1569.6 185.8 1571.6 185.3 1573.7 184.9 1575.8 184.5 1577.8 184.1 1579.9 183.7 1582 183.2 1584 182.8 1586.1 182.4 1588.2 182 1590.2 181.6 1592.3 181.2 1594.4 180.8 1596.4 180.4 1598.5 180" stroke="#111" stroke-width="3" fill="none"/>
<path d="M982.1 494.3V496.1M971.2 494.3H993M971.2 496.1H993" stroke="#111" stroke-width="2.8" fill="none"/>
<circle cx="982.1" cy="495.2" r="6.6" fill="#111"/>
<path d="M984 491.5V493.3M973.1 491.5H994.9M973.1 493.3H994.9" stroke="#111" stroke-width="2.8" fill="none"/>
<circle cx="984" cy="492.4" r="6.6" fill="#111"/>
<path d="M987.6 487.1V489.1M976.7 487.1H998.5M976.7 489.1H998.5" stroke="#111" stroke-width="2.8" fill="none"/>
<circle cx="987.6" cy="488.1" r="6.6" fill="#111"/>
<path d="M994.9 479.8V481.8M984 479.8H1005.8M984 481.8H1005.8" stroke="#111" stroke-width="2.8" fill="none"/>
<circle cx="994.9" cy="480.8" r="6.6" fill="#111"/>
<path d="M1009.6 465.4V467.4M998.7 465.4H1020.5M998.7 467.4H1020.5" stroke="#111" stroke-width="2.8" fill="none"/>
<circle cx="1009.6" cy="466.4" r="6.6" fill="#111"/>
<path d="M1038.9 439.2V441.2M1028 439.2H1049.8M1028 441.2H1049.8" stroke="#111" stroke-width="2.8" fill="none"/>
<circle cx="1038.9" cy="440.2" r="6.6" fill="#111"/>
<path d="M1068.2 424.4V426.2M1057.3 424.4H1079.1M1057.3 426.2H1079.1" stroke="#111" stroke-width="2.8" fill="none"/>
<circle cx="1068.2" cy="425.3" r="6.6" fill="#111"/>
<path d="M1097.5 382.2V384.2M1086.6 382.2H1108.4M1086.6 384.2H1108.4" stroke="#111" stroke-width="2.8" fill="none"/>
<circle cx="1097.5" cy="383.2" r="6.6" fill="#111"/>
<path d="M1120.9 382.2V384.2M1110 382.2H1131.8M1110 384.2H1131.8" stroke="#111" stroke-width="2.8" fill="none"/>
<circle cx="1120.9" cy="383.2" r="6.6" fill="#111"/>
<path d="M1156.1 339.1V341.1M1145.2 339.1H1167M1145.2 341.1H1167" stroke="#111" stroke-width="2.8" fill="none"/>
<circle cx="1156.1" cy="340.1" r="6.6" fill="#111"/>
<path d="M1214.7 291.2V293.2M1203.8 291.2H1225.6M1203.8 293.2H1225.6" stroke="#111" stroke-width="2.8" fill="none"/>
<circle cx="1214.7" cy="292.2" r="6.6" fill="#111"/>
<path d="M1331.9 253.6V255.6M1321 253.6H1342.8M1321 255.6H1342.8" stroke="#111" stroke-width="2.8" fill="none"/>
<circle cx="1331.9" cy="254.6" r="6.6" fill="#111"/>
<path d="M1449.1 179.9V190.9M1438.2 179.9H1460M1438.2 190.9H1460" stroke="#111" stroke-width="2.8" fill="none"/>
<circle cx="1449.1" cy="185.4" r="6.6" fill="#111"/>
<path d="M1542.9 214.1V235.9M1532 214.1H1553.8M1532 235.9H1553.8" stroke="#111" stroke-width="2.8" fill="none"/>
<circle cx="1542.9" cy="225" r="6.6" fill="#111"/>
<path d="M1027.2 496V490M1027.2 113.4V119.4M1074.1 496V485.3M1074.1 113.4V124.1M1120.9 496V490M1120.9 113.4V119.4M1167.8 496V485.3M1167.8 113.4V124.1M1214.7 496V490M1214.7 113.4V119.4M1261.6 496V485.3M1261.6 113.4V124.1M1308.5 496V490M1308.5 113.4V119.4M1355.4 496V485.3M1355.4 113.4V124.1M1402.2 496V490M1402.2 113.4V119.4M1449.1 496V485.3M1449.1 113.4V124.1M1496 496V490M1496 113.4V119.4M1542.9 496V485.3M1542.9 113.4V124.1M1589.8 496V490M1589.8 113.4V119.4M980.3 468.7H986.3M1598.5 468.7H1592.5M980.3 441.3H991M1598.5 441.3H1587.8M980.3 414H986.3M1598.5 414H1592.5M980.3 386.7H991M1598.5 386.7H1587.8M980.3 359.4H986.3M1598.5 359.4H1592.5M980.3 332H991M1598.5 332H1587.8M980.3 304.7H986.3M1598.5 304.7H1592.5M980.3 277.4H991M1598.5 277.4H1587.8M980.3 250H986.3M1598.5 250H1592.5M980.3 222.7H991M1598.5 222.7H1587.8M980.3 195.4H986.3M1598.5 195.4H1592.5M980.3 168.1H991M1598.5 168.1H1587.8M980.3 140.7H986.3M1598.5 140.7H1592.5" stroke="#111" stroke-width="3.0" fill="none"/>
<rect x="980.3" y="113.4" width="618.2" height="382.6" fill="none" stroke="#111" stroke-width="2.8"/>
<text x="980.3" y="541" text-anchor="middle">0</text>
<text x="1074.1" y="541" text-anchor="middle">100</text>
<text x="1167.8" y="541" text-anchor="middle">200</text>
<text x="1261.6" y="541" text-anchor="middle">300</text>
<text x="1355.4" y="541" text-anchor="middle">400</text>
<text x="1449.1" y="541" text-anchor="middle">500</text>
<text x="1542.9" y="541" text-anchor="middle">600</text>
<text x="968.6" y="509.2" text-anchor="end">0</text>
<text x="968.6" y="454.5" text-anchor="end">100</text>
<text x="968.6" y="399.9" text-anchor="end">200</text>
<text x="968.6" y="345.2" text-anchor="end">300</text>
<text x="968.6" y="290.6" text-anchor="end">400</text>
<text x="968.6" y="235.9" text-anchor="end">500</text>
<text x="968.6" y="181.3" text-anchor="end">600</text>
<text x="968.6" y="126.6" text-anchor="end">700</text>
<text x="1290.5" y="595.1" text-anchor="middle">[ATP] μM</text>
<g transform="translate(885.6 0) rotate(-90)"><text x="-392.7" y="0" font-size="43" class="i">k</text><text x="-373.4" y="15.8" font-size="25">obs, fast</text><text x="-282.9" y="0" font-size="43">(s</text><text x="-250.6" y="-19.7" font-size="26">-1</text><text x="-231.4" y="0" font-size="43">)</text></g>
<path d="M133 1099.6 134.6 1095 136.1 1090.5 137.7 1086.2 139.2 1082.1 140.8 1078.2 142.3 1074.4 143.9 1070.7 145.4 1067.2 147 1063.8 148.5 1060.5 150.1 1057.3 151.6 1054.3 153.2 1051.3 154.7 1048.5 156.3 1045.7 157.8 1043 159.4 1040.4 160.9 1037.9 162.5 1035.5 164 1033.1 165.6 1030.9 167.1 1028.6 168.7 1026.5 170.2 1024.4 171.8 1022.3 173.3 1020.4 174.9 1018.4 176.4 1016.6 178 1014.7 179.5 1013 181.1 1011.2 182.6 1009.5 184.2 1007.9 185.7 1006.3 187.3 1004.7 188.8 1003.2 190.4 1001.7 191.9 1000.3 193.5 998.8 195 997.4 196.6 996.1 198.1 994.8 199.7 993.5 201.2 992.2 202.8 991 204.3 989.8 205.9 988.6 207.4 987.4 209 986.3 210.5 985.2 212.1 984.1 213.6 983 215.2 982 216.7 980.9 218.3 979.9 219.8 978.9 221.4 978 222.9 977 224.5 976.1 226 975.2 227.6 974.3 229.1 973.4 230.7 972.5 232.2 971.7 233.8 970.9 235.3 970 236.9 969.2 238.4 968.5 240 967.7 241.5 966.9 243.1 966.2 244.6 965.4 246.2 964.7 247.7 964 249.3 963.3 250.8 962.6 252.4 961.9 253.9 961.3 255.5 960.6 257 960 258.6 959.3 260.1 958.7 261.7 958.1 263.2 957.5 264.8 956.9 266.3 956.3 267.9 955.7 269.4 955.1 271 954.6 272.5 954 274.1 953.5 275.6 952.9 277.2 952.4 278.7 951.9 280.3 951.4 281.8 950.9 283.4 950.4 284.9 949.9 286.5 949.4 288 948.9 289.6 948.4 291.1 948 292.7 947.5 294.2 947 295.8 946.6 297.3 946.1 298.9 945.7 300.4 945.3 302 944.8 303.5 944.4 305.1 944 306.6 943.6 308.2 943.2 309.7 942.8 311.3 942.4 312.8 942 314.4 941.6 315.9 941.2 317.5 940.9 319 940.5 320.6 940.1 322.1 939.8 323.7 939.4 325.2 939.1 326.8 938.7 328.3 938.4 329.9 938 331.4 937.7 333 937.3 334.5 937 336.1 936.7 337.6 936.4 339.2 936 340.7 935.7 342.3 935.4 343.8 935.1 345.4 934.8 346.9 934.5 348.5 934.2 350 933.9 351.6 933.6 353.1 933.3 354.7 933 356.2 932.7 357.8 932.5 359.3 932.2 360.9 931.9 362.4 931.6 364 931.4 365.5 931.1 367.1 930.8 368.6 930.6 370.2 930.3 371.7 930.1 373.3 929.8 374.8 929.6 376.4 929.3 377.9 929.1 379.5 928.8 381 928.6 382.6 928.3 384.1 928.1 385.7 927.9 387.2 927.6 388.8 927.4 390.3 927.2 391.9 927 393.4 926.7 395 926.5 396.5 926.3 398.1 926.1 399.6 925.9 401.2 925.6 402.7 925.4 404.3 925.2 405.8 925 407.4 924.8 408.9 924.6 410.5 924.4 412 924.2 413.6 924 415.1 923.8 416.7 923.6 418.2 923.4 419.8 923.2 421.3 923 422.9 922.8 424.4 922.7 426 922.5 427.5 922.3 429.1 922.1 430.6 921.9 432.2 921.7 433.7 921.6 435.3 921.4 436.8 921.2 438.4 921 439.9 920.9 441.5 920.7 443 920.5 444.6 920.4 446.1 920.2 447.7 920 449.2 919.9 450.8 919.7 452.3 919.5 453.9 919.4 455.4 919.2 457 919.1 458.5 918.9 460.1 918.8 461.6 918.6 463.2 918.5 464.7 918.3 466.3 918.1 467.8 918 469.4 917.9 470.9 917.7 472.5 917.6 474 917.4 475.6 917.3 477.1 917.1 478.7 917 480.2 916.8 481.8 916.7 483.3 916.6 484.9 916.4 486.4 916.3 488 916.2 489.5 916 491.1 915.9 492.6 915.8 494.2 915.6 495.7 915.5 497.3 915.4 498.8 915.2 500.4 915.1 501.9 915 503.5 914.9 505 914.7 506.6 914.6 508.1 914.5 509.7 914.4 511.2 914.2 512.8 914.1 514.3 914 515.9 913.9 517.4 913.8 519 913.6 520.5 913.5 522.1 913.4 523.6 913.3 525.2 913.2 526.7 913.1 528.3 913 529.8 912.8 531.4 912.7 532.9 912.6 534.5 912.5 536 912.4 537.6 912.3 539.1 912.2 540.7 912.1 542.2 912 543.8 911.9 545.3 911.8 546.9 911.7 548.4 911.6 550 911.4 551.5 911.3 553.1 911.2 554.6 911.1 556.2 911 557.7 910.9 559.3 910.8 560.8 910.7 562.4 910.6 563.9 910.5 565.5 910.5 567 910.4 568.6 910.3 570.1 910.2 571.7 910.1 573.2 910 574.8 909.9 576.3 909.8 577.9 909.7 579.4 909.6 581 909.5 582.5 909.4 584.1 909.3 585.6 909.2 587.2 909.2 588.7 909.1 590.3 909 591.8 908.9 593.4 908.8 594.9 908.7 596.5 908.6 598 908.5 599.6 908.5 601.1 908.4 602.7 908.3 604.2 908.2 605.8 908.1 607.3 908 608.9 908 610.4 907.9 612 907.8 613.5 907.7 615.1 907.6 616.6 907.6 618.2 907.5 619.7 907.4 621.3 907.3 622.8 907.2 624.4 907.2 625.9 907.1 627.5 907 629 906.9 630.6 906.9 632.1 906.8 633.7 906.7 635.2 906.6 636.8 906.6 638.3 906.5 639.9 906.4 641.4 906.3 643 906.3 644.5 906.2 646.1 906.1 647.6 906 649.2 906 650.7 905.9 652.3 905.8 653.8 905.8 655.4 905.7 656.9 905.6 658.5 905.6 660 905.5 661.6 905.4 663.1 905.4 664.7 905.3 666.2 905.2 667.8 905.1 669.3 905.1 670.9 905 672.4 905 674 904.9 675.5 904.8 677.1 904.8 678.6 904.7 680.2 904.6 681.7 904.6 683.3 904.5 684.8 904.4 686.4 904.4 687.9 904.3 689.5 904.2 691 904.2 692.6 904.1 694.1 904.1 695.7 904 697.2 903.9 698.8 903.9 700.3 903.8 701.9 903.8 703.4 903.7 705 903.6 706.5 903.6 708.1 903.5 709.6 903.5 711.2 903.4 712.7 903.3 714.3 903.3 715.8 903.2 717.4 903.2 718.9 903.1 720.5 903.1 722 903 723.6 902.9 725.1 902.9 726.7 902.8 728.2 902.8 729.8 902.7 731.3 902.7 732.9 902.6 734.4 902.6 736 902.5 737.5 902.5 739.1 902.4 740.6 902.3 742.2 902.3 743.7 902.2 745.3 902.2 746.8 902.1 748.4 902.1 749.9 902 751.5 902" stroke="#111" stroke-width="3" fill="none"/>
<path d="M133.9 1102.5V1105.3M123 1102.5H144.8M123 1105.3H144.8" stroke="#111" stroke-width="2.8" fill="none"/>
<circle cx="133.9" cy="1103.9" r="6.6" fill="#111"/>
<path d="M136.7 1069.8V1084.2M125.8 1069.8H147.6M125.8 1084.2H147.6" stroke="#111" stroke-width="2.8" fill="none"/>
<circle cx="136.7" cy="1077" r="6.6" fill="#111"/>
<path d="M147.6 988.6V1010.4M136.7 988.6H158.5M136.7 1010.4H158.5" stroke="#111" stroke-width="2.8" fill="none"/>
<circle cx="147.6" cy="999.5" r="6.6" fill="#111"/>
<path d="M162.3 953.3V978.7M151.4 953.3H173.2M151.4 978.7H173.2" stroke="#111" stroke-width="2.8" fill="none"/>
<circle cx="162.3" cy="966" r="6.6" fill="#111"/>
<path d="M191.6 796V860.2M180.7 796H202.5M180.7 860.2H202.5" stroke="#111" stroke-width="2.8" fill="none"/>
<circle cx="191.6" cy="828.1" r="6.6" fill="#111"/>
<path d="M220.9 976.4V992.8M210 976.4H231.8M210 992.8H231.8" stroke="#111" stroke-width="2.8" fill="none"/>
<circle cx="220.9" cy="984.6" r="6.6" fill="#111"/>
<path d="M250.1 951.8V960.2M239.2 951.8H261M239.2 960.2H261" stroke="#111" stroke-width="2.8" fill="none"/>
<circle cx="250.1" cy="956" r="6.6" fill="#111"/>
<path d="M273.6 960.9V972.5M262.7 960.9H284.5M262.7 972.5H284.5" stroke="#111" stroke-width="2.8" fill="none"/>
<circle cx="273.6" cy="966.7" r="6.6" fill="#111"/>
<path d="M308.7 960.9V972.5M297.8 960.9H319.6M297.8 972.5H319.6" stroke="#111" stroke-width="2.8" fill="none"/>
<circle cx="308.7" cy="966.7" r="6.6" fill="#111"/>
<path d="M367.3 934.1V943.9M356.4 934.1H378.2M356.4 943.9H378.2" stroke="#111" stroke-width="2.8" fill="none"/>
<circle cx="367.3" cy="939" r="6.6" fill="#111"/>
<path d="M484.4 917.5V927.9M473.5 917.5H495.3M473.5 927.9H495.3" stroke="#111" stroke-width="2.8" fill="none"/>
<circle cx="484.4" cy="922.7" r="6.6" fill="#111"/>
<path d="M601.6 791.5V810.1M590.7 791.5H612.5M590.7 810.1H612.5" stroke="#111" stroke-width="2.8" fill="none"/>
<circle cx="601.6" cy="800.8" r="6.6" fill="#111"/>
<path d="M179.9 1122.4V1116.4M179.9 739.5V745.5M226.7 1122.4V1111.7M226.7 739.5V750.2M273.6 1122.4V1116.4M273.6 739.5V745.5M320.4 1122.4V1111.7M320.4 739.5V750.2M367.3 1122.4V1116.4M367.3 739.5V745.5M414.1 1122.4V1111.7M414.1 739.5V750.2M461 1122.4V1116.4M461 739.5V745.5M507.8 1122.4V1111.7M507.8 739.5V750.2M554.7 1122.4V1116.4M554.7 739.5V745.5M601.6 1122.4V1111.7M601.6 739.5V750.2M648.4 1122.4V1116.4M648.4 739.5V745.5M695.3 1122.4V1111.7M695.3 739.5V750.2M742.1 1122.4V1116.4M742.1 739.5V745.5M133 1058.6H139M751.5 1058.6H745.5M133 994.8H143.7M751.5 994.8H740.8M133 931H139M751.5 931H745.5M133 867.1H143.7M751.5 867.1H740.8M133 803.3H139M751.5 803.3H745.5" stroke="#111" stroke-width="3.0" fill="none"/>
<rect x="133" y="739.5" width="618.5" height="382.9" fill="none" stroke="#111" stroke-width="2.8"/>
<text x="133" y="1167" text-anchor="middle">0</text>
<text x="226.7" y="1167" text-anchor="middle">100</text>
<text x="320.4" y="1167" text-anchor="middle">200</text>
<text x="414.1" y="1167" text-anchor="middle">300</text>
<text x="507.8" y="1167" text-anchor="middle">400</text>
<text x="601.6" y="1167" text-anchor="middle">500</text>
<text x="695.3" y="1167" text-anchor="middle">600</text>
<text x="121.5" y="1135.6" text-anchor="end">0</text>
<text x="121.5" y="1008" text-anchor="end">10</text>
<text x="121.5" y="880.3" text-anchor="end">20</text>
<text x="121.5" y="752.7" text-anchor="end">30</text>
<text x="443.8" y="1222.7" text-anchor="middle">[ATP] μM</text>
<g transform="translate(40.3 0) rotate(-90)"><text x="-1025.2" y="0" font-size="43" class="i">k</text><text x="-1006.4" y="15.2" font-size="25">obs, slow</text><text x="-903.8" y="0" font-size="43">(s</text><text x="-871.9" y="-19.7" font-size="26">-1</text><text x="-852.4" y="0" font-size="43">)</text></g>
<circle cx="983.7" cy="1089.5" r="6.4" fill="#111"/>
<circle cx="994.6" cy="1006.6" r="6.4" fill="#111"/>
<circle cx="1009.3" cy="904" r="6.4" fill="#111"/>
<circle cx="1038.6" cy="924.7" r="6.4" fill="#111"/>
<circle cx="1067.8" cy="783.6" r="6.4" fill="#111"/>
<circle cx="1097.1" cy="941" r="6.4" fill="#111"/>
<circle cx="1120.5" cy="872.8" r="6.4" fill="#111"/>
<circle cx="1155.7" cy="931.8" r="6.4" fill="#111"/>
<circle cx="1214.2" cy="899.3" r="6.4" fill="#111"/>
<circle cx="1331.3" cy="926" r="6.4" fill="#111"/>
<circle cx="1448.4" cy="956.3" r="6.4" fill="#111"/>
<path d="M1026.8 1122V1116M1026.8 739.6V745.6M1073.7 1122V1111.3M1073.7 739.6V750.3M1120.5 1122V1116M1120.5 739.6V745.6M1167.4 1122V1111.3M1167.4 739.6V750.3M1214.2 1122V1116M1214.2 739.6V745.6M1261 1122V1111.3M1261 739.6V750.3M1307.9 1122V1116M1307.9 739.6V745.6M1354.7 1122V1111.3M1354.7 739.6V750.3M1401.6 1122V1116M1401.6 739.6V745.6M1448.4 1122V1111.3M1448.4 739.6V750.3M1495.2 1122V1116M1495.2 739.6V745.6M1542.1 1122V1111.3M1542.1 739.6V750.3M1588.9 1122V1116M1588.9 739.6V745.6M980 1090.1H986M1598.3 1090.1H1592.3M980 1058.3H990.7M1598.3 1058.3H1587.6M980 1026.4H986M1598.3 1026.4H1592.3M980 994.5H990.7M1598.3 994.5H1587.6M980 962.7H986M1598.3 962.7H1592.3M980 930.8H990.7M1598.3 930.8H1587.6M980 898.9H986M1598.3 898.9H1592.3M980 867.1H990.7M1598.3 867.1H1587.6M980 835.2H986M1598.3 835.2H1592.3M980 803.3H990.7M1598.3 803.3H1587.6M980 771.5H986M1598.3 771.5H1592.3" stroke="#111" stroke-width="3.0" fill="none"/>
<rect x="980" y="739.6" width="618.3" height="382.4" fill="none" stroke="#111" stroke-width="2.8"/>
<text x="980" y="1167" text-anchor="middle">0</text>
<text x="1073.7" y="1167" text-anchor="middle">100</text>
<text x="1167.4" y="1167" text-anchor="middle">200</text>
<text x="1261" y="1167" text-anchor="middle">300</text>
<text x="1354.7" y="1167" text-anchor="middle">400</text>
<text x="1448.4" y="1167" text-anchor="middle">500</text>
<text x="1542.1" y="1167" text-anchor="middle">600</text>
<text x="968.6" y="1135.2" text-anchor="end">0</text>
<text x="968.6" y="1071.5" text-anchor="end">2</text>
<text x="968.6" y="1007.7" text-anchor="end">4</text>
<text x="968.6" y="944" text-anchor="end">6</text>
<text x="968.6" y="880.3" text-anchor="end">8</text>
<text x="968.6" y="816.5" text-anchor="end">10</text>
<text x="968.6" y="752.8" text-anchor="end">12</text>
<text x="1290.3" y="1220" text-anchor="middle">[ATP] μM</text>
<g transform="translate(898.4 0) rotate(-90)"><text x="-1020.7" y="0" font-size="43">A</text><text x="-990.1" y="15.6" font-size="25">fast</text><text x="-942.8" y="0" font-size="43">/</text><text x="-930.8" y="0" font-size="43">A</text><text x="-889.2" y="15.6" font-size="25">slow</text></g>
</g>
<text x="178.8" y="1443.1" font-size="79" textLength="119.5" lengthAdjust="spacingAndGlyphs">AM</text>
<text x="301.7" y="1417.2" font-size="55">C</text>
<text x="113.8" y="1584.3" font-size="79" class="i">K</text>
<text x="167.4" y="1606.2" font-size="40" class="i">α</text>
<path d="M241.7 1484.2V1581M214 1557.2L241.7 1582.5L269.5 1556.6M307 1584.5V1488M279.5 1512.5L307 1486.3L335 1511.8" stroke="#111" stroke-width="5.3" fill="none" stroke-linejoin="miter"/>
<text x="203.5" y="1717.1" font-size="79" textLength="120.4" lengthAdjust="spacingAndGlyphs">AM</text>
<text x="328.6" y="1689.2" font-size="52">O</text>
<text x="369.5" y="1720.3" font-size="86">+</text>
<text x="415.8" y="1717.1" font-size="79">T</text>
<text x="732" y="1718.4" font-size="79" textLength="120.4" lengthAdjust="spacingAndGlyphs">AM</text>
<text x="855.9" y="1716.5" font-size="77" class="b">(</text>
<text x="883.4" y="1718.4" font-size="79">T</text>
<text x="933.4" y="1716.5" font-size="77" class="b">)</text>
<text x="1346.1" y="1717.8" font-size="79">A</text>
<text x="1403.7" y="1689.6" font-size="52">#</text>
<text x="1433" y="1720.3" font-size="86">+</text>
<text x="1478.7" y="1717.8" font-size="79">M</text>
<text x="1555.9" y="1724.7" font-size="79">•</text>
<text x="1592.1" y="1717.8" font-size="79">T</text>
<path d="M470.1 1688.1H714M700.8 1673.8L715 1688.1L700.8 1702.9M717.4 1711.3H472M484.9 1697L470.8 1711.3L484.9 1726.3" stroke="#111" stroke-width="3.3" fill="none" stroke-linecap="round"/>
<path d="M962.6 1688.3H1335M1321.5 1673.9L1335.6 1688.3L1321.5 1702.8M1337.8 1711.1H965M977.5 1697.3L963.4 1711.1L977.5 1726.3" stroke="#111" stroke-width="3.3" fill="none" stroke-linecap="round"/>
<text x="537.3" y="1668.7" font-size="51" class="i">k</text>
<text x="565.8" y="1667.8" font-size="51" class="b">’</text>
<text x="577.9" y="1686.1" font-size="42">+1T</text>
<text x="537.3" y="1750.3" font-size="51" class="i">k</text>
<text x="565.8" y="1749.4" font-size="51" class="b">’</text>
<text x="577.9" y="1766.8" font-size="42">−1T</text>
<text x="1029.9" y="1667.5" font-size="51" class="i">k</text>
<text x="1057.3" y="1666.6" font-size="51" class="b">’</text>
<text x="1068.9" y="1684.1" font-size="40" textLength="62" lengthAdjust="spacingAndGlyphs">+2T</text>
<text x="1143.5" y="1667.7" font-size="48" class="b">(</text>
<text x="1163.9" y="1667.5" font-size="51" class="i">k</text>
<text x="1185" y="1685.1" font-size="38" class="i" textLength="60" lengthAdjust="spacing">diss</text>
<text x="1252" y="1668" font-size="51" class="b">)</text>
</svg></body></html>
